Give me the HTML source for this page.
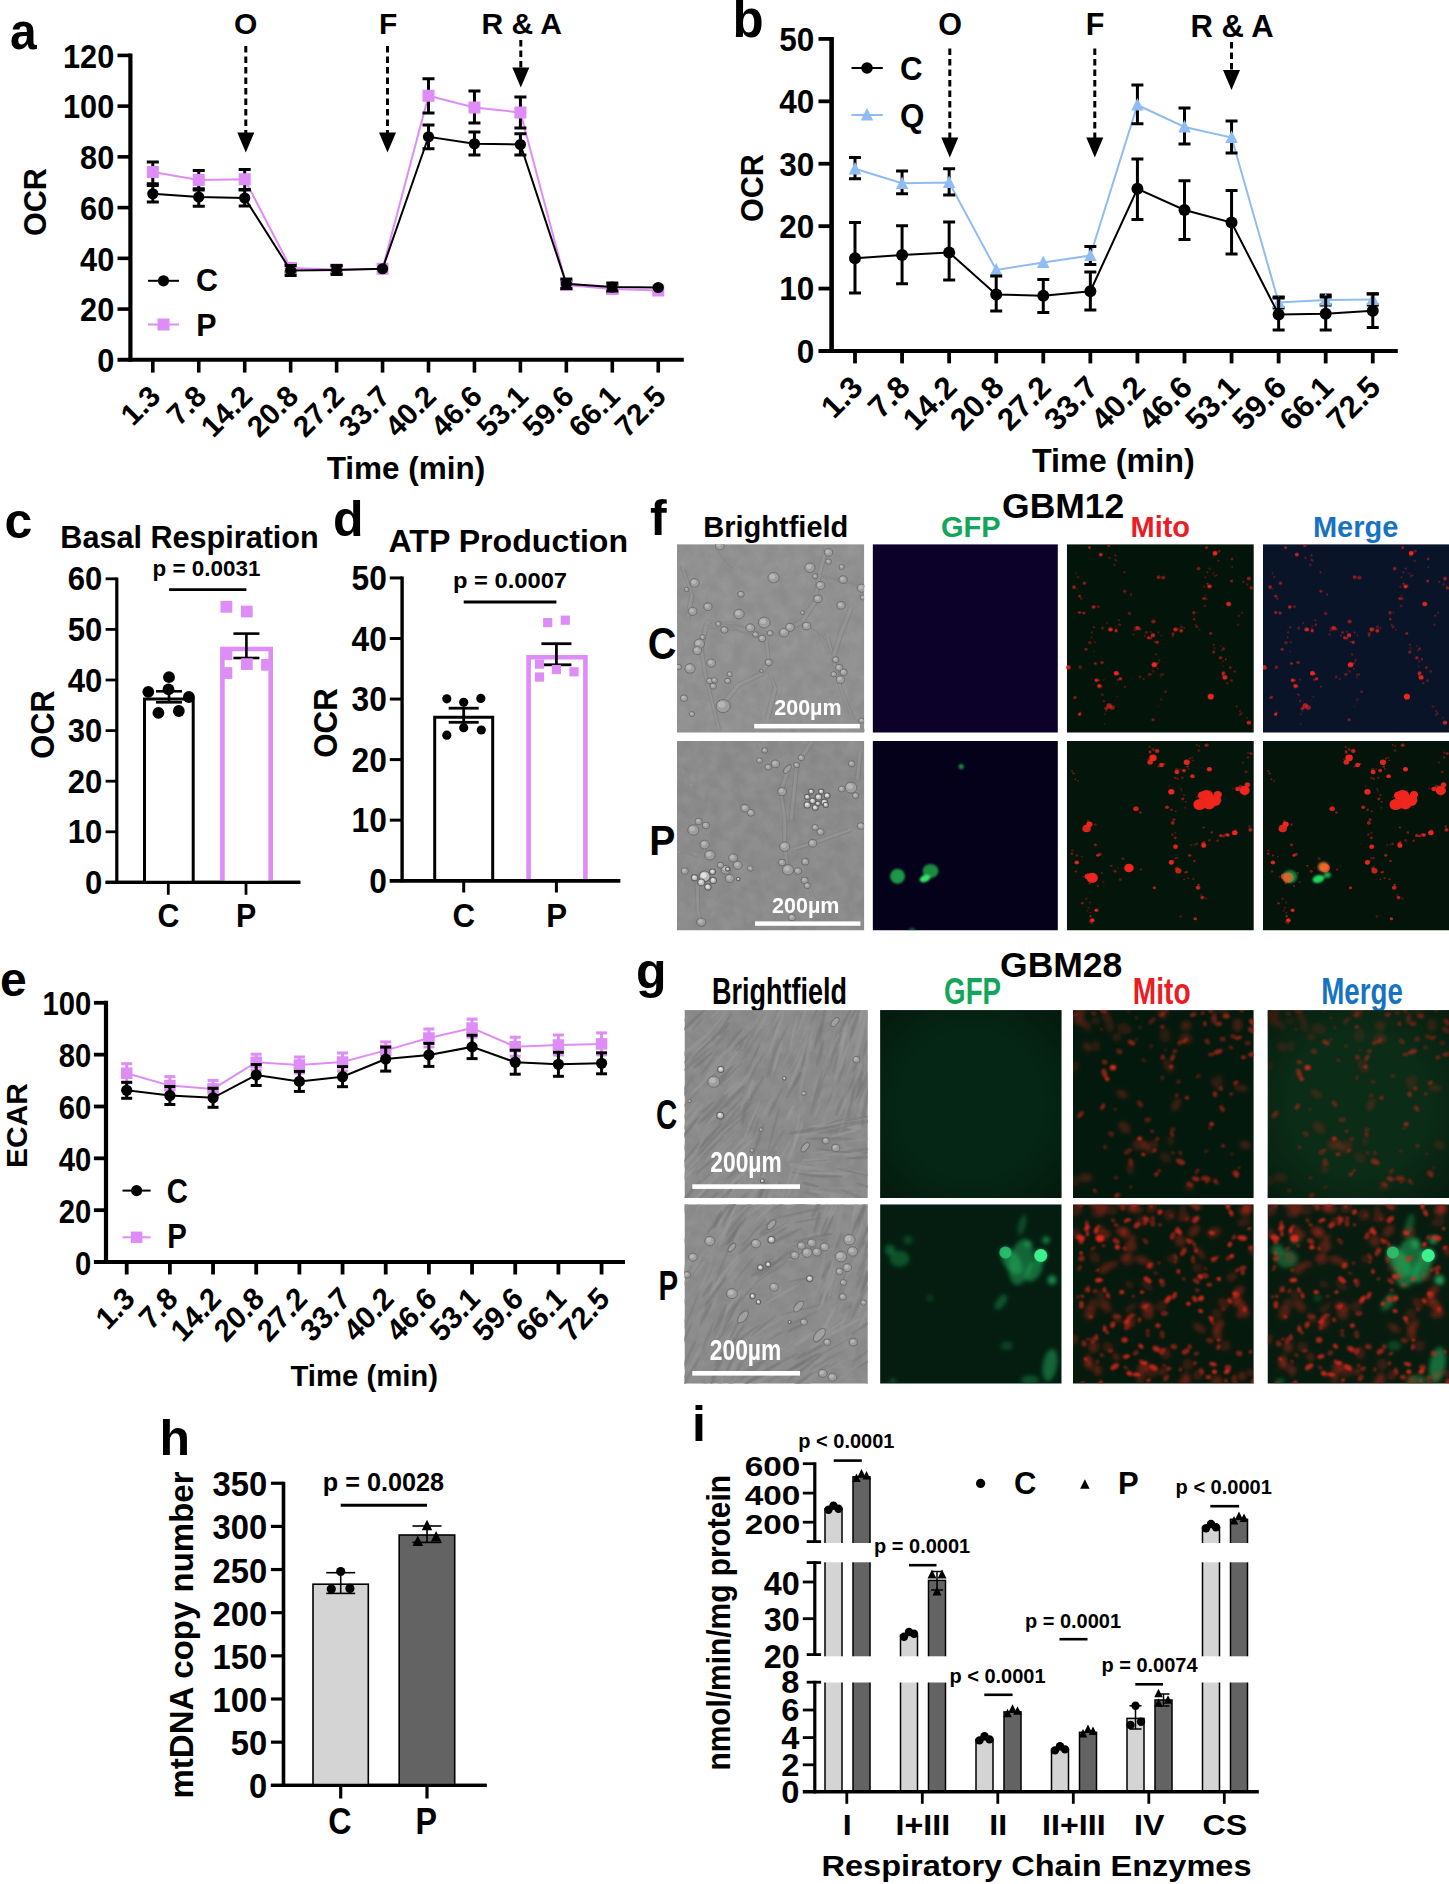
<!DOCTYPE html>
<html lang="en"><head><meta charset="utf-8"><title>Figure</title>
<style>html,body{margin:0;padding:0;background:#fff}svg{display:block}text{font-family:"Liberation Sans", sans-serif;font-weight:bold}</style></head>
<body>
<svg width="1449" height="1884" viewBox="0 0 1449 1884" font-family='"Liberation Sans", sans-serif' font-weight="bold" stroke="#000" fill="#000">
<rect width="1449" height="1884" fill="#fff" stroke="none"/>
<text stroke="none" transform="translate(10,49) scale(0.94,1)" font-size="51">a</text>
<line x1="130.4" y1="53.5" x2="130.4" y2="361.8" stroke-width="4.2"/>
<line x1="117.5" y1="359.8" x2="683.8" y2="359.8" stroke-width="4"/>
<text stroke="none" transform="translate(114.2,372.1) scale(0.93,1)" font-size="33" text-anchor="end">0</text>
<line x1="117.5" y1="309.07" x2="130.4" y2="309.07" stroke-width="3.6"/>
<text stroke="none" transform="translate(114.2,321.37) scale(0.93,1)" font-size="33" text-anchor="end">20</text>
<line x1="117.5" y1="258.33" x2="130.4" y2="258.33" stroke-width="3.6"/>
<text stroke="none" transform="translate(114.2,270.63) scale(0.93,1)" font-size="33" text-anchor="end">40</text>
<line x1="117.5" y1="207.6" x2="130.4" y2="207.6" stroke-width="3.6"/>
<text stroke="none" transform="translate(114.2,219.9) scale(0.93,1)" font-size="33" text-anchor="end">60</text>
<line x1="117.5" y1="156.87" x2="130.4" y2="156.87" stroke-width="3.6"/>
<text stroke="none" transform="translate(114.2,169.17) scale(0.93,1)" font-size="33" text-anchor="end">80</text>
<line x1="117.5" y1="106.13" x2="130.4" y2="106.13" stroke-width="3.6"/>
<text stroke="none" transform="translate(114.2,118.43) scale(0.93,1)" font-size="33" text-anchor="end">100</text>
<line x1="117.5" y1="55.4" x2="130.4" y2="55.4" stroke-width="3.6"/>
<text stroke="none" transform="translate(114.2,67.7) scale(0.93,1)" font-size="33" text-anchor="end">120</text>
<line x1="152.8" y1="359.8" x2="152.8" y2="372.6" stroke-width="3.6"/>
<text stroke="none" transform="translate(162.2,398) rotate(-45)" font-size="29.6" text-anchor="end">1.3</text>
<line x1="198.75" y1="359.8" x2="198.75" y2="372.6" stroke-width="3.6"/>
<text stroke="none" transform="translate(208.15,398) rotate(-45)" font-size="29.6" text-anchor="end">7.8</text>
<line x1="244.7" y1="359.8" x2="244.7" y2="372.6" stroke-width="3.6"/>
<text stroke="none" transform="translate(254.1,398) rotate(-45)" font-size="29.6" text-anchor="end">14.2</text>
<line x1="290.65" y1="359.8" x2="290.65" y2="372.6" stroke-width="3.6"/>
<text stroke="none" transform="translate(300.05,398) rotate(-45)" font-size="29.6" text-anchor="end">20.8</text>
<line x1="336.6" y1="359.8" x2="336.6" y2="372.6" stroke-width="3.6"/>
<text stroke="none" transform="translate(346,398) rotate(-45)" font-size="29.6" text-anchor="end">27.2</text>
<line x1="382.55" y1="359.8" x2="382.55" y2="372.6" stroke-width="3.6"/>
<text stroke="none" transform="translate(391.95,398) rotate(-45)" font-size="29.6" text-anchor="end">33.7</text>
<line x1="428.5" y1="359.8" x2="428.5" y2="372.6" stroke-width="3.6"/>
<text stroke="none" transform="translate(437.9,398) rotate(-45)" font-size="29.6" text-anchor="end">40.2</text>
<line x1="474.45" y1="359.8" x2="474.45" y2="372.6" stroke-width="3.6"/>
<text stroke="none" transform="translate(483.85,398) rotate(-45)" font-size="29.6" text-anchor="end">46.6</text>
<line x1="520.4" y1="359.8" x2="520.4" y2="372.6" stroke-width="3.6"/>
<text stroke="none" transform="translate(529.8,398) rotate(-45)" font-size="29.6" text-anchor="end">53.1</text>
<line x1="566.35" y1="359.8" x2="566.35" y2="372.6" stroke-width="3.6"/>
<text stroke="none" transform="translate(575.75,398) rotate(-45)" font-size="29.6" text-anchor="end">59.6</text>
<line x1="612.3" y1="359.8" x2="612.3" y2="372.6" stroke-width="3.6"/>
<text stroke="none" transform="translate(621.7,398) rotate(-45)" font-size="29.6" text-anchor="end">66.1</text>
<line x1="658.25" y1="359.8" x2="658.25" y2="372.6" stroke-width="3.6"/>
<text stroke="none" transform="translate(667.65,398) rotate(-45)" font-size="29.6" text-anchor="end">72.5</text>
<text stroke="none" transform="translate(46.3,202) rotate(-90)" font-size="30.5" text-anchor="middle">OCR</text>
<text stroke="none" transform="translate(406,478.5)" font-size="31.5" text-anchor="middle">Time (min)</text>
<text stroke="none" transform="translate(245.6,34)" font-size="30" text-anchor="middle">O</text>
<line x1="245.8" y1="46" x2="245.8" y2="134.5" stroke-width="3" stroke-dasharray="6.5 4"/>
<polygon points="237.3,132.5 254.3,132.5 245.8,152.5" fill="#000" stroke="none"/>
<text stroke="none" transform="translate(388.2,34)" font-size="30" text-anchor="middle">F</text>
<line x1="387.5" y1="46" x2="387.5" y2="134.5" stroke-width="3" stroke-dasharray="6.5 4"/>
<polygon points="379,132.5 396,132.5 387.5,152.5" fill="#000" stroke="none"/>
<text stroke="none" transform="translate(521.7,34)" font-size="30" text-anchor="middle">R &amp; A</text>
<line x1="520.8" y1="40" x2="520.8" y2="69.5" stroke-width="3" stroke-dasharray="6.5 4"/>
<polygon points="512.3,67.5 529.3,67.5 520.8,87.5" fill="#000" stroke="none"/>
<polyline points="152.8,172 198.75,180 244.7,179.25 290.65,268 336.6,269.5 382.55,268.75 428.5,95.75 474.45,107.5 520.4,112.5 566.35,285 612.3,289 658.25,290.5" fill="none" stroke="#de8cf6" stroke-width="2"/>
<line x1="152.8" y1="162" x2="152.8" y2="185.5" stroke-width="3"/>
<line x1="146.8" y1="162" x2="158.8" y2="162" stroke-width="3"/>
<line x1="146.8" y1="185.5" x2="158.8" y2="185.5" stroke-width="3"/>
<rect x="146.8" y="166" width="12" height="12" fill="#de8cf6" stroke="none"/>
<line x1="198.75" y1="170.5" x2="198.75" y2="190" stroke-width="3"/>
<line x1="192.75" y1="170.5" x2="204.75" y2="170.5" stroke-width="3"/>
<line x1="192.75" y1="190" x2="204.75" y2="190" stroke-width="3"/>
<rect x="192.75" y="174" width="12" height="12" fill="#de8cf6" stroke="none"/>
<line x1="244.7" y1="169.5" x2="244.7" y2="189.5" stroke-width="3"/>
<line x1="238.7" y1="169.5" x2="250.7" y2="169.5" stroke-width="3"/>
<line x1="238.7" y1="189.5" x2="250.7" y2="189.5" stroke-width="3"/>
<rect x="238.7" y="173.25" width="12" height="12" fill="#de8cf6" stroke="none"/>
<line x1="290.65" y1="264" x2="290.65" y2="272" stroke-width="3"/>
<line x1="284.65" y1="264" x2="296.65" y2="264" stroke-width="3"/>
<line x1="284.65" y1="272" x2="296.65" y2="272" stroke-width="3"/>
<rect x="284.65" y="262" width="12" height="12" fill="#de8cf6" stroke="none"/>
<line x1="336.6" y1="266" x2="336.6" y2="273" stroke-width="3"/>
<line x1="330.6" y1="266" x2="342.6" y2="266" stroke-width="3"/>
<line x1="330.6" y1="273" x2="342.6" y2="273" stroke-width="3"/>
<rect x="330.6" y="263.5" width="12" height="12" fill="#de8cf6" stroke="none"/>
<rect x="376.55" y="262.75" width="12" height="12" fill="#de8cf6" stroke="none"/>
<line x1="428.5" y1="78.75" x2="428.5" y2="113" stroke-width="3"/>
<line x1="422.5" y1="78.75" x2="434.5" y2="78.75" stroke-width="3"/>
<line x1="422.5" y1="113" x2="434.5" y2="113" stroke-width="3"/>
<rect x="422.5" y="89.75" width="12" height="12" fill="#de8cf6" stroke="none"/>
<line x1="474.45" y1="91" x2="474.45" y2="123" stroke-width="3"/>
<line x1="468.45" y1="91" x2="480.45" y2="91" stroke-width="3"/>
<line x1="468.45" y1="123" x2="480.45" y2="123" stroke-width="3"/>
<rect x="468.45" y="101.5" width="12" height="12" fill="#de8cf6" stroke="none"/>
<line x1="520.4" y1="97" x2="520.4" y2="128" stroke-width="3"/>
<line x1="514.4" y1="97" x2="526.4" y2="97" stroke-width="3"/>
<line x1="514.4" y1="128" x2="526.4" y2="128" stroke-width="3"/>
<rect x="514.4" y="106.5" width="12" height="12" fill="#de8cf6" stroke="none"/>
<line x1="566.35" y1="281" x2="566.35" y2="289" stroke-width="3"/>
<line x1="560.35" y1="281" x2="572.35" y2="281" stroke-width="3"/>
<line x1="560.35" y1="289" x2="572.35" y2="289" stroke-width="3"/>
<rect x="560.35" y="279" width="12" height="12" fill="#de8cf6" stroke="none"/>
<line x1="612.3" y1="285.5" x2="612.3" y2="292.5" stroke-width="3"/>
<line x1="606.3" y1="285.5" x2="618.3" y2="285.5" stroke-width="3"/>
<line x1="606.3" y1="292.5" x2="618.3" y2="292.5" stroke-width="3"/>
<rect x="606.3" y="283" width="12" height="12" fill="#de8cf6" stroke="none"/>
<rect x="652.25" y="284.5" width="12" height="12" fill="#de8cf6" stroke="none"/>
<polyline points="152.8,193.75 198.75,197 244.7,198 290.65,270.5 336.6,270 382.55,268.75 428.5,136.75 474.45,143.75 520.4,144.5 566.35,283.75 612.3,287 658.25,287.5" fill="none" stroke="#000" stroke-width="2"/>
<line x1="152.8" y1="183.75" x2="152.8" y2="202" stroke-width="3"/>
<line x1="146.8" y1="183.75" x2="158.8" y2="183.75" stroke-width="3"/>
<line x1="146.8" y1="202" x2="158.8" y2="202" stroke-width="3"/>
<circle cx="152.8" cy="193.75" r="5.6" fill="#000" stroke="none"/>
<line x1="198.75" y1="188.75" x2="198.75" y2="206.25" stroke-width="3"/>
<line x1="192.75" y1="188.75" x2="204.75" y2="188.75" stroke-width="3"/>
<line x1="192.75" y1="206.25" x2="204.75" y2="206.25" stroke-width="3"/>
<circle cx="198.75" cy="197" r="5.6" fill="#000" stroke="none"/>
<line x1="244.7" y1="190" x2="244.7" y2="206" stroke-width="3"/>
<line x1="238.7" y1="190" x2="250.7" y2="190" stroke-width="3"/>
<line x1="238.7" y1="206" x2="250.7" y2="206" stroke-width="3"/>
<circle cx="244.7" cy="198" r="5.6" fill="#000" stroke="none"/>
<line x1="290.65" y1="265.5" x2="290.65" y2="275.5" stroke-width="3"/>
<line x1="284.65" y1="265.5" x2="296.65" y2="265.5" stroke-width="3"/>
<line x1="284.65" y1="275.5" x2="296.65" y2="275.5" stroke-width="3"/>
<circle cx="290.65" cy="270.5" r="5.6" fill="#000" stroke="none"/>
<line x1="336.6" y1="265.5" x2="336.6" y2="274.5" stroke-width="3"/>
<line x1="330.6" y1="265.5" x2="342.6" y2="265.5" stroke-width="3"/>
<line x1="330.6" y1="274.5" x2="342.6" y2="274.5" stroke-width="3"/>
<circle cx="336.6" cy="270" r="5.6" fill="#000" stroke="none"/>
<circle cx="382.55" cy="268.75" r="5.6" fill="#000" stroke="none"/>
<line x1="428.5" y1="125" x2="428.5" y2="148.75" stroke-width="3"/>
<line x1="422.5" y1="125" x2="434.5" y2="125" stroke-width="3"/>
<line x1="422.5" y1="148.75" x2="434.5" y2="148.75" stroke-width="3"/>
<circle cx="428.5" cy="136.75" r="5.6" fill="#000" stroke="none"/>
<line x1="474.45" y1="132" x2="474.45" y2="155" stroke-width="3"/>
<line x1="468.45" y1="132" x2="480.45" y2="132" stroke-width="3"/>
<line x1="468.45" y1="155" x2="480.45" y2="155" stroke-width="3"/>
<circle cx="474.45" cy="143.75" r="5.6" fill="#000" stroke="none"/>
<line x1="520.4" y1="133.75" x2="520.4" y2="155" stroke-width="3"/>
<line x1="514.4" y1="133.75" x2="526.4" y2="133.75" stroke-width="3"/>
<line x1="514.4" y1="155" x2="526.4" y2="155" stroke-width="3"/>
<circle cx="520.4" cy="144.5" r="5.6" fill="#000" stroke="none"/>
<line x1="566.35" y1="279" x2="566.35" y2="288.5" stroke-width="3"/>
<line x1="560.35" y1="279" x2="572.35" y2="279" stroke-width="3"/>
<line x1="560.35" y1="288.5" x2="572.35" y2="288.5" stroke-width="3"/>
<circle cx="566.35" cy="283.75" r="5.6" fill="#000" stroke="none"/>
<line x1="612.3" y1="283" x2="612.3" y2="291" stroke-width="3"/>
<line x1="606.3" y1="283" x2="618.3" y2="283" stroke-width="3"/>
<line x1="606.3" y1="291" x2="618.3" y2="291" stroke-width="3"/>
<circle cx="612.3" cy="287" r="5.6" fill="#000" stroke="none"/>
<circle cx="658.25" cy="287.5" r="5.6" fill="#000" stroke="none"/>
<line x1="148" y1="280.8" x2="179" y2="280.8" stroke-width="2"/>
<circle cx="163.5" cy="280.8" r="5.6" fill="#000" stroke="none"/>
<text stroke="none" transform="translate(196,291.4) scale(0.95,1)" font-size="32">C</text>
<line x1="148" y1="324.5" x2="179" y2="324.5" stroke-width="2" stroke="#de8cf6"/>
<rect x="157.5" y="318.5" width="12" height="12" fill="#de8cf6" stroke="none"/>
<text stroke="none" transform="translate(196.3,335.9) scale(0.95,1)" font-size="32">P</text>
<text stroke="none" transform="translate(732.5,36.5)" font-size="51">b</text>
<line x1="831.6" y1="36.9" x2="831.6" y2="353" stroke-width="4.6"/>
<line x1="818.5" y1="351" x2="1397.8" y2="351" stroke-width="4.2"/>
<text stroke="none" transform="translate(814.3,362.8) scale(0.94,1)" font-size="33.5" text-anchor="end">0</text>
<line x1="818.5" y1="288.58" x2="831.6" y2="288.58" stroke-width="3.8"/>
<text stroke="none" transform="translate(814.3,300.38) scale(0.94,1)" font-size="33.5" text-anchor="end">10</text>
<line x1="818.5" y1="226.16" x2="831.6" y2="226.16" stroke-width="3.8"/>
<text stroke="none" transform="translate(814.3,237.96) scale(0.94,1)" font-size="33.5" text-anchor="end">20</text>
<line x1="818.5" y1="163.74" x2="831.6" y2="163.74" stroke-width="3.8"/>
<text stroke="none" transform="translate(814.3,175.54) scale(0.94,1)" font-size="33.5" text-anchor="end">30</text>
<line x1="818.5" y1="101.32" x2="831.6" y2="101.32" stroke-width="3.8"/>
<text stroke="none" transform="translate(814.3,113.12) scale(0.94,1)" font-size="33.5" text-anchor="end">40</text>
<line x1="818.5" y1="38.9" x2="831.6" y2="38.9" stroke-width="3.8"/>
<text stroke="none" transform="translate(814.3,50.7) scale(0.94,1)" font-size="33.5" text-anchor="end">50</text>
<line x1="855" y1="351" x2="855" y2="363.4" stroke-width="3.8"/>
<text stroke="none" transform="translate(864.6,389.3) rotate(-45)" font-size="31.2" text-anchor="end">1.3</text>
<line x1="902.07" y1="351" x2="902.07" y2="363.4" stroke-width="3.8"/>
<text stroke="none" transform="translate(911.67,389.3) rotate(-45)" font-size="31.2" text-anchor="end">7.8</text>
<line x1="949.14" y1="351" x2="949.14" y2="363.4" stroke-width="3.8"/>
<text stroke="none" transform="translate(958.74,389.3) rotate(-45)" font-size="31.2" text-anchor="end">14.2</text>
<line x1="996.21" y1="351" x2="996.21" y2="363.4" stroke-width="3.8"/>
<text stroke="none" transform="translate(1005.81,389.3) rotate(-45)" font-size="31.2" text-anchor="end">20.8</text>
<line x1="1043.28" y1="351" x2="1043.28" y2="363.4" stroke-width="3.8"/>
<text stroke="none" transform="translate(1052.88,389.3) rotate(-45)" font-size="31.2" text-anchor="end">27.2</text>
<line x1="1090.35" y1="351" x2="1090.35" y2="363.4" stroke-width="3.8"/>
<text stroke="none" transform="translate(1099.95,389.3) rotate(-45)" font-size="31.2" text-anchor="end">33.7</text>
<line x1="1137.42" y1="351" x2="1137.42" y2="363.4" stroke-width="3.8"/>
<text stroke="none" transform="translate(1147.02,389.3) rotate(-45)" font-size="31.2" text-anchor="end">40.2</text>
<line x1="1184.49" y1="351" x2="1184.49" y2="363.4" stroke-width="3.8"/>
<text stroke="none" transform="translate(1194.09,389.3) rotate(-45)" font-size="31.2" text-anchor="end">46.6</text>
<line x1="1231.56" y1="351" x2="1231.56" y2="363.4" stroke-width="3.8"/>
<text stroke="none" transform="translate(1241.16,389.3) rotate(-45)" font-size="31.2" text-anchor="end">53.1</text>
<line x1="1278.63" y1="351" x2="1278.63" y2="363.4" stroke-width="3.8"/>
<text stroke="none" transform="translate(1288.23,389.3) rotate(-45)" font-size="31.2" text-anchor="end">59.6</text>
<line x1="1325.7" y1="351" x2="1325.7" y2="363.4" stroke-width="3.8"/>
<text stroke="none" transform="translate(1335.3,389.3) rotate(-45)" font-size="31.2" text-anchor="end">66.1</text>
<line x1="1372.77" y1="351" x2="1372.77" y2="363.4" stroke-width="3.8"/>
<text stroke="none" transform="translate(1382.37,389.3) rotate(-45)" font-size="31.2" text-anchor="end">72.5</text>
<text stroke="none" transform="translate(762.6,188) rotate(-90)" font-size="30.5" text-anchor="middle">OCR</text>
<text stroke="none" transform="translate(1113.3,472)" font-size="32.3" text-anchor="middle">Time (min)</text>
<text stroke="none" transform="translate(950,35)" font-size="30.5" text-anchor="middle">O</text>
<line x1="949.8" y1="48.5" x2="949.8" y2="139.5" stroke-width="3" stroke-dasharray="6.5 4"/>
<polygon points="941.3,137.5 958.3,137.5 949.8,157.5" fill="#000" stroke="none"/>
<text stroke="none" transform="translate(1095,35)" font-size="30.5" text-anchor="middle">F</text>
<line x1="1094.8" y1="48.5" x2="1094.8" y2="139.5" stroke-width="3" stroke-dasharray="6.5 4"/>
<polygon points="1086.3,137.5 1103.3,137.5 1094.8,157.5" fill="#000" stroke="none"/>
<text stroke="none" transform="translate(1232,36.5)" font-size="31" text-anchor="middle">R &amp; A</text>
<line x1="1231.5" y1="42" x2="1231.5" y2="72" stroke-width="3" stroke-dasharray="6.5 4"/>
<polygon points="1223,70 1240,70 1231.5,90" fill="#000" stroke="none"/>
<polyline points="855,168.75 902.07,183.25 949.14,182.5 996.21,270 1043.28,262.5 1090.35,255.5 1137.42,105 1184.49,127 1231.56,137.5 1278.63,302.5 1325.7,300 1372.77,299.5" fill="none" stroke="#8fbcf3" stroke-width="2"/>
<line x1="855" y1="157.5" x2="855" y2="178.75" stroke-width="3"/>
<line x1="849" y1="157.5" x2="861" y2="157.5" stroke-width="3"/>
<line x1="849" y1="178.75" x2="861" y2="178.75" stroke-width="3"/>
<polygon points="855,161.88 848.75,174.38 861.25,174.38" fill="#8fbcf3" stroke="none"/>
<line x1="902.07" y1="171" x2="902.07" y2="193.75" stroke-width="3"/>
<line x1="896.07" y1="171" x2="908.07" y2="171" stroke-width="3"/>
<line x1="896.07" y1="193.75" x2="908.07" y2="193.75" stroke-width="3"/>
<polygon points="902.07,176.38 895.82,188.88 908.32,188.88" fill="#8fbcf3" stroke="none"/>
<line x1="949.14" y1="168.75" x2="949.14" y2="195" stroke-width="3"/>
<line x1="943.14" y1="168.75" x2="955.14" y2="168.75" stroke-width="3"/>
<line x1="943.14" y1="195" x2="955.14" y2="195" stroke-width="3"/>
<polygon points="949.14,175.62 942.89,188.12 955.39,188.12" fill="#8fbcf3" stroke="none"/>
<polygon points="996.21,263.12 989.96,275.62 1002.46,275.62" fill="#8fbcf3" stroke="none"/>
<polygon points="1043.28,255.62 1037.03,268.12 1049.53,268.12" fill="#8fbcf3" stroke="none"/>
<line x1="1090.35" y1="246.5" x2="1090.35" y2="264.5" stroke-width="3"/>
<line x1="1084.35" y1="246.5" x2="1096.35" y2="246.5" stroke-width="3"/>
<line x1="1084.35" y1="264.5" x2="1096.35" y2="264.5" stroke-width="3"/>
<polygon points="1090.35,248.62 1084.1,261.12 1096.6,261.12" fill="#8fbcf3" stroke="none"/>
<line x1="1137.42" y1="85" x2="1137.42" y2="123.75" stroke-width="3"/>
<line x1="1131.42" y1="85" x2="1143.42" y2="85" stroke-width="3"/>
<line x1="1131.42" y1="123.75" x2="1143.42" y2="123.75" stroke-width="3"/>
<polygon points="1137.42,98.12 1131.17,110.62 1143.67,110.62" fill="#8fbcf3" stroke="none"/>
<line x1="1184.49" y1="108" x2="1184.49" y2="144" stroke-width="3"/>
<line x1="1178.49" y1="108" x2="1190.49" y2="108" stroke-width="3"/>
<line x1="1178.49" y1="144" x2="1190.49" y2="144" stroke-width="3"/>
<polygon points="1184.49,120.12 1178.24,132.62 1190.74,132.62" fill="#8fbcf3" stroke="none"/>
<line x1="1231.56" y1="121" x2="1231.56" y2="153" stroke-width="3"/>
<line x1="1225.56" y1="121" x2="1237.56" y2="121" stroke-width="3"/>
<line x1="1225.56" y1="153" x2="1237.56" y2="153" stroke-width="3"/>
<polygon points="1231.56,130.62 1225.31,143.12 1237.81,143.12" fill="#8fbcf3" stroke="none"/>
<line x1="1278.63" y1="297" x2="1278.63" y2="308" stroke-width="3"/>
<line x1="1272.63" y1="297" x2="1284.63" y2="297" stroke-width="3"/>
<line x1="1272.63" y1="308" x2="1284.63" y2="308" stroke-width="3"/>
<polygon points="1278.63,295.62 1272.38,308.12 1284.88,308.12" fill="#8fbcf3" stroke="none"/>
<line x1="1325.7" y1="295" x2="1325.7" y2="305" stroke-width="3"/>
<line x1="1319.7" y1="295" x2="1331.7" y2="295" stroke-width="3"/>
<line x1="1319.7" y1="305" x2="1331.7" y2="305" stroke-width="3"/>
<polygon points="1325.7,293.12 1319.45,305.62 1331.95,305.62" fill="#8fbcf3" stroke="none"/>
<line x1="1372.77" y1="294" x2="1372.77" y2="305" stroke-width="3"/>
<line x1="1366.77" y1="294" x2="1378.77" y2="294" stroke-width="3"/>
<line x1="1366.77" y1="305" x2="1378.77" y2="305" stroke-width="3"/>
<polygon points="1372.77,292.62 1366.52,305.12 1379.02,305.12" fill="#8fbcf3" stroke="none"/>
<polyline points="855,258.25 902.07,255 949.14,252.5 996.21,294.5 1043.28,295.75 1090.35,291.25 1137.42,188.75 1184.49,210 1231.56,222.5 1278.63,314.5 1325.7,313.75 1372.77,310.75" fill="none" stroke="#000" stroke-width="2"/>
<line x1="855" y1="222.5" x2="855" y2="293" stroke-width="3"/>
<line x1="849" y1="222.5" x2="861" y2="222.5" stroke-width="3"/>
<line x1="849" y1="293" x2="861" y2="293" stroke-width="3"/>
<circle cx="855" cy="258.25" r="6" fill="#000" stroke="none"/>
<line x1="902.07" y1="225.75" x2="902.07" y2="283.75" stroke-width="3"/>
<line x1="896.07" y1="225.75" x2="908.07" y2="225.75" stroke-width="3"/>
<line x1="896.07" y1="283.75" x2="908.07" y2="283.75" stroke-width="3"/>
<circle cx="902.07" cy="255" r="6" fill="#000" stroke="none"/>
<line x1="949.14" y1="222" x2="949.14" y2="280" stroke-width="3"/>
<line x1="943.14" y1="222" x2="955.14" y2="222" stroke-width="3"/>
<line x1="943.14" y1="280" x2="955.14" y2="280" stroke-width="3"/>
<circle cx="949.14" cy="252.5" r="6" fill="#000" stroke="none"/>
<line x1="996.21" y1="276" x2="996.21" y2="311" stroke-width="3"/>
<line x1="990.21" y1="276" x2="1002.21" y2="276" stroke-width="3"/>
<line x1="990.21" y1="311" x2="1002.21" y2="311" stroke-width="3"/>
<circle cx="996.21" cy="294.5" r="6" fill="#000" stroke="none"/>
<line x1="1043.28" y1="279.5" x2="1043.28" y2="312.5" stroke-width="3"/>
<line x1="1037.28" y1="279.5" x2="1049.28" y2="279.5" stroke-width="3"/>
<line x1="1037.28" y1="312.5" x2="1049.28" y2="312.5" stroke-width="3"/>
<circle cx="1043.28" cy="295.75" r="6" fill="#000" stroke="none"/>
<line x1="1090.35" y1="272" x2="1090.35" y2="310" stroke-width="3"/>
<line x1="1084.35" y1="272" x2="1096.35" y2="272" stroke-width="3"/>
<line x1="1084.35" y1="310" x2="1096.35" y2="310" stroke-width="3"/>
<circle cx="1090.35" cy="291.25" r="6" fill="#000" stroke="none"/>
<line x1="1137.42" y1="159" x2="1137.42" y2="219.5" stroke-width="3"/>
<line x1="1131.42" y1="159" x2="1143.42" y2="159" stroke-width="3"/>
<line x1="1131.42" y1="219.5" x2="1143.42" y2="219.5" stroke-width="3"/>
<circle cx="1137.42" cy="188.75" r="6" fill="#000" stroke="none"/>
<line x1="1184.49" y1="180.75" x2="1184.49" y2="239.5" stroke-width="3"/>
<line x1="1178.49" y1="180.75" x2="1190.49" y2="180.75" stroke-width="3"/>
<line x1="1178.49" y1="239.5" x2="1190.49" y2="239.5" stroke-width="3"/>
<circle cx="1184.49" cy="210" r="6" fill="#000" stroke="none"/>
<line x1="1231.56" y1="190.5" x2="1231.56" y2="254" stroke-width="3"/>
<line x1="1225.56" y1="190.5" x2="1237.56" y2="190.5" stroke-width="3"/>
<line x1="1225.56" y1="254" x2="1237.56" y2="254" stroke-width="3"/>
<circle cx="1231.56" cy="222.5" r="6" fill="#000" stroke="none"/>
<line x1="1278.63" y1="298" x2="1278.63" y2="330" stroke-width="3"/>
<line x1="1272.63" y1="298" x2="1284.63" y2="298" stroke-width="3"/>
<line x1="1272.63" y1="330" x2="1284.63" y2="330" stroke-width="3"/>
<circle cx="1278.63" cy="314.5" r="6" fill="#000" stroke="none"/>
<line x1="1325.7" y1="297" x2="1325.7" y2="330" stroke-width="3"/>
<line x1="1319.7" y1="297" x2="1331.7" y2="297" stroke-width="3"/>
<line x1="1319.7" y1="330" x2="1331.7" y2="330" stroke-width="3"/>
<circle cx="1325.7" cy="313.75" r="6" fill="#000" stroke="none"/>
<line x1="1372.77" y1="293.75" x2="1372.77" y2="327.5" stroke-width="3"/>
<line x1="1366.77" y1="293.75" x2="1378.77" y2="293.75" stroke-width="3"/>
<line x1="1366.77" y1="327.5" x2="1378.77" y2="327.5" stroke-width="3"/>
<circle cx="1372.77" cy="310.75" r="6" fill="#000" stroke="none"/>
<line x1="851.5" y1="68" x2="882.8" y2="68" stroke-width="2"/>
<circle cx="867" cy="68" r="5.8" fill="#000" stroke="none"/>
<text stroke="none" transform="translate(900,80) scale(0.95,1)" font-size="33">C</text>
<line x1="851.5" y1="115" x2="882.8" y2="115" stroke-width="2" stroke="#8fbcf3"/>
<polygon points="867,108.12 860.75,120.62 873.25,120.62" fill="#8fbcf3" stroke="none"/>
<text stroke="none" transform="translate(900,126.5) scale(0.95,1)" font-size="33">Q</text>
<text stroke="none" transform="translate(4.5,537.6)" font-size="50">c</text>
<text stroke="none" transform="translate(189.5,547.5)" font-size="30.6" text-anchor="middle">Basal Respiration</text>
<text stroke="none" transform="translate(206.5,575.8) scale(1.02,1)" font-size="22" text-anchor="middle">p = 0.0031</text>
<line x1="169" y1="589.7" x2="246.4" y2="589.7" stroke-width="2.8"/>
<line x1="116.8" y1="577.4" x2="116.8" y2="883.9" stroke-width="3.2"/>
<line x1="105.6" y1="882.4" x2="300.3" y2="882.4" stroke-width="3.2"/>
<text stroke="none" transform="translate(102.2,894) scale(0.94,1)" font-size="33" text-anchor="end">0</text>
<line x1="105.6" y1="831.8" x2="116.8" y2="831.8" stroke-width="2.8"/>
<text stroke="none" transform="translate(102.2,843.4) scale(0.94,1)" font-size="33" text-anchor="end">10</text>
<line x1="105.6" y1="781.2" x2="116.8" y2="781.2" stroke-width="2.8"/>
<text stroke="none" transform="translate(102.2,792.8) scale(0.94,1)" font-size="33" text-anchor="end">20</text>
<line x1="105.6" y1="730.6" x2="116.8" y2="730.6" stroke-width="2.8"/>
<text stroke="none" transform="translate(102.2,742.2) scale(0.94,1)" font-size="33" text-anchor="end">30</text>
<line x1="105.6" y1="680" x2="116.8" y2="680" stroke-width="2.8"/>
<text stroke="none" transform="translate(102.2,691.6) scale(0.94,1)" font-size="33" text-anchor="end">40</text>
<line x1="105.6" y1="629.4" x2="116.8" y2="629.4" stroke-width="2.8"/>
<text stroke="none" transform="translate(102.2,641) scale(0.94,1)" font-size="33" text-anchor="end">50</text>
<line x1="105.6" y1="578.8" x2="116.8" y2="578.8" stroke-width="2.8"/>
<text stroke="none" transform="translate(102.2,590.4) scale(0.94,1)" font-size="33" text-anchor="end">60</text>
<line x1="168.3" y1="882.4" x2="168.3" y2="894.8" stroke-width="2.8"/>
<text stroke="none" transform="translate(168.5,927.4) scale(0.92,1)" font-size="33" text-anchor="middle">C</text>
<line x1="246" y1="882.4" x2="246" y2="894.8" stroke-width="2.8"/>
<text stroke="none" transform="translate(246.2,927.4) scale(0.92,1)" font-size="33" text-anchor="middle">P</text>
<text stroke="none" transform="translate(54.1,724.6) rotate(-90) scale(0.92,1)" font-size="33.5" text-anchor="middle">OCR</text>
<path d="M144.5 882.4 V699.1 H193.2 V882.4" fill="#fff" stroke="#000" stroke-width="3"/>
<path d="M222.4 882.4 V649 H270.7 V882.4" fill="#fff" stroke="#de8cf6" stroke-width="4.6"/>
<line x1="105.6" y1="882.4" x2="300.3" y2="882.4" stroke-width="3.2"/>
<line x1="246.4" y1="633.6" x2="246.4" y2="658" stroke-width="2.6"/>
<line x1="233.4" y1="633.6" x2="259.4" y2="633.6" stroke-width="2.6"/>
<line x1="233.4" y1="658" x2="259.4" y2="658" stroke-width="2.6"/>
<line x1="169" y1="691.3" x2="169" y2="702.3" stroke-width="2.6"/>
<line x1="156" y1="691.3" x2="182" y2="691.3" stroke-width="2.6"/>
<line x1="156" y1="702.3" x2="182" y2="702.3" stroke-width="2.6"/>
<circle cx="169" cy="677.2" r="5.9" fill="#000" stroke="none"/>
<circle cx="148.3" cy="691.8" r="5.9" fill="#000" stroke="none"/>
<circle cx="168.5" cy="689.4" r="5.9" fill="#000" stroke="none"/>
<circle cx="188.9" cy="697" r="5.9" fill="#000" stroke="none"/>
<circle cx="158.4" cy="712.9" r="5.9" fill="#000" stroke="none"/>
<circle cx="178.8" cy="711" r="5.9" fill="#000" stroke="none"/>
<rect x="220.5" y="600.9" width="11.8" height="11.8" fill="#de8cf6" stroke="none"/>
<rect x="240.9" y="605.6" width="11.8" height="11.8" fill="#de8cf6" stroke="none"/>
<rect x="220.5" y="648.3" width="11.8" height="11.8" fill="#de8cf6" stroke="none"/>
<rect x="240.9" y="658.2" width="11.8" height="11.8" fill="#de8cf6" stroke="none"/>
<rect x="261.1" y="658.9" width="11.8" height="11.8" fill="#de8cf6" stroke="none"/>
<rect x="220.5" y="667.1" width="11.8" height="11.8" fill="#de8cf6" stroke="none"/>
<text stroke="none" transform="translate(333,535.8)" font-size="50">d</text>
<text stroke="none" transform="translate(508.3,552.2) scale(1.01,1)" font-size="31.8" text-anchor="middle">ATP Production</text>
<text stroke="none" transform="translate(510,587.6) scale(1.05,1)" font-size="22.6" text-anchor="middle">p = 0.0007</text>
<line x1="463.7" y1="601.9" x2="556.4" y2="601.9" stroke-width="3"/>
<line x1="402.1" y1="576.45" x2="402.1" y2="882.3" stroke-width="3.4"/>
<line x1="389.8" y1="880.7" x2="620.2" y2="880.7" stroke-width="3.4"/>
<text stroke="none" transform="translate(386.8,892.9) scale(0.92,1)" font-size="34.5" text-anchor="end">0</text>
<line x1="389.8" y1="820.15" x2="402.1" y2="820.15" stroke-width="3"/>
<text stroke="none" transform="translate(386.8,832.35) scale(0.92,1)" font-size="34.5" text-anchor="end">10</text>
<line x1="389.8" y1="759.6" x2="402.1" y2="759.6" stroke-width="3"/>
<text stroke="none" transform="translate(386.8,771.8) scale(0.92,1)" font-size="34.5" text-anchor="end">20</text>
<line x1="389.8" y1="699.05" x2="402.1" y2="699.05" stroke-width="3"/>
<text stroke="none" transform="translate(386.8,711.25) scale(0.92,1)" font-size="34.5" text-anchor="end">30</text>
<line x1="389.8" y1="638.5" x2="402.1" y2="638.5" stroke-width="3"/>
<text stroke="none" transform="translate(386.8,650.7) scale(0.92,1)" font-size="34.5" text-anchor="end">40</text>
<line x1="389.8" y1="577.95" x2="402.1" y2="577.95" stroke-width="3"/>
<text stroke="none" transform="translate(386.8,590.15) scale(0.92,1)" font-size="34.5" text-anchor="end">50</text>
<line x1="463.7" y1="880.7" x2="463.7" y2="892.5" stroke-width="3"/>
<text stroke="none" transform="translate(463.9,927) scale(0.92,1)" font-size="34" text-anchor="middle">C</text>
<line x1="556.4" y1="880.7" x2="556.4" y2="892.5" stroke-width="3"/>
<text stroke="none" transform="translate(556.6,927) scale(0.92,1)" font-size="34" text-anchor="middle">P</text>
<text stroke="none" transform="translate(337.2,723) rotate(-90) scale(0.92,1)" font-size="34" text-anchor="middle">OCR</text>
<path d="M434.7 880.7 V717.2 H492.7 V880.7" fill="#fff" stroke="#000" stroke-width="3"/>
<path d="M528.6 880.7 V657.2 H585.4 V880.7" fill="#fff" stroke="#de8cf6" stroke-width="4.6"/>
<line x1="389.8" y1="880.7" x2="620.2" y2="880.7" stroke-width="3.4"/>
<line x1="556.4" y1="643.7" x2="556.4" y2="664.8" stroke-width="2.8"/>
<line x1="541.4" y1="643.7" x2="571.4" y2="643.7" stroke-width="2.8"/>
<line x1="541.4" y1="664.8" x2="571.4" y2="664.8" stroke-width="2.8"/>
<line x1="463.7" y1="708.2" x2="463.7" y2="722.3" stroke-width="2.8"/>
<line x1="448.7" y1="708.2" x2="478.7" y2="708.2" stroke-width="2.8"/>
<line x1="448.7" y1="722.3" x2="478.7" y2="722.3" stroke-width="2.8"/>
<circle cx="446.8" cy="698.8" r="4.6" fill="#000" stroke="none"/>
<circle cx="463.7" cy="702.3" r="4.6" fill="#000" stroke="none"/>
<circle cx="480.8" cy="698.4" r="4.6" fill="#000" stroke="none"/>
<circle cx="463.7" cy="727.7" r="4.6" fill="#000" stroke="none"/>
<circle cx="481.3" cy="730" r="4.6" fill="#000" stroke="none"/>
<circle cx="446.8" cy="735.2" r="4.6" fill="#000" stroke="none"/>
<rect x="543.1" y="618" width="9.2" height="9.2" fill="#de8cf6" stroke="none"/>
<rect x="560.7" y="615.6" width="9.2" height="9.2" fill="#de8cf6" stroke="none"/>
<rect x="534.9" y="659.5" width="9.2" height="9.2" fill="#de8cf6" stroke="none"/>
<rect x="551.8" y="664.9" width="9.2" height="9.2" fill="#de8cf6" stroke="none"/>
<rect x="569.4" y="667.2" width="9.2" height="9.2" fill="#de8cf6" stroke="none"/>
<rect x="534.9" y="672.4" width="9.2" height="9.2" fill="#de8cf6" stroke="none"/>
<text stroke="none" transform="translate(0,996)" font-size="48">e</text>
<line x1="106" y1="1000.8" x2="106" y2="1264" stroke-width="4.2"/>
<line x1="93.9" y1="1262" x2="625" y2="1262" stroke-width="4"/>
<text stroke="none" transform="translate(91.2,1274.5) scale(0.86,1)" font-size="34" text-anchor="end">0</text>
<line x1="93.9" y1="1210.16" x2="106" y2="1210.16" stroke-width="3.8"/>
<text stroke="none" transform="translate(91.2,1222.66) scale(0.86,1)" font-size="34" text-anchor="end">20</text>
<line x1="93.9" y1="1158.32" x2="106" y2="1158.32" stroke-width="3.8"/>
<text stroke="none" transform="translate(91.2,1170.82) scale(0.86,1)" font-size="34" text-anchor="end">40</text>
<line x1="93.9" y1="1106.48" x2="106" y2="1106.48" stroke-width="3.8"/>
<text stroke="none" transform="translate(91.2,1118.98) scale(0.86,1)" font-size="34" text-anchor="end">60</text>
<line x1="93.9" y1="1054.64" x2="106" y2="1054.64" stroke-width="3.8"/>
<text stroke="none" transform="translate(91.2,1067.14) scale(0.86,1)" font-size="34" text-anchor="end">80</text>
<line x1="93.9" y1="1002.8" x2="106" y2="1002.8" stroke-width="3.8"/>
<text stroke="none" transform="translate(91.2,1015.3) scale(0.86,1)" font-size="34" text-anchor="end">100</text>
<line x1="126.7" y1="1262" x2="126.7" y2="1274.5" stroke-width="3.8"/>
<text stroke="none" transform="translate(136.3,1300.5) scale(1,1.08) rotate(-45)" font-size="29" text-anchor="end">1.3</text>
<line x1="169.87" y1="1262" x2="169.87" y2="1274.5" stroke-width="3.8"/>
<text stroke="none" transform="translate(179.47,1300.5) scale(1,1.08) rotate(-45)" font-size="29" text-anchor="end">7.8</text>
<line x1="213.04" y1="1262" x2="213.04" y2="1274.5" stroke-width="3.8"/>
<text stroke="none" transform="translate(222.64,1300.5) scale(1,1.08) rotate(-45)" font-size="29" text-anchor="end">14.2</text>
<line x1="256.21" y1="1262" x2="256.21" y2="1274.5" stroke-width="3.8"/>
<text stroke="none" transform="translate(265.81,1300.5) scale(1,1.08) rotate(-45)" font-size="29" text-anchor="end">20.8</text>
<line x1="299.38" y1="1262" x2="299.38" y2="1274.5" stroke-width="3.8"/>
<text stroke="none" transform="translate(308.98,1300.5) scale(1,1.08) rotate(-45)" font-size="29" text-anchor="end">27.2</text>
<line x1="342.55" y1="1262" x2="342.55" y2="1274.5" stroke-width="3.8"/>
<text stroke="none" transform="translate(352.15,1300.5) scale(1,1.08) rotate(-45)" font-size="29" text-anchor="end">33.7</text>
<line x1="385.72" y1="1262" x2="385.72" y2="1274.5" stroke-width="3.8"/>
<text stroke="none" transform="translate(395.32,1300.5) scale(1,1.08) rotate(-45)" font-size="29" text-anchor="end">40.2</text>
<line x1="428.89" y1="1262" x2="428.89" y2="1274.5" stroke-width="3.8"/>
<text stroke="none" transform="translate(438.49,1300.5) scale(1,1.08) rotate(-45)" font-size="29" text-anchor="end">46.6</text>
<line x1="472.06" y1="1262" x2="472.06" y2="1274.5" stroke-width="3.8"/>
<text stroke="none" transform="translate(481.66,1300.5) scale(1,1.08) rotate(-45)" font-size="29" text-anchor="end">53.1</text>
<line x1="515.23" y1="1262" x2="515.23" y2="1274.5" stroke-width="3.8"/>
<text stroke="none" transform="translate(524.83,1300.5) scale(1,1.08) rotate(-45)" font-size="29" text-anchor="end">59.6</text>
<line x1="558.4" y1="1262" x2="558.4" y2="1274.5" stroke-width="3.8"/>
<text stroke="none" transform="translate(568,1300.5) scale(1,1.08) rotate(-45)" font-size="29" text-anchor="end">66.1</text>
<line x1="601.57" y1="1262" x2="601.57" y2="1274.5" stroke-width="3.8"/>
<text stroke="none" transform="translate(611.17,1300.5) scale(1,1.08) rotate(-45)" font-size="29" text-anchor="end">72.5</text>
<text stroke="none" transform="translate(26.9,1125.5) rotate(-90)" font-size="30" text-anchor="middle">ECAR</text>
<text stroke="none" transform="translate(364.2,1386) scale(1,1.03)" font-size="29.3" text-anchor="middle">Time (min)</text>
<polyline points="126.7,1073.2 169.87,1085.6 213.04,1088.9 256.21,1062.2 299.38,1065 342.55,1062 385.72,1050.4 428.89,1038 472.06,1028.1 515.23,1046.7 558.4,1045 601.57,1043.9" fill="none" stroke="#de8cf6" stroke-width="2"/>
<line x1="126.7" y1="1063.7" x2="126.7" y2="1082.7" stroke-width="3" stroke="#de8cf6"/>
<line x1="121.2" y1="1063.7" x2="132.2" y2="1063.7" stroke-width="3" stroke="#de8cf6"/>
<line x1="121.2" y1="1082.7" x2="132.2" y2="1082.7" stroke-width="3" stroke="#de8cf6"/>
<rect x="120.95" y="1067.45" width="11.5" height="11.5" fill="#de8cf6" stroke="none"/>
<line x1="169.87" y1="1076.6" x2="169.87" y2="1094.6" stroke-width="3" stroke="#de8cf6"/>
<line x1="164.37" y1="1076.6" x2="175.37" y2="1076.6" stroke-width="3" stroke="#de8cf6"/>
<line x1="164.37" y1="1094.6" x2="175.37" y2="1094.6" stroke-width="3" stroke="#de8cf6"/>
<rect x="164.12" y="1079.85" width="11.5" height="11.5" fill="#de8cf6" stroke="none"/>
<line x1="213.04" y1="1080.4" x2="213.04" y2="1097.4" stroke-width="3" stroke="#de8cf6"/>
<line x1="207.54" y1="1080.4" x2="218.54" y2="1080.4" stroke-width="3" stroke="#de8cf6"/>
<line x1="207.54" y1="1097.4" x2="218.54" y2="1097.4" stroke-width="3" stroke="#de8cf6"/>
<rect x="207.29" y="1083.15" width="11.5" height="11.5" fill="#de8cf6" stroke="none"/>
<line x1="256.21" y1="1054.2" x2="256.21" y2="1070.2" stroke-width="3" stroke="#de8cf6"/>
<line x1="250.71" y1="1054.2" x2="261.71" y2="1054.2" stroke-width="3" stroke="#de8cf6"/>
<line x1="250.71" y1="1070.2" x2="261.71" y2="1070.2" stroke-width="3" stroke="#de8cf6"/>
<rect x="250.46" y="1056.45" width="11.5" height="11.5" fill="#de8cf6" stroke="none"/>
<line x1="299.38" y1="1057" x2="299.38" y2="1073" stroke-width="3" stroke="#de8cf6"/>
<line x1="293.88" y1="1057" x2="304.88" y2="1057" stroke-width="3" stroke="#de8cf6"/>
<line x1="293.88" y1="1073" x2="304.88" y2="1073" stroke-width="3" stroke="#de8cf6"/>
<rect x="293.63" y="1059.25" width="11.5" height="11.5" fill="#de8cf6" stroke="none"/>
<line x1="342.55" y1="1053" x2="342.55" y2="1071" stroke-width="3" stroke="#de8cf6"/>
<line x1="337.05" y1="1053" x2="348.05" y2="1053" stroke-width="3" stroke="#de8cf6"/>
<line x1="337.05" y1="1071" x2="348.05" y2="1071" stroke-width="3" stroke="#de8cf6"/>
<rect x="336.8" y="1056.25" width="11.5" height="11.5" fill="#de8cf6" stroke="none"/>
<line x1="385.72" y1="1041.9" x2="385.72" y2="1058.9" stroke-width="3" stroke="#de8cf6"/>
<line x1="380.22" y1="1041.9" x2="391.22" y2="1041.9" stroke-width="3" stroke="#de8cf6"/>
<line x1="380.22" y1="1058.9" x2="391.22" y2="1058.9" stroke-width="3" stroke="#de8cf6"/>
<rect x="379.97" y="1044.65" width="11.5" height="11.5" fill="#de8cf6" stroke="none"/>
<line x1="428.89" y1="1029" x2="428.89" y2="1047" stroke-width="3" stroke="#de8cf6"/>
<line x1="423.39" y1="1029" x2="434.39" y2="1029" stroke-width="3" stroke="#de8cf6"/>
<line x1="423.39" y1="1047" x2="434.39" y2="1047" stroke-width="3" stroke="#de8cf6"/>
<rect x="423.14" y="1032.25" width="11.5" height="11.5" fill="#de8cf6" stroke="none"/>
<line x1="472.06" y1="1019.1" x2="472.06" y2="1037.1" stroke-width="3" stroke="#de8cf6"/>
<line x1="466.56" y1="1019.1" x2="477.56" y2="1019.1" stroke-width="3" stroke="#de8cf6"/>
<line x1="466.56" y1="1037.1" x2="477.56" y2="1037.1" stroke-width="3" stroke="#de8cf6"/>
<rect x="466.31" y="1022.35" width="11.5" height="11.5" fill="#de8cf6" stroke="none"/>
<line x1="515.23" y1="1037.2" x2="515.23" y2="1056.2" stroke-width="3" stroke="#de8cf6"/>
<line x1="509.73" y1="1037.2" x2="520.73" y2="1037.2" stroke-width="3" stroke="#de8cf6"/>
<line x1="509.73" y1="1056.2" x2="520.73" y2="1056.2" stroke-width="3" stroke="#de8cf6"/>
<rect x="509.48" y="1040.95" width="11.5" height="11.5" fill="#de8cf6" stroke="none"/>
<line x1="558.4" y1="1035" x2="558.4" y2="1055" stroke-width="3" stroke="#de8cf6"/>
<line x1="552.9" y1="1035" x2="563.9" y2="1035" stroke-width="3" stroke="#de8cf6"/>
<line x1="552.9" y1="1055" x2="563.9" y2="1055" stroke-width="3" stroke="#de8cf6"/>
<rect x="552.65" y="1039.25" width="11.5" height="11.5" fill="#de8cf6" stroke="none"/>
<line x1="601.57" y1="1032.9" x2="601.57" y2="1054.9" stroke-width="3" stroke="#de8cf6"/>
<line x1="596.07" y1="1032.9" x2="607.07" y2="1032.9" stroke-width="3" stroke="#de8cf6"/>
<line x1="596.07" y1="1054.9" x2="607.07" y2="1054.9" stroke-width="3" stroke="#de8cf6"/>
<rect x="595.82" y="1038.15" width="11.5" height="11.5" fill="#de8cf6" stroke="none"/>
<polyline points="126.7,1090.3 169.87,1095.5 213.04,1097.8 256.21,1075 299.38,1081.4 342.55,1076.7 385.72,1059.1 428.89,1054.9 472.06,1046.9 515.23,1062.2 558.4,1064.3 601.57,1063.3" fill="none" stroke="#000" stroke-width="2"/>
<line x1="126.7" y1="1082.3" x2="126.7" y2="1098.3" stroke-width="3"/>
<line x1="121.2" y1="1082.3" x2="132.2" y2="1082.3" stroke-width="3"/>
<line x1="121.2" y1="1098.3" x2="132.2" y2="1098.3" stroke-width="3"/>
<circle cx="126.7" cy="1090.3" r="5.6" fill="#000" stroke="none"/>
<line x1="169.87" y1="1086.5" x2="169.87" y2="1104.5" stroke-width="3"/>
<line x1="164.37" y1="1086.5" x2="175.37" y2="1086.5" stroke-width="3"/>
<line x1="164.37" y1="1104.5" x2="175.37" y2="1104.5" stroke-width="3"/>
<circle cx="169.87" cy="1095.5" r="5.6" fill="#000" stroke="none"/>
<line x1="213.04" y1="1088.3" x2="213.04" y2="1107.3" stroke-width="3"/>
<line x1="207.54" y1="1088.3" x2="218.54" y2="1088.3" stroke-width="3"/>
<line x1="207.54" y1="1107.3" x2="218.54" y2="1107.3" stroke-width="3"/>
<circle cx="213.04" cy="1097.8" r="5.6" fill="#000" stroke="none"/>
<line x1="256.21" y1="1064.5" x2="256.21" y2="1085.5" stroke-width="3"/>
<line x1="250.71" y1="1064.5" x2="261.71" y2="1064.5" stroke-width="3"/>
<line x1="250.71" y1="1085.5" x2="261.71" y2="1085.5" stroke-width="3"/>
<circle cx="256.21" cy="1075" r="5.6" fill="#000" stroke="none"/>
<line x1="299.38" y1="1071.4" x2="299.38" y2="1091.4" stroke-width="3"/>
<line x1="293.88" y1="1071.4" x2="304.88" y2="1071.4" stroke-width="3"/>
<line x1="293.88" y1="1091.4" x2="304.88" y2="1091.4" stroke-width="3"/>
<circle cx="299.38" cy="1081.4" r="5.6" fill="#000" stroke="none"/>
<line x1="342.55" y1="1066.7" x2="342.55" y2="1086.7" stroke-width="3"/>
<line x1="337.05" y1="1066.7" x2="348.05" y2="1066.7" stroke-width="3"/>
<line x1="337.05" y1="1086.7" x2="348.05" y2="1086.7" stroke-width="3"/>
<circle cx="342.55" cy="1076.7" r="5.6" fill="#000" stroke="none"/>
<line x1="385.72" y1="1047.1" x2="385.72" y2="1071.1" stroke-width="3"/>
<line x1="380.22" y1="1047.1" x2="391.22" y2="1047.1" stroke-width="3"/>
<line x1="380.22" y1="1071.1" x2="391.22" y2="1071.1" stroke-width="3"/>
<circle cx="385.72" cy="1059.1" r="5.6" fill="#000" stroke="none"/>
<line x1="428.89" y1="1043.4" x2="428.89" y2="1066.4" stroke-width="3"/>
<line x1="423.39" y1="1043.4" x2="434.39" y2="1043.4" stroke-width="3"/>
<line x1="423.39" y1="1066.4" x2="434.39" y2="1066.4" stroke-width="3"/>
<circle cx="428.89" cy="1054.9" r="5.6" fill="#000" stroke="none"/>
<line x1="472.06" y1="1035.2" x2="472.06" y2="1058.6" stroke-width="3"/>
<line x1="466.56" y1="1035.2" x2="477.56" y2="1035.2" stroke-width="3"/>
<line x1="466.56" y1="1058.6" x2="477.56" y2="1058.6" stroke-width="3"/>
<circle cx="472.06" cy="1046.9" r="5.6" fill="#000" stroke="none"/>
<line x1="515.23" y1="1050.2" x2="515.23" y2="1074.2" stroke-width="3"/>
<line x1="509.73" y1="1050.2" x2="520.73" y2="1050.2" stroke-width="3"/>
<line x1="509.73" y1="1074.2" x2="520.73" y2="1074.2" stroke-width="3"/>
<circle cx="515.23" cy="1062.2" r="5.6" fill="#000" stroke="none"/>
<line x1="558.4" y1="1052.3" x2="558.4" y2="1076.3" stroke-width="3"/>
<line x1="552.9" y1="1052.3" x2="563.9" y2="1052.3" stroke-width="3"/>
<line x1="552.9" y1="1076.3" x2="563.9" y2="1076.3" stroke-width="3"/>
<circle cx="558.4" cy="1064.3" r="5.6" fill="#000" stroke="none"/>
<line x1="601.57" y1="1052.8" x2="601.57" y2="1073.8" stroke-width="3"/>
<line x1="596.07" y1="1052.8" x2="607.07" y2="1052.8" stroke-width="3"/>
<line x1="596.07" y1="1073.8" x2="607.07" y2="1073.8" stroke-width="3"/>
<circle cx="601.57" cy="1063.3" r="5.6" fill="#000" stroke="none"/>
<line x1="122.5" y1="1190.6" x2="150.6" y2="1190.6" stroke-width="2"/>
<circle cx="136.6" cy="1190.6" r="5.6" fill="#000" stroke="none"/>
<text stroke="none" transform="translate(166.8,1202.5) scale(0.85,1)" font-size="34.5">C</text>
<line x1="122.5" y1="1237.3" x2="150.6" y2="1237.3" stroke-width="2" stroke="#de8cf6"/>
<rect x="130.85" y="1231.55" width="11.5" height="11.5" fill="#de8cf6" stroke="none"/>
<text stroke="none" transform="translate(167.3,1247.7) scale(0.85,1)" font-size="34.5">P</text>
<text stroke="none" transform="translate(159.5,1455.3)" font-size="50">h</text>
<line x1="283.5" y1="1481.65" x2="283.5" y2="1786.9" stroke-width="3.6"/>
<line x1="270.9" y1="1785.3" x2="486.6" y2="1785.3" stroke-width="3.3"/>
<text stroke="none" transform="translate(267.2,1798.3) scale(0.91,1)" font-size="36" text-anchor="end">0</text>
<line x1="270.9" y1="1742.15" x2="283.5" y2="1742.15" stroke-width="3.2"/>
<text stroke="none" transform="translate(267.2,1755.15) scale(0.91,1)" font-size="36" text-anchor="end">50</text>
<line x1="270.9" y1="1699" x2="283.5" y2="1699" stroke-width="3.2"/>
<text stroke="none" transform="translate(267.2,1712) scale(0.91,1)" font-size="36" text-anchor="end">100</text>
<line x1="270.9" y1="1655.85" x2="283.5" y2="1655.85" stroke-width="3.2"/>
<text stroke="none" transform="translate(267.2,1668.85) scale(0.91,1)" font-size="36" text-anchor="end">150</text>
<line x1="270.9" y1="1612.7" x2="283.5" y2="1612.7" stroke-width="3.2"/>
<text stroke="none" transform="translate(267.2,1625.7) scale(0.91,1)" font-size="36" text-anchor="end">200</text>
<line x1="270.9" y1="1569.55" x2="283.5" y2="1569.55" stroke-width="3.2"/>
<text stroke="none" transform="translate(267.2,1582.55) scale(0.91,1)" font-size="36" text-anchor="end">250</text>
<line x1="270.9" y1="1526.4" x2="283.5" y2="1526.4" stroke-width="3.2"/>
<text stroke="none" transform="translate(267.2,1539.4) scale(0.91,1)" font-size="36" text-anchor="end">300</text>
<line x1="270.9" y1="1483.25" x2="283.5" y2="1483.25" stroke-width="3.2"/>
<text stroke="none" transform="translate(267.2,1496.25) scale(0.91,1)" font-size="36" text-anchor="end">350</text>
<line x1="340.7" y1="1785.3" x2="340.7" y2="1798.5" stroke-width="3.2"/>
<text stroke="none" transform="translate(339.9,1833.8) scale(0.87,1)" font-size="37" text-anchor="middle">C</text>
<line x1="427" y1="1785.3" x2="427" y2="1798.5" stroke-width="3.2"/>
<text stroke="none" transform="translate(426.2,1833.8) scale(0.87,1)" font-size="37" text-anchor="middle">P</text>
<text stroke="none" transform="translate(193.4,1635) rotate(-90)" font-size="33" text-anchor="middle">mtDNA copy number</text>
<text stroke="none" transform="translate(383.5,1490.8) scale(0.97,1)" font-size="26" text-anchor="middle">p = 0.0028</text>
<line x1="340.7" y1="1505.2" x2="427" y2="1505.2" stroke-width="3"/>
<rect x="313" y="1584.2" width="55.3" height="201.1" fill="#d4d4d4" stroke="#000" stroke-width="1.6"/>
<rect x="399.2" y="1535" width="55.5" height="250.3" fill="#636363" stroke="#000" stroke-width="1.6"/>
<line x1="270.9" y1="1785.3" x2="486.6" y2="1785.3" stroke-width="3.3"/>
<line x1="340.7" y1="1572.7" x2="340.7" y2="1593.4" stroke-width="1.6"/>
<line x1="326.2" y1="1572.7" x2="355.2" y2="1572.7" stroke-width="1.6"/>
<line x1="326.2" y1="1593.4" x2="355.2" y2="1593.4" stroke-width="1.6"/>
<line x1="427" y1="1526" x2="427" y2="1542.4" stroke-width="1.6"/>
<line x1="412.5" y1="1526" x2="441.5" y2="1526" stroke-width="1.6"/>
<line x1="412.5" y1="1542.4" x2="441.5" y2="1542.4" stroke-width="1.6"/>
<circle cx="340.7" cy="1571.5" r="4.6" fill="#000" stroke="none"/>
<circle cx="331.3" cy="1588.9" r="4.6" fill="#000" stroke="none"/>
<circle cx="349.9" cy="1588.4" r="4.6" fill="#000" stroke="none"/>
<polygon points="427,1519.72 421.75,1530.22 432.25,1530.22" fill="#000" stroke="none"/>
<polygon points="417.8,1535.42 412.55,1545.92 423.05,1545.92" fill="#000" stroke="none"/>
<polygon points="436.1,1530.92 430.85,1541.42 441.35,1541.42" fill="#000" stroke="none"/>
<text stroke="none" transform="translate(692,1440.8)" font-size="50">i</text>
<rect x="825" y="1508.8" width="17" height="283" fill="#d4d4d4" stroke="#000" stroke-width="1.5"/>
<rect x="853" y="1476.8" width="17" height="315" fill="#636363" stroke="#000" stroke-width="1.5"/>
<rect x="900.5" y="1635.2" width="17" height="156.6" fill="#d4d4d4" stroke="#000" stroke-width="1.5"/>
<rect x="928.5" y="1580.4" width="17" height="211.4" fill="#636363" stroke="#000" stroke-width="1.5"/>
<rect x="976" y="1739.4" width="17" height="52.4" fill="#d4d4d4" stroke="#000" stroke-width="1.5"/>
<rect x="1004" y="1711.9" width="17" height="79.9" fill="#636363" stroke="#000" stroke-width="1.5"/>
<rect x="1051.5" y="1749.4" width="17" height="42.4" fill="#d4d4d4" stroke="#000" stroke-width="1.5"/>
<rect x="1079.5" y="1732.3" width="17" height="59.5" fill="#636363" stroke="#000" stroke-width="1.5"/>
<rect x="1127" y="1718.4" width="17" height="73.4" fill="#d4d4d4" stroke="#000" stroke-width="1.5"/>
<rect x="1155" y="1700" width="17" height="91.8" fill="#636363" stroke="#000" stroke-width="1.5"/>
<rect x="1202.5" y="1527.2" width="17" height="264.6" fill="#d4d4d4" stroke="#000" stroke-width="1.5"/>
<rect x="1230.5" y="1519.3" width="17" height="272.5" fill="#636363" stroke="#000" stroke-width="1.5"/>
<rect x="818" y="1543" width="445" height="19.3" fill="#fff" stroke="none"/>
<rect x="818" y="1656.3" width="445" height="26.2" fill="#fff" stroke="none"/>
<line x1="814.8" y1="1462.3" x2="814.8" y2="1543" stroke-width="3.2"/>
<line x1="806.7" y1="1541.6" x2="821.1" y2="1541.6" stroke-width="2.8"/>
<line x1="802.8" y1="1463.7" x2="814.8" y2="1463.7" stroke-width="2.8"/>
<text stroke="none" transform="translate(800.3,1475.9) scale(1.17,1)" font-size="28.5" text-anchor="end">600</text>
<line x1="802.8" y1="1493.1" x2="814.8" y2="1493.1" stroke-width="2.8"/>
<text stroke="none" transform="translate(800.3,1505.3) scale(1.17,1)" font-size="28.5" text-anchor="end">400</text>
<line x1="802.8" y1="1522.2" x2="814.8" y2="1522.2" stroke-width="2.8"/>
<text stroke="none" transform="translate(800.3,1534.4) scale(1.17,1)" font-size="28.5" text-anchor="end">200</text>
<line x1="814.8" y1="1561.2" x2="814.8" y2="1656" stroke-width="3.2"/>
<line x1="806.7" y1="1562.6" x2="821.1" y2="1562.6" stroke-width="2.8"/>
<line x1="806.7" y1="1654.6" x2="821.1" y2="1654.6" stroke-width="2.8"/>
<line x1="802.8" y1="1582" x2="814.8" y2="1582" stroke-width="2.8"/>
<text stroke="none" transform="translate(799.8,1594.6) scale(0.98,1)" font-size="33" text-anchor="end">40</text>
<line x1="802.8" y1="1618.7" x2="814.8" y2="1618.7" stroke-width="2.8"/>
<text stroke="none" transform="translate(799.8,1631.3) scale(0.98,1)" font-size="33" text-anchor="end">30</text>
<text stroke="none" transform="translate(799.8,1667.5) scale(0.98,1)" font-size="33" text-anchor="end">20</text>
<line x1="814.8" y1="1680.8" x2="814.8" y2="1793.4" stroke-width="3.2"/>
<line x1="806.7" y1="1682.2" x2="821.1" y2="1682.2" stroke-width="2.8"/>
<text stroke="none" transform="translate(799.5,1693.2) scale(1.02,1)" font-size="32" text-anchor="end">8</text>
<line x1="802.8" y1="1710" x2="814.8" y2="1710" stroke-width="2.8"/>
<text stroke="none" transform="translate(799.5,1721) scale(1.02,1)" font-size="32" text-anchor="end">6</text>
<line x1="802.8" y1="1737.6" x2="814.8" y2="1737.6" stroke-width="2.8"/>
<text stroke="none" transform="translate(799.5,1748.6) scale(1.02,1)" font-size="32" text-anchor="end">4</text>
<line x1="802.8" y1="1764.8" x2="814.8" y2="1764.8" stroke-width="2.8"/>
<text stroke="none" transform="translate(799.5,1775.8) scale(1.02,1)" font-size="32" text-anchor="end">2</text>
<text stroke="none" transform="translate(799.5,1802.8) scale(1.02,1)" font-size="32" text-anchor="end">0</text>
<line x1="802.8" y1="1791.8" x2="1258.8" y2="1791.8" stroke-width="3.4"/>
<line x1="846.8" y1="1791.8" x2="846.8" y2="1803.8" stroke-width="2.8"/>
<text stroke="none" transform="translate(847.3,1835) scale(1.06,1)" font-size="30.4" text-anchor="middle">I</text>
<line x1="922.3" y1="1791.8" x2="922.3" y2="1803.8" stroke-width="2.8"/>
<text stroke="none" transform="translate(922.8,1835) scale(1.06,1)" font-size="30.4" text-anchor="middle">I+III</text>
<line x1="997.8" y1="1791.8" x2="997.8" y2="1803.8" stroke-width="2.8"/>
<text stroke="none" transform="translate(998.3,1835) scale(1.06,1)" font-size="30.4" text-anchor="middle">II</text>
<line x1="1073.3" y1="1791.8" x2="1073.3" y2="1803.8" stroke-width="2.8"/>
<text stroke="none" transform="translate(1073.8,1835) scale(1.06,1)" font-size="30.4" text-anchor="middle">II+III</text>
<line x1="1148.8" y1="1791.8" x2="1148.8" y2="1803.8" stroke-width="2.8"/>
<text stroke="none" transform="translate(1149.3,1835) scale(1.06,1)" font-size="30.4" text-anchor="middle">IV</text>
<line x1="1224.3" y1="1791.8" x2="1224.3" y2="1803.8" stroke-width="2.8"/>
<text stroke="none" transform="translate(1224.8,1835) scale(1.06,1)" font-size="30.4" text-anchor="middle">CS</text>
<text stroke="none" transform="translate(1036.5,1875.8) scale(1.11,1)" font-size="29.3" text-anchor="middle">Respiratory Chain Enzymes</text>
<text stroke="none" transform="translate(729.5,1622.8) rotate(-90) scale(0.92,1)" font-size="32.5" text-anchor="middle">nmol/min/mg protein</text>
<circle cx="980.6" cy="1483.4" r="4.6" fill="#000" stroke="none"/>
<text stroke="none" transform="translate(1014,1494)" font-size="31">C</text>
<polygon points="1084.9,1479.28 1080.15,1488.78 1089.65,1488.78" fill="#000" stroke="none"/>
<text stroke="none" transform="translate(1118,1494)" font-size="31">P</text>
<text stroke="none" transform="translate(846.4,1448.4)" font-size="20" text-anchor="middle">p &lt; 0.0001</text>
<line x1="833.7" y1="1460.6" x2="861.8" y2="1460.6" stroke-width="2.6"/>
<text stroke="none" transform="translate(922.1,1553.2)" font-size="20" text-anchor="middle">p = 0.0001</text>
<line x1="909" y1="1565.2" x2="936.5" y2="1565.2" stroke-width="2.6"/>
<text stroke="none" transform="translate(997.5,1683)" font-size="20" text-anchor="middle">p &lt; 0.0001</text>
<line x1="984.3" y1="1694.8" x2="1012.6" y2="1694.8" stroke-width="2.6"/>
<text stroke="none" transform="translate(1073,1628.2)" font-size="20" text-anchor="middle">p = 0.0001</text>
<line x1="1059.5" y1="1639.2" x2="1087.5" y2="1639.2" stroke-width="2.6"/>
<text stroke="none" transform="translate(1149.5,1672)" font-size="20" text-anchor="middle">p = 0.0074</text>
<line x1="1135.3" y1="1684.3" x2="1163" y2="1684.3" stroke-width="2.6"/>
<text stroke="none" transform="translate(1223.7,1494.4)" font-size="20" text-anchor="middle">p &lt; 0.0001</text>
<line x1="1210.3" y1="1506.2" x2="1239.1" y2="1506.2" stroke-width="2.6"/>
<circle cx="833.5" cy="1505.6" r="4.2" fill="#000" stroke="none"/>
<circle cx="828.5" cy="1509.8" r="4.2" fill="#000" stroke="none"/>
<circle cx="838.5" cy="1508.8" r="4.2" fill="#000" stroke="none"/>
<polygon points="861.5,1469.12 857.25,1477.62 865.75,1477.62" fill="#000" stroke="none"/>
<polygon points="856.5,1473.62 852.25,1482.12 860.75,1482.12" fill="#000" stroke="none"/>
<polygon points="866.5,1471.12 862.25,1479.62 870.75,1479.62" fill="#000" stroke="none"/>
<circle cx="909" cy="1632" r="4.2" fill="#000" stroke="none"/>
<circle cx="904" cy="1636.7" r="4.2" fill="#000" stroke="none"/>
<circle cx="914" cy="1633.7" r="4.2" fill="#000" stroke="none"/>
<line x1="937" y1="1571.5" x2="937" y2="1590" stroke-width="1.5"/>
<line x1="931" y1="1571.5" x2="943" y2="1571.5" stroke-width="1.5"/>
<line x1="931" y1="1590" x2="943" y2="1590" stroke-width="1.5"/>
<polygon points="932,1569.55 927.5,1578.55 936.5,1578.55" fill="#000" stroke="none"/>
<polygon points="942,1569.55 937.5,1578.55 946.5,1578.55" fill="#000" stroke="none"/>
<polygon points="937,1586.55 932.5,1595.55 941.5,1595.55" fill="#000" stroke="none"/>
<circle cx="984.5" cy="1736.2" r="4.2" fill="#000" stroke="none"/>
<circle cx="979.5" cy="1740.4" r="4.2" fill="#000" stroke="none"/>
<circle cx="989.5" cy="1739.4" r="4.2" fill="#000" stroke="none"/>
<polygon points="1012.5,1704.23 1008.25,1712.73 1016.75,1712.73" fill="#000" stroke="none"/>
<polygon points="1007.5,1708.73 1003.25,1717.23 1011.75,1717.23" fill="#000" stroke="none"/>
<polygon points="1017.5,1706.23 1013.25,1714.73 1021.75,1714.73" fill="#000" stroke="none"/>
<circle cx="1060" cy="1746.2" r="4.2" fill="#000" stroke="none"/>
<circle cx="1055" cy="1750.4" r="4.2" fill="#000" stroke="none"/>
<circle cx="1065" cy="1749.4" r="4.2" fill="#000" stroke="none"/>
<polygon points="1088,1724.62 1083.75,1733.12 1092.25,1733.12" fill="#000" stroke="none"/>
<polygon points="1083,1729.12 1078.75,1737.62 1087.25,1737.62" fill="#000" stroke="none"/>
<polygon points="1093,1726.62 1088.75,1735.12 1097.25,1735.12" fill="#000" stroke="none"/>
<line x1="1135.5" y1="1705.8" x2="1135.5" y2="1729" stroke-width="1.5"/>
<line x1="1129.5" y1="1705.8" x2="1141.5" y2="1705.8" stroke-width="1.5"/>
<line x1="1129.5" y1="1729" x2="1141.5" y2="1729" stroke-width="1.5"/>
<circle cx="1135.5" cy="1705.8" r="4.2" fill="#000" stroke="none"/>
<circle cx="1130.5" cy="1725" r="4.2" fill="#000" stroke="none"/>
<circle cx="1141" cy="1721.8" r="4.2" fill="#000" stroke="none"/>
<line x1="1163.5" y1="1694" x2="1163.5" y2="1706" stroke-width="1.5"/>
<line x1="1157.5" y1="1694" x2="1169.5" y2="1694" stroke-width="1.5"/>
<line x1="1157.5" y1="1706" x2="1169.5" y2="1706" stroke-width="1.5"/>
<polygon points="1158.5,1688.83 1154.25,1697.33 1162.75,1697.33" fill="#000" stroke="none"/>
<polygon points="1158.5,1698.33 1154.25,1706.83 1162.75,1706.83" fill="#000" stroke="none"/>
<polygon points="1168,1695.33 1163.75,1703.83 1172.25,1703.83" fill="#000" stroke="none"/>
<circle cx="1211" cy="1524" r="4.2" fill="#000" stroke="none"/>
<circle cx="1206" cy="1528.2" r="4.2" fill="#000" stroke="none"/>
<circle cx="1216" cy="1527.2" r="4.2" fill="#000" stroke="none"/>
<polygon points="1239,1511.62 1234.75,1520.12 1243.25,1520.12" fill="#000" stroke="none"/>
<polygon points="1234,1516.12 1229.75,1524.62 1238.25,1524.62" fill="#000" stroke="none"/>
<polygon points="1244,1513.62 1239.75,1522.12 1248.25,1522.12" fill="#000" stroke="none"/>
<defs><filter id="b0" x="-5%" y="-5%" width="110%" height="110%"><feGaussianBlur stdDeviation="0.55"/></filter><filter id="b1" x="-5%" y="-5%" width="110%" height="110%"><feGaussianBlur stdDeviation="0.7"/></filter><filter id="b09" x="-5%" y="-5%" width="110%" height="110%"><feGaussianBlur stdDeviation="0.95"/></filter><filter id="b15" x="-5%" y="-5%" width="110%" height="110%"><feGaussianBlur stdDeviation="1.3"/></filter><filter id="b2" x="-10%" y="-10%" width="120%" height="120%"><feGaussianBlur stdDeviation="2.2"/></filter><filter id="nz" x="0" y="0" width="100%" height="100%"><feTurbulence type="fractalNoise" baseFrequency="0.09" numOctaves="3" seed="4"/><feColorMatrix type="matrix" values="0 0 0 0 0.5  0 0 0 0 0.5  0 0 0 0 0.5  1.6 0 0 0 -0.35"/></filter><filter id="nz2" x="0" y="0" width="100%" height="100%"><feTurbulence type="fractalNoise" baseFrequency="0.07" numOctaves="3" seed="9"/><feColorMatrix type="matrix" values="0 0 0 0 1  0 0 0 0 1  0 0 0 0 1  1.6 0 0 0 -0.45"/></filter><radialGradient id="vg"><stop offset="0.55" stop-color="#000" stop-opacity="0"/><stop offset="1" stop-color="#000" stop-opacity="0.35"/></radialGradient></defs>
<text stroke="none" transform="translate(650,535.3)" font-size="50">f</text>
<text stroke="none" transform="translate(775.8,536.6)" font-size="29" text-anchor="middle">Brightfield</text>
<text stroke="none" transform="translate(970.8,536.6)" font-size="29" text-anchor="middle" fill="#12a65a">GFP</text>
<text stroke="none" transform="translate(1063.2,517.8)" font-size="35.5" text-anchor="middle">GBM12</text>
<text stroke="none" transform="translate(1160.3,536.5)" font-size="29" text-anchor="middle" fill="#ec1c24">Mito</text>
<text stroke="none" transform="translate(1355.6,536.5)" font-size="29" text-anchor="middle" fill="#1773c2">Merge</text>
<text stroke="none" transform="translate(647.8,659) scale(0.91,1)" font-size="43.5">C</text>
<text stroke="none" transform="translate(649.3,855) scale(0.91,1)" font-size="43">P</text>
<svg x="677" y="544.2" width="187.1" height="188.4" overflow="hidden" stroke="none">
<rect width="188.1" height="189.4" fill="#8c8c8c" stroke="none"/>
<rect width="188.1" height="189.4" filter="url(#nz)" opacity="0.13"/>
<rect width="188.1" height="189.4" filter="url(#nz2)" opacity="0.08"/>
<g filter="url(#b1)" fill="none" stroke-linecap="round" stroke-linejoin="round">
<path d="M30.87 77.12 L57.37 79.77 L82.55 87.72 L103.75 90.37 L124.95 77.12 L138.2 57.24 L142.18 30.74 L148.8 5.57" stroke="#989898" stroke-width="3.4" opacity="0.5"/>
<path d="M30.87 77.12 L57.37 79.77 L82.55 87.72 L103.75 90.37 L124.95 77.12 L138.2 57.24 L142.18 30.74 L148.8 5.57" stroke="#747474" stroke-width="0.9" opacity="0.55" transform="translate(2,1.33)"/>
<path d="M30.87 77.12 L57.37 79.77 L82.55 87.72 L103.75 90.37 L124.95 77.12 L138.2 57.24 L142.18 30.74 L148.8 5.57" stroke="#777777" stroke-width="0.8" opacity="0.5" transform="translate(-2,-1.33)"/>
<path d="M29.55 79.77 L24.25 103.62 L28.22 130.12 L34.85 156.62 L41.47 183.12" stroke="#989898" stroke-width="3.4" opacity="0.5"/>
<path d="M29.55 79.77 L24.25 103.62 L28.22 130.12 L34.85 156.62 L41.47 183.12" stroke="#747474" stroke-width="0.9" opacity="0.55" transform="translate(2,1.33)"/>
<path d="M29.55 79.77 L24.25 103.62 L28.22 130.12 L34.85 156.62 L41.47 183.12" stroke="#777777" stroke-width="0.8" opacity="0.5" transform="translate(-2,-1.33)"/>
<path d="M89.17 95.67 L91.82 116.87 L83.87 130.12 L61.35 140.72 L49.42 155.29" stroke="#989898" stroke-width="3.4" opacity="0.5"/>
<path d="M89.17 95.67 L91.82 116.87 L83.87 130.12 L61.35 140.72 L49.42 155.29" stroke="#747474" stroke-width="0.9" opacity="0.55" transform="translate(2,1.33)"/>
<path d="M89.17 95.67 L91.82 116.87 L83.87 130.12 L61.35 140.72 L49.42 155.29" stroke="#777777" stroke-width="0.8" opacity="0.5" transform="translate(-2,-1.33)"/>
<path d="M142.18 30.74 L170 37.37 L185.9 41.34" stroke="#989898" stroke-width="3.4" opacity="0.5"/>
<path d="M142.18 30.74 L170 37.37 L185.9 41.34" stroke="#747474" stroke-width="0.9" opacity="0.55" transform="translate(2,1.33)"/>
<path d="M142.18 30.74 L170 37.37 L185.9 41.34" stroke="#777777" stroke-width="0.8" opacity="0.5" transform="translate(-2,-1.33)"/>
<path d="M5.7 24.12 L14.97 50.62 L11 71.82" stroke="#989898" stroke-width="3.4" opacity="0.5"/>
<path d="M5.7 24.12 L14.97 50.62 L11 71.82" stroke="#747474" stroke-width="0.9" opacity="0.55" transform="translate(2,1.33)"/>
<path d="M5.7 24.12 L14.97 50.62 L11 71.82" stroke="#777777" stroke-width="0.8" opacity="0.5" transform="translate(-2,-1.33)"/>
<path d="M150.13 90.37 L156.75 116.87 L163.38 143.37 L173.98 169.87 L185.9 185.77" stroke="#989898" stroke-width="3.4" opacity="0.5"/>
<path d="M150.13 90.37 L156.75 116.87 L163.38 143.37 L173.98 169.87 L185.9 185.77" stroke="#747474" stroke-width="0.9" opacity="0.55" transform="translate(2,1.33)"/>
<path d="M150.13 90.37 L156.75 116.87 L163.38 143.37 L173.98 169.87 L185.9 185.77" stroke="#777777" stroke-width="0.8" opacity="0.5" transform="translate(-2,-1.33)"/>
<path d="M37.5 2.92 L48.1 17.49 L57.37 25.44" stroke="#989898" stroke-width="3.4" opacity="0.5"/>
<path d="M37.5 2.92 L48.1 17.49 L57.37 25.44" stroke="#747474" stroke-width="0.9" opacity="0.55" transform="translate(2,1.33)"/>
<path d="M37.5 2.92 L48.1 17.49 L57.37 25.44" stroke="#777777" stroke-width="0.8" opacity="0.5" transform="translate(-2,-1.33)"/>
<path d="M93.15 130.12 L98.45 143.37 L90.5 173.84" stroke="#989898" stroke-width="3.4" opacity="0.5"/>
<path d="M93.15 130.12 L98.45 143.37 L90.5 173.84" stroke="#747474" stroke-width="0.9" opacity="0.55" transform="translate(2,1.33)"/>
<path d="M93.15 130.12 L98.45 143.37 L90.5 173.84" stroke="#777777" stroke-width="0.8" opacity="0.5" transform="translate(-2,-1.33)"/>
<path d="M124.95 77.12 L143.5 90.37 L154.1 111.57" stroke="#989898" stroke-width="3.4" opacity="0.5"/>
<path d="M124.95 77.12 L143.5 90.37 L154.1 111.57" stroke="#747474" stroke-width="0.9" opacity="0.55" transform="translate(2,1.33)"/>
<path d="M124.95 77.12 L143.5 90.37 L154.1 111.57" stroke="#777777" stroke-width="0.8" opacity="0.5" transform="translate(-2,-1.33)"/>
<path d="M173.98 63.87 L163.38 90.37 L156.75 111.57" stroke="#989898" stroke-width="3.4" opacity="0.5"/>
<path d="M173.98 63.87 L163.38 90.37 L156.75 111.57" stroke="#747474" stroke-width="0.9" opacity="0.55" transform="translate(2,1.33)"/>
<path d="M173.98 63.87 L163.38 90.37 L156.75 111.57" stroke="#777777" stroke-width="0.8" opacity="0.5" transform="translate(-2,-1.33)"/>
<path d="M30.87 82.42 L57.37 85.07 L82.55 93.02" stroke="#989898" stroke-width="3.4" opacity="0.5"/>
<path d="M30.87 82.42 L57.37 85.07 L82.55 93.02" stroke="#747474" stroke-width="0.9" opacity="0.55" transform="translate(2,1.33)"/>
<path d="M30.87 82.42 L57.37 85.07 L82.55 93.02" stroke="#777777" stroke-width="0.8" opacity="0.5" transform="translate(-2,-1.33)"/>
</g>
<g filter="url(#b0)">
<ellipse cx="17.6" cy="38.7" rx="4.7" ry="4.4" fill="#a0a0a0" opacity="0.9" stroke="#6a6a6a" stroke-width="1"/>
<ellipse cx="16.7" cy="37.6" rx="2.4" ry="2.1" fill="#bdbdbd" opacity="0.8"/>
<ellipse cx="96.5" cy="33.4" rx="5.6" ry="5.2" fill="#a0a0a0" opacity="0.9" stroke="#6a6a6a" stroke-width="1"/>
<ellipse cx="95.3" cy="32.2" rx="2.8" ry="2.5" fill="#bdbdbd" opacity="0.8"/>
<ellipse cx="42.8" cy="1.6" rx="4.5" ry="4.1" fill="#a0a0a0" opacity="0.9" stroke="#6a6a6a" stroke-width="1"/>
<ellipse cx="41.9" cy="0.6" rx="2.2" ry="2" fill="#bdbdbd" opacity="0.8"/>
<ellipse cx="151.5" cy="8.2" rx="4.2" ry="3.8" fill="#a0a0a0" opacity="0.9" stroke="#6a6a6a" stroke-width="1"/>
<ellipse cx="150.6" cy="7.3" rx="2.1" ry="1.9" fill="#bdbdbd" opacity="0.8"/>
<ellipse cx="132.9" cy="23.5" rx="5.2" ry="4.8" fill="#a0a0a0" opacity="0.9" stroke="#6a6a6a" stroke-width="1"/>
<ellipse cx="131.9" cy="22.3" rx="2.6" ry="2.3" fill="#bdbdbd" opacity="0.8"/>
<ellipse cx="166" cy="35.4" rx="4.2" ry="3.8" fill="#a0a0a0" opacity="0.9" stroke="#6a6a6a" stroke-width="1"/>
<ellipse cx="165.2" cy="34.5" rx="2.1" ry="1.9" fill="#bdbdbd" opacity="0.8"/>
<ellipse cx="143.5" cy="41.3" rx="4.5" ry="4.1" fill="#a0a0a0" opacity="0.9" stroke="#6a6a6a" stroke-width="1"/>
<ellipse cx="142.6" cy="40.4" rx="2.2" ry="2" fill="#bdbdbd" opacity="0.8"/>
<ellipse cx="140.9" cy="54.6" rx="4.2" ry="3.8" fill="#a0a0a0" opacity="0.9" stroke="#6a6a6a" stroke-width="1"/>
<ellipse cx="140" cy="53.7" rx="2.1" ry="1.9" fill="#bdbdbd" opacity="0.8"/>
<ellipse cx="164" cy="61.2" rx="4.2" ry="3.8" fill="#a0a0a0" opacity="0.9" stroke="#6a6a6a" stroke-width="1"/>
<ellipse cx="163.2" cy="60.3" rx="2.1" ry="1.9" fill="#bdbdbd" opacity="0.8"/>
<ellipse cx="184.6" cy="44" rx="4.5" ry="4.1" fill="#a0a0a0" opacity="0.9" stroke="#6a6a6a" stroke-width="1"/>
<ellipse cx="183.7" cy="43" rx="2.2" ry="2" fill="#bdbdbd" opacity="0.8"/>
<ellipse cx="64" cy="50" rx="3.3" ry="3" fill="#a0a0a0" opacity="0.9" stroke="#6a6a6a" stroke-width="1"/>
<ellipse cx="63.3" cy="49.2" rx="1.6" ry="1.5" fill="#bdbdbd" opacity="0.8"/>
<ellipse cx="30.9" cy="62.5" rx="4.2" ry="3.8" fill="#a0a0a0" opacity="0.9" stroke="#6a6a6a" stroke-width="1"/>
<ellipse cx="30" cy="61.6" rx="2.1" ry="1.9" fill="#bdbdbd" opacity="0.8"/>
<ellipse cx="15.6" cy="67.2" rx="4.5" ry="4.1" fill="#a0a0a0" opacity="0.9" stroke="#6a6a6a" stroke-width="1"/>
<ellipse cx="14.7" cy="66.2" rx="2.2" ry="2" fill="#bdbdbd" opacity="0.8"/>
<ellipse cx="62" cy="69.8" rx="5.2" ry="4.8" fill="#a0a0a0" opacity="0.9" stroke="#6a6a6a" stroke-width="1"/>
<ellipse cx="61" cy="68.7" rx="2.6" ry="2.3" fill="#bdbdbd" opacity="0.8"/>
<ellipse cx="87.2" cy="78.4" rx="5.9" ry="5.5" fill="#a0a0a0" opacity="0.9" stroke="#6a6a6a" stroke-width="1"/>
<ellipse cx="86" cy="77.1" rx="3" ry="2.7" fill="#bdbdbd" opacity="0.8"/>
<ellipse cx="73.3" cy="83.7" rx="4.5" ry="4.1" fill="#a0a0a0" opacity="0.9" stroke="#6a6a6a" stroke-width="1"/>
<ellipse cx="72.4" cy="82.8" rx="2.2" ry="2" fill="#bdbdbd" opacity="0.8"/>
<ellipse cx="47.4" cy="85.7" rx="3.7" ry="3.4" fill="#a0a0a0" opacity="0.9" stroke="#6a6a6a" stroke-width="1"/>
<ellipse cx="46.7" cy="84.9" rx="1.9" ry="1.7" fill="#bdbdbd" opacity="0.8"/>
<ellipse cx="107.1" cy="88.4" rx="4.7" ry="4.4" fill="#a0a0a0" opacity="0.9" stroke="#6a6a6a" stroke-width="1"/>
<ellipse cx="106.1" cy="87.3" rx="2.4" ry="2.1" fill="#bdbdbd" opacity="0.8"/>
<ellipse cx="113" cy="83.1" rx="4.5" ry="4.1" fill="#a0a0a0" opacity="0.9" stroke="#6a6a6a" stroke-width="1"/>
<ellipse cx="112.1" cy="82.1" rx="2.2" ry="2" fill="#bdbdbd" opacity="0.8"/>
<ellipse cx="129.6" cy="81.8" rx="4.2" ry="3.8" fill="#a0a0a0" opacity="0.9" stroke="#6a6a6a" stroke-width="1"/>
<ellipse cx="128.8" cy="80.8" rx="2.1" ry="1.9" fill="#bdbdbd" opacity="0.8"/>
<ellipse cx="85.2" cy="94.3" rx="3.7" ry="3.4" fill="#a0a0a0" opacity="0.9" stroke="#6a6a6a" stroke-width="1"/>
<ellipse cx="84.5" cy="93.5" rx="1.9" ry="1.7" fill="#bdbdbd" opacity="0.8"/>
<ellipse cx="22.3" cy="99.6" rx="5.2" ry="4.8" fill="#a0a0a0" opacity="0.9" stroke="#6a6a6a" stroke-width="1"/>
<ellipse cx="21.2" cy="98.5" rx="2.6" ry="2.3" fill="#bdbdbd" opacity="0.8"/>
<ellipse cx="20.3" cy="106.3" rx="4.5" ry="4.1" fill="#a0a0a0" opacity="0.9" stroke="#6a6a6a" stroke-width="1"/>
<ellipse cx="19.4" cy="105.3" rx="2.2" ry="2" fill="#bdbdbd" opacity="0.8"/>
<ellipse cx="25.6" cy="93" rx="2.7" ry="2.5" fill="#a0a0a0" opacity="0.9" stroke="#6a6a6a" stroke-width="1"/>
<ellipse cx="25" cy="92.4" rx="1.3" ry="1.2" fill="#bdbdbd" opacity="0.8"/>
<ellipse cx="91.8" cy="118.2" rx="3.7" ry="3.4" fill="#a0a0a0" opacity="0.9" stroke="#6a6a6a" stroke-width="1"/>
<ellipse cx="91.1" cy="117.4" rx="1.9" ry="1.7" fill="#bdbdbd" opacity="0.8"/>
<ellipse cx="13" cy="124.2" rx="5.2" ry="4.8" fill="#a0a0a0" opacity="0.9" stroke="#6a6a6a" stroke-width="1"/>
<ellipse cx="11.9" cy="123" rx="2.6" ry="2.3" fill="#bdbdbd" opacity="0.8"/>
<ellipse cx="1.7" cy="122.8" rx="3" ry="2.7" fill="#a0a0a0" opacity="0.9" stroke="#6a6a6a" stroke-width="1"/>
<ellipse cx="1.1" cy="122.2" rx="1.5" ry="1.3" fill="#bdbdbd" opacity="0.8"/>
<ellipse cx="34.2" cy="118.9" rx="4.5" ry="4.1" fill="#a0a0a0" opacity="0.9" stroke="#6a6a6a" stroke-width="1"/>
<ellipse cx="33.3" cy="117.9" rx="2.2" ry="2" fill="#bdbdbd" opacity="0.8"/>
<ellipse cx="52.7" cy="130.1" rx="2.7" ry="2.5" fill="#a0a0a0" opacity="0.9" stroke="#6a6a6a" stroke-width="1"/>
<ellipse cx="52.2" cy="129.5" rx="1.3" ry="1.2" fill="#bdbdbd" opacity="0.8"/>
<ellipse cx="50.7" cy="136.7" rx="3" ry="2.7" fill="#a0a0a0" opacity="0.9" stroke="#6a6a6a" stroke-width="1"/>
<ellipse cx="50.2" cy="136.1" rx="1.5" ry="1.3" fill="#bdbdbd" opacity="0.8"/>
<ellipse cx="32.9" cy="136.7" rx="3.3" ry="3" fill="#a0a0a0" opacity="0.9" stroke="#6a6a6a" stroke-width="1"/>
<ellipse cx="32.2" cy="136" rx="1.6" ry="1.5" fill="#bdbdbd" opacity="0.8"/>
<ellipse cx="37.5" cy="136.1" rx="3" ry="2.7" fill="#a0a0a0" opacity="0.9" stroke="#6a6a6a" stroke-width="1"/>
<ellipse cx="36.9" cy="135.4" rx="1.5" ry="1.3" fill="#bdbdbd" opacity="0.8"/>
<ellipse cx="36.2" cy="142" rx="3.3" ry="3" fill="#a0a0a0" opacity="0.9" stroke="#6a6a6a" stroke-width="1"/>
<ellipse cx="35.5" cy="141.3" rx="1.6" ry="1.5" fill="#bdbdbd" opacity="0.8"/>
<ellipse cx="158.7" cy="115.5" rx="3.3" ry="3" fill="#a0a0a0" opacity="0.9" stroke="#6a6a6a" stroke-width="1"/>
<ellipse cx="158.1" cy="114.8" rx="1.6" ry="1.5" fill="#bdbdbd" opacity="0.8"/>
<ellipse cx="162.1" cy="123.5" rx="3.7" ry="3.4" fill="#a0a0a0" opacity="0.9" stroke="#6a6a6a" stroke-width="1"/>
<ellipse cx="161.3" cy="122.7" rx="1.9" ry="1.7" fill="#bdbdbd" opacity="0.8"/>
<ellipse cx="166.7" cy="128.1" rx="3.7" ry="3.4" fill="#a0a0a0" opacity="0.9" stroke="#6a6a6a" stroke-width="1"/>
<ellipse cx="165.9" cy="127.3" rx="1.9" ry="1.7" fill="#bdbdbd" opacity="0.8"/>
<ellipse cx="163.4" cy="135.4" rx="4.2" ry="3.8" fill="#a0a0a0" opacity="0.9" stroke="#6a6a6a" stroke-width="1"/>
<ellipse cx="162.5" cy="134.5" rx="2.1" ry="1.9" fill="#bdbdbd" opacity="0.8"/>
<ellipse cx="156.8" cy="130.1" rx="3" ry="2.7" fill="#a0a0a0" opacity="0.9" stroke="#6a6a6a" stroke-width="1"/>
<ellipse cx="156.2" cy="129.5" rx="1.5" ry="1.3" fill="#bdbdbd" opacity="0.8"/>
<ellipse cx="46.1" cy="161.9" rx="7.1" ry="6.6" fill="#a0a0a0" opacity="0.9" stroke="#6a6a6a" stroke-width="1"/>
<ellipse cx="44.7" cy="160.4" rx="3.6" ry="3.2" fill="#bdbdbd" opacity="0.8"/>
<ellipse cx="7" cy="154" rx="3.7" ry="3.4" fill="#a0a0a0" opacity="0.9" stroke="#6a6a6a" stroke-width="1"/>
<ellipse cx="6.3" cy="153.2" rx="1.9" ry="1.7" fill="#bdbdbd" opacity="0.8"/>
<ellipse cx="184.6" cy="176.5" rx="3" ry="2.7" fill="#a0a0a0" opacity="0.9" stroke="#6a6a6a" stroke-width="1"/>
<ellipse cx="184" cy="175.8" rx="1.5" ry="1.3" fill="#bdbdbd" opacity="0.8"/>
<ellipse cx="84.5" cy="126.8" rx="1.8" ry="1.6" fill="#a0a0a0" opacity="0.9" stroke="#6a6a6a" stroke-width="1"/>
<ellipse cx="84.2" cy="126.4" rx="0.9" ry="0.8" fill="#bdbdbd" opacity="0.8"/>
<ellipse cx="9.7" cy="45.3" rx="2.4" ry="2.2" fill="#a0a0a0" opacity="0.9" stroke="#6a6a6a" stroke-width="1"/>
<ellipse cx="9.2" cy="44.8" rx="1.2" ry="1.1" fill="#bdbdbd" opacity="0.8"/>
<ellipse cx="185.9" cy="53.3" rx="2.7" ry="2.5" fill="#a0a0a0" opacity="0.9" stroke="#6a6a6a" stroke-width="1"/>
<ellipse cx="185.4" cy="52.7" rx="1.3" ry="1.2" fill="#bdbdbd" opacity="0.8"/>
<ellipse cx="138.2" cy="32.1" rx="2.7" ry="2.5" fill="#a0a0a0" opacity="0.9" stroke="#6a6a6a" stroke-width="1"/>
<ellipse cx="137.7" cy="31.5" rx="1.3" ry="1.2" fill="#bdbdbd" opacity="0.8"/>
<ellipse cx="78.6" cy="90.4" rx="3" ry="2.7" fill="#a0a0a0" opacity="0.9" stroke="#6a6a6a" stroke-width="1"/>
<ellipse cx="78" cy="89.7" rx="1.5" ry="1.3" fill="#bdbdbd" opacity="0.8"/>
<ellipse cx="93.1" cy="89" rx="3" ry="2.7" fill="#a0a0a0" opacity="0.9" stroke="#6a6a6a" stroke-width="1"/>
<ellipse cx="92.6" cy="88.4" rx="1.5" ry="1.3" fill="#bdbdbd" opacity="0.8"/>
<ellipse cx="41.5" cy="79.8" rx="2.7" ry="2.5" fill="#a0a0a0" opacity="0.9" stroke="#6a6a6a" stroke-width="1"/>
<ellipse cx="40.9" cy="79.2" rx="1.3" ry="1.2" fill="#bdbdbd" opacity="0.8"/>
<ellipse cx="151.5" cy="17.5" rx="3" ry="2.7" fill="#a0a0a0" opacity="0.9" stroke="#6a6a6a" stroke-width="1"/>
<ellipse cx="150.9" cy="16.8" rx="1.5" ry="1.3" fill="#bdbdbd" opacity="0.8"/>
<ellipse cx="125.6" cy="68.5" rx="2.1" ry="1.9" fill="#a0a0a0" opacity="0.9" stroke="#6a6a6a" stroke-width="1"/>
<ellipse cx="125.2" cy="68" rx="1" ry="0.9" fill="#bdbdbd" opacity="0.8"/>
<ellipse cx="164.7" cy="22.8" rx="2.7" ry="2.5" fill="#a0a0a0" opacity="0.9" stroke="#6a6a6a" stroke-width="1"/>
<ellipse cx="164.2" cy="22.2" rx="1.3" ry="1.2" fill="#bdbdbd" opacity="0.8"/>
<ellipse cx="15" cy="169.9" rx="2.7" ry="2.5" fill="#a0a0a0" opacity="0.9" stroke="#6a6a6a" stroke-width="1"/>
<ellipse cx="14.4" cy="169.3" rx="1.3" ry="1.2" fill="#bdbdbd" opacity="0.8"/>
</g>
<rect x="77.2" y="179.7" width="105.6" height="4.5" fill="#fff" stroke="none"/>
<text stroke="none" transform="translate(130.9,171.2)" font-size="21.5" text-anchor="middle" fill="#fff">200µm</text>
</svg>
<svg x="872.6" y="544.2" width="185.2" height="188.4" overflow="hidden" stroke="none">
<rect width="186.2" height="189.4" fill="#0c0129" stroke="none"/>
</svg>
<svg x="1066.8" y="544.2" width="186.9" height="188.4" overflow="hidden" stroke="none">
<rect width="187.9" height="189.4" fill="#03140b" stroke="none"/>
<g filter="url(#b1)" id="rfc" fill="#f0281e">
<ellipse cx="148.2" cy="9" rx="2.5" ry="2.3"/>
<ellipse cx="142.5" cy="42.3" rx="2" ry="1.8"/>
<ellipse cx="161.7" cy="59.8" rx="2.5" ry="2.3" opacity="0.9"/>
<ellipse cx="87.5" cy="120.5" rx="2.8" ry="2.5"/>
<ellipse cx="49.4" cy="129" rx="2.5" ry="2.3"/>
<ellipse cx="32.5" cy="141.7" rx="2.3" ry="2" opacity="0.9"/>
<ellipse cx="143.9" cy="152.4" rx="3.1" ry="2.8"/>
<ellipse cx="42.3" cy="161.4" rx="2.8" ry="2.5" opacity="0.7"/>
<ellipse cx="158.1" cy="133.2" rx="2.5" ry="2.3" opacity="0.9"/>
<ellipse cx="86.1" cy="90.9" rx="2.3" ry="2" opacity="0.8"/>
<ellipse cx="43.7" cy="85.2" rx="2.3" ry="2" opacity="0.9"/>
<ellipse cx="70.6" cy="83.8" rx="2.3" ry="2" opacity="0.8"/>
<ellipse cx="108.7" cy="85.2" rx="2.3" ry="2" opacity="0.8"/>
<ellipse cx="12.7" cy="169.9" rx="1.7" ry="1.5" opacity="0.9"/>
<ellipse cx="26.8" cy="62.7" rx="2" ry="1.8" opacity="0.7"/>
<ellipse cx="91.7" cy="33" rx="2" ry="1.8" opacity="0.6"/>
<ellipse cx="7.1" cy="42.9" rx="2" ry="1.8" opacity="0.6"/>
<ellipse cx="182" cy="178.4" rx="2.3" ry="2" opacity="0.8"/>
<ellipse cx="1.4" cy="123.3" rx="2.5" ry="2.3" opacity="0.8"/>
<ellipse cx="33.9" cy="10.4" rx="2" ry="1.8" opacity="0.8"/>
<ellipse cx="114.3" cy="86.6" rx="2" ry="1.8" opacity="0.7"/>
<ellipse cx="29.6" cy="136" rx="2" ry="1.8" opacity="0.9"/>
<ellipse cx="53.6" cy="134.6" rx="1.7" ry="1.5" opacity="0.8"/>
<ellipse cx="156.6" cy="129" rx="2" ry="1.8" opacity="0.8"/>
<ellipse cx="153.8" cy="113.5" rx="1.7" ry="1.5" opacity="0.6"/>
<ellipse cx="146.8" cy="107.8" rx="1.7" ry="1.5" opacity="0.5"/>
<ellipse cx="22.6" cy="3.4" rx="1.4" ry="1.3" opacity="0.7"/>
<ellipse cx="57.9" cy="47.1" rx="1.7" ry="1.5" opacity="0.5"/>
<ellipse cx="12.7" cy="68.3" rx="1.7" ry="1.5" opacity="0.6"/>
<ellipse cx="136.9" cy="54.2" rx="1.7" ry="1.5" opacity="0.6"/>
<ellipse cx="127" cy="68.3" rx="1.7" ry="1.5" opacity="0.5"/>
<ellipse cx="182" cy="34.4" rx="2" ry="1.8" opacity="0.6"/>
<ellipse cx="165.1" cy="14.7" rx="1.4" ry="1.3" opacity="0.5"/>
<ellipse cx="86.1" cy="175.6" rx="1.7" ry="1.5" opacity="0.5"/>
<ellipse cx="8.5" cy="153" rx="1.7" ry="1.5" opacity="0.5"/>
<ellipse cx="139.7" cy="3.4" rx="1.4" ry="1.3" opacity="0.6"/>
<ellipse cx="90.3" cy="97.9" rx="1.7" ry="1.5" opacity="0.7"/>
<ellipse cx="81.9" cy="93.7" rx="1.7" ry="1.5" opacity="0.6"/>
<ellipse cx="49.4" cy="86.6" rx="1.7" ry="1.5" opacity="0.7"/>
<ellipse cx="39.5" cy="164.3" rx="2" ry="1.8" opacity="0.6"/>
<ellipse cx="17.5" cy="38.9" rx="1.8" ry="1.6" opacity="0.58"/>
<ellipse cx="96.4" cy="33.4" rx="2.1" ry="1.9" opacity="0.48"/>
<ellipse cx="41.9" cy="1.6" rx="1.7" ry="1.5" opacity="0.49"/>
<ellipse cx="152.3" cy="7" rx="1.6" ry="1.4" opacity="0.39"/>
<ellipse cx="131.7" cy="24.4" rx="1.9" ry="1.8" opacity="0.51"/>
<ellipse cx="164.7" cy="36.8" rx="1.6" ry="1.4" opacity="0.59"/>
<ellipse cx="144" cy="41.7" rx="1.7" ry="1.5" opacity="0.35"/>
<ellipse cx="139.4" cy="54.7" rx="1.6" ry="1.4" opacity="0.32"/>
<ellipse cx="163.1" cy="60.4" rx="1.6" ry="1.4" opacity="0.31"/>
<ellipse cx="184.5" cy="43.8" rx="1.7" ry="1.5" opacity="0.55"/>
<ellipse cx="64.1" cy="50.4" rx="1.2" ry="1.1" opacity="0.45"/>
<ellipse cx="31.4" cy="62.4" rx="1.6" ry="1.4" opacity="0.38"/>
<ellipse cx="17.1" cy="68.7" rx="1.7" ry="1.5" opacity="0.55"/>
<ellipse cx="62.6" cy="69.3" rx="1.9" ry="1.8" opacity="0.37"/>
<ellipse cx="86.6" cy="77.2" rx="2.2" ry="2" opacity="0.53"/>
<ellipse cx="73" cy="84.8" rx="1.7" ry="1.5" opacity="0.42"/>
<ellipse cx="48.8" cy="86.8" rx="1.4" ry="1.3" opacity="0.3"/>
<ellipse cx="106.2" cy="89.6" rx="1.8" ry="1.6" opacity="0.44"/>
<ellipse cx="114.5" cy="82.8" rx="1.7" ry="1.5" opacity="0.32"/>
<ellipse cx="130" cy="82.6" rx="1.6" ry="1.4" opacity="0.38"/>
<ellipse cx="84" cy="93.8" rx="1.4" ry="1.3" opacity="0.59"/>
<ellipse cx="23" cy="98.5" rx="1.9" ry="1.8" opacity="0.37"/>
<ellipse cx="19.1" cy="104.9" rx="1.7" ry="1.5" opacity="0.54"/>
<ellipse cx="24.6" cy="93.2" rx="1" ry="0.9" opacity="0.43"/>
<ellipse cx="90.9" cy="118.9" rx="1.4" ry="1.3" opacity="0.34"/>
<ellipse cx="13.4" cy="123" rx="1.9" ry="1.8" opacity="0.43"/>
<ellipse cx="0.9" cy="122.1" rx="1.1" ry="1" opacity="0.59"/>
<ellipse cx="35.1" cy="118.3" rx="1.7" ry="1.5" opacity="0.57"/>
<ellipse cx="51.9" cy="129.8" rx="1" ry="0.9" opacity="0.56"/>
<ellipse cx="51.2" cy="135.5" rx="1.1" ry="1" opacity="0.6"/>
<ellipse cx="32" cy="136" rx="1.2" ry="1.1" opacity="0.53"/>
<ellipse cx="37" cy="135.5" rx="1.1" ry="1" opacity="0.32"/>
<ellipse cx="34.9" cy="142.3" rx="1.2" ry="1.1" opacity="0.37"/>
<ellipse cx="159" cy="115.2" rx="1.2" ry="1.1" opacity="0.44"/>
<ellipse cx="163.4" cy="123.4" rx="1.4" ry="1.3" opacity="0.47"/>
<ellipse cx="167.8" cy="127.2" rx="1.4" ry="1.3" opacity="0.35"/>
<ellipse cx="164.6" cy="136.4" rx="1.6" ry="1.4" opacity="0.37"/>
<ellipse cx="155.8" cy="130.8" rx="1.1" ry="1" opacity="0.58"/>
<ellipse cx="45.2" cy="163.3" rx="2.7" ry="2.4" opacity="0.56"/>
<ellipse cx="7.3" cy="153.7" rx="1.4" ry="1.3" opacity="0.33"/>
<ellipse cx="183.2" cy="177.9" rx="1.1" ry="1" opacity="0.37"/>
<ellipse cx="85.2" cy="126.1" rx="0.7" ry="0.6" opacity="0.55"/>
<ellipse cx="10" cy="44.7" rx="0.9" ry="0.8" opacity="0.35"/>
<ellipse cx="186.6" cy="52" rx="1" ry="0.9" opacity="0.37"/>
<ellipse cx="138.4" cy="33.1" rx="1" ry="0.9" opacity="0.48"/>
<ellipse cx="77.9" cy="91.6" rx="1.1" ry="1" opacity="0.36"/>
<ellipse cx="91.7" cy="88.3" rx="1.1" ry="1" opacity="0.43"/>
<ellipse cx="40.2" cy="78.8" rx="1" ry="0.9" opacity="0.41"/>
<ellipse cx="151.7" cy="16.4" rx="1.1" ry="1" opacity="0.41"/>
<ellipse cx="126.8" cy="69.9" rx="0.8" ry="0.7" opacity="0.5"/>
<ellipse cx="165.3" cy="23" rx="1" ry="0.9" opacity="0.34"/>
<ellipse cx="13.6" cy="168.4" rx="1" ry="0.9" opacity="0.57"/>
<ellipse cx="52.2" cy="76.1" rx="1.2" ry="1.1" opacity="0.37"/>
<ellipse cx="49.1" cy="82" rx="0.9" ry="0.8" opacity="0.39"/>
<ellipse cx="52.8" cy="80.5" rx="1.3" ry="1.2" opacity="0.45"/>
<ellipse cx="79.5" cy="88.2" rx="1.4" ry="1.3" opacity="0.47"/>
<ellipse cx="69.6" cy="85.3" rx="1.2" ry="1.1" opacity="0.41"/>
<ellipse cx="67.5" cy="83.5" rx="0.9" ry="0.8" opacity="0.41"/>
<ellipse cx="105.9" cy="91.7" rx="1.1" ry="1" opacity="0.43"/>
<ellipse cx="94.5" cy="91.3" rx="0.9" ry="0.8" opacity="0.44"/>
<ellipse cx="83.8" cy="87.7" rx="1" ry="0.9" opacity="0.42"/>
<ellipse cx="115" cy="86.3" rx="1" ry="0.9" opacity="0.25"/>
<ellipse cx="111.2" cy="84.6" rx="0.9" ry="0.8" opacity="0.48"/>
<ellipse cx="117.4" cy="84" rx="1" ry="0.9" opacity="0.42"/>
<ellipse cx="127.2" cy="75" rx="1.4" ry="1.3" opacity="0.47"/>
<ellipse cx="130.5" cy="68.4" rx="0.9" ry="0.8" opacity="0.37"/>
<ellipse cx="138.1" cy="61.7" rx="1.5" ry="1.3" opacity="0.32"/>
<ellipse cx="138.6" cy="51.4" rx="0.9" ry="0.9" opacity="0.35"/>
<ellipse cx="140.7" cy="39.6" rx="1.4" ry="1.2" opacity="0.5"/>
<ellipse cx="137.4" cy="42.4" rx="1.4" ry="1.3" opacity="0.26"/>
<ellipse cx="147.3" cy="11.8" rx="1.4" ry="1.2" opacity="0.25"/>
<ellipse cx="142.8" cy="24.5" rx="1.4" ry="1.2" opacity="0.31"/>
<ellipse cx="140.4" cy="28" rx="1.1" ry="1" opacity="0.41"/>
<ellipse cx="27.9" cy="98.1" rx="1.3" ry="1.2" opacity="0.3"/>
<ellipse cx="25.1" cy="88.2" rx="1.1" ry="1" opacity="0.43"/>
<ellipse cx="27.2" cy="83.1" rx="1.3" ry="1.2" opacity="0.38"/>
<ellipse cx="28.2" cy="119.3" rx="1.4" ry="1.2" opacity="0.48"/>
<ellipse cx="27.2" cy="107.3" rx="0.9" ry="0.8" opacity="0.36"/>
<ellipse cx="29.2" cy="119.5" rx="1.2" ry="1.1" opacity="0.47"/>
<ellipse cx="36.2" cy="151" rx="1.3" ry="1.1" opacity="0.3"/>
<ellipse cx="34.9" cy="150.1" rx="1.3" ry="1.2" opacity="0.3"/>
<ellipse cx="37.1" cy="156.8" rx="1.2" ry="1.1" opacity="0.45"/>
<ellipse cx="39.4" cy="167.2" rx="1" ry="0.9" opacity="0.27"/>
<ellipse cx="38.1" cy="169.9" rx="1.1" ry="1" opacity="0.26"/>
<ellipse cx="37.6" cy="179.9" rx="0.9" ry="0.8" opacity="0.33"/>
<ellipse cx="89.1" cy="110.3" rx="1.2" ry="1" opacity="0.43"/>
<ellipse cx="92.5" cy="116.1" rx="1.1" ry="1" opacity="0.49"/>
<ellipse cx="87.7" cy="97.7" rx="1" ry="0.9" opacity="0.43"/>
<ellipse cx="86.9" cy="127.4" rx="1.2" ry="1.1" opacity="0.33"/>
<ellipse cx="90.9" cy="124.3" rx="0.9" ry="0.9" opacity="0.46"/>
<ellipse cx="84.3" cy="130.1" rx="0.9" ry="0.8" opacity="0.38"/>
<ellipse cx="73.2" cy="132.6" rx="1.5" ry="1.3" opacity="0.38"/>
<ellipse cx="76.7" cy="134.7" rx="1.1" ry="1" opacity="0.42"/>
<ellipse cx="82.6" cy="130.3" rx="1.5" ry="1.3" opacity="0.48"/>
<ellipse cx="58" cy="142.4" rx="1.1" ry="1" opacity="0.45"/>
<ellipse cx="50.5" cy="152.7" rx="0.9" ry="0.8" opacity="0.4"/>
<ellipse cx="48.1" cy="155.9" rx="0.8" ry="0.7" opacity="0.3"/>
<ellipse cx="149.6" cy="31.2" rx="1" ry="0.9" opacity="0.4"/>
<ellipse cx="146.5" cy="29.2" rx="1.2" ry="1" opacity="0.31"/>
<ellipse cx="147.9" cy="31.7" rx="1.1" ry="1" opacity="0.35"/>
<ellipse cx="176.4" cy="37.7" rx="1.2" ry="1.1" opacity="0.41"/>
<ellipse cx="180.5" cy="40.1" rx="1.4" ry="1.3" opacity="0.31"/>
<ellipse cx="183.6" cy="42.7" rx="1" ry="0.9" opacity="0.33"/>
<ellipse cx="12.6" cy="51.6" rx="1.4" ry="1.3" opacity="0.28"/>
<ellipse cx="9.3" cy="29" rx="0.9" ry="0.8" opacity="0.46"/>
<ellipse cx="11.3" cy="33" rx="1.1" ry="1" opacity="0.42"/>
<ellipse cx="13.1" cy="52.1" rx="1.4" ry="1.3" opacity="0.49"/>
<ellipse cx="14.5" cy="54.6" rx="1.2" ry="1" opacity="0.42"/>
<ellipse cx="11.6" cy="52.3" rx="0.8" ry="0.7" opacity="0.39"/>
<ellipse cx="153.9" cy="101.9" rx="0.9" ry="0.8" opacity="0.3"/>
<ellipse cx="158.6" cy="115.2" rx="0.9" ry="0.8" opacity="0.27"/>
<ellipse cx="156.2" cy="117.2" rx="1" ry="0.9" opacity="0.37"/>
<ellipse cx="159.7" cy="131.1" rx="0.8" ry="0.7" opacity="0.43"/>
<ellipse cx="160.4" cy="139" rx="1.3" ry="1.2" opacity="0.35"/>
<ellipse cx="156" cy="122.1" rx="0.8" ry="0.7" opacity="0.47"/>
<ellipse cx="173.1" cy="166.8" rx="1.2" ry="1.1" opacity="0.35"/>
<ellipse cx="169.8" cy="162.2" rx="1.4" ry="1.2" opacity="0.31"/>
<ellipse cx="174.5" cy="169.2" rx="1.4" ry="1.2" opacity="0.35"/>
<ellipse cx="186.9" cy="185.3" rx="1.3" ry="1.2" opacity="0.44"/>
<ellipse cx="180.2" cy="173.7" rx="1" ry="0.9" opacity="0.37"/>
<ellipse cx="173.2" cy="170.9" rx="1.2" ry="1.1" opacity="0.31"/>
<ellipse cx="48.5" cy="15.7" rx="1.3" ry="1.1" opacity="0.39"/>
<ellipse cx="42.5" cy="13.7" rx="1.2" ry="1.1" opacity="0.43"/>
<ellipse cx="48.5" cy="11.2" rx="1.2" ry="1.1" opacity="0.43"/>
<ellipse cx="49.9" cy="16.8" rx="0.9" ry="0.8" opacity="0.34"/>
<ellipse cx="47.5" cy="20.7" rx="1.2" ry="1.1" opacity="0.38"/>
<ellipse cx="57.5" cy="28.1" rx="1.2" ry="1.1" opacity="0.45"/>
<ellipse cx="94.1" cy="132.7" rx="0.8" ry="0.7" opacity="0.48"/>
<ellipse cx="93.8" cy="130.3" rx="1.1" ry="1" opacity="0.4"/>
<ellipse cx="96.1" cy="130.4" rx="1.2" ry="1.1" opacity="0.4"/>
<ellipse cx="94.3" cy="155.4" rx="1.2" ry="1.1" opacity="0.32"/>
<ellipse cx="91.5" cy="162.3" rx="1" ry="0.9" opacity="0.26"/>
<ellipse cx="98.7" cy="147.5" rx="1.4" ry="1.3" opacity="0.44"/>
<ellipse cx="128.8" cy="80.4" rx="0.9" ry="0.8" opacity="0.48"/>
<ellipse cx="132.8" cy="85.6" rx="1" ry="0.9" opacity="0.38"/>
<ellipse cx="143.7" cy="89.3" rx="1.5" ry="1.3" opacity="0.45"/>
<ellipse cx="147.6" cy="103.9" rx="1.1" ry="1" opacity="0.3"/>
<ellipse cx="144.2" cy="89.2" rx="1.1" ry="1" opacity="0.42"/>
<ellipse cx="146.9" cy="100.5" rx="1.1" ry="1" opacity="0.44"/>
<ellipse cx="171.3" cy="80.6" rx="1.3" ry="1.2" opacity="0.31"/>
<ellipse cx="175.1" cy="68.6" rx="1.2" ry="1.1" opacity="0.34"/>
<ellipse cx="172.2" cy="71.5" rx="1.2" ry="1.1" opacity="0.41"/>
<ellipse cx="156.5" cy="104.8" rx="1.5" ry="1.3" opacity="0.48"/>
<ellipse cx="154.8" cy="106.4" rx="1" ry="0.9" opacity="0.36"/>
<ellipse cx="156.9" cy="103.8" rx="0.9" ry="0.8" opacity="0.27"/>
<ellipse cx="49.1" cy="85" rx="1.1" ry="1" opacity="0.37"/>
<ellipse cx="35.5" cy="84.4" rx="1.4" ry="1.2" opacity="0.27"/>
<ellipse cx="35.9" cy="83.5" rx="1.3" ry="1.2" opacity="0.3"/>
<ellipse cx="66.6" cy="90.3" rx="1.1" ry="1" opacity="0.41"/>
<ellipse cx="81.2" cy="93.2" rx="1.3" ry="1.2" opacity="0.48"/>
<ellipse cx="67.4" cy="86" rx="1.4" ry="1.3" opacity="0.27"/>
</g>
</svg>
<svg x="1263" y="544.2" width="186.2" height="188.4" overflow="hidden" stroke="none">
<rect width="187.2" height="189.4" fill="#0a1429" stroke="none"/>
<use href="#rfc"/>
</svg>
<svg x="677" y="741" width="187.1" height="189.3" overflow="hidden" stroke="none">
<rect width="188.1" height="190.3" fill="#868686" stroke="none"/>
<rect width="188.1" height="190.3" filter="url(#nz)" opacity="0.13"/>
<rect width="188.1" height="190.3" filter="url(#nz2)" opacity="0.08"/>
<g filter="url(#b1)" fill="none" stroke-linecap="round" stroke-linejoin="round">
<path d="M134.23 1.59 L123.63 17.49 L110.37 30.74 L103.75 50.62 L107.72 77.12 L107.72 103.62 L110.37 128.79 L130.25 143.37 L136.88 156.62" stroke="#989898" stroke-width="3.4" opacity="0.5"/>
<path d="M134.23 1.59 L123.63 17.49 L110.37 30.74 L103.75 50.62 L107.72 77.12 L107.72 103.62 L110.37 128.79 L130.25 143.37 L136.88 156.62" stroke="#747474" stroke-width="0.9" opacity="0.55" transform="translate(2,1.33)"/>
<path d="M134.23 1.59 L123.63 17.49 L110.37 30.74 L103.75 50.62 L107.72 77.12 L107.72 103.62 L110.37 128.79 L130.25 143.37 L136.88 156.62" stroke="#777777" stroke-width="0.8" opacity="0.5" transform="translate(-2,-1.33)"/>
<path d="M172.65 89.04 L150.13 96.99 L135.55 102.29 L117 107.59" stroke="#989898" stroke-width="3.4" opacity="0.5"/>
<path d="M172.65 89.04 L150.13 96.99 L135.55 102.29 L117 107.59" stroke="#747474" stroke-width="0.9" opacity="0.55" transform="translate(2,1.33)"/>
<path d="M172.65 89.04 L150.13 96.99 L135.55 102.29 L117 107.59" stroke="#777777" stroke-width="0.8" opacity="0.5" transform="translate(-2,-1.33)"/>
<path d="M119.65 24.12 L117 50.62 L114.35 77.12" stroke="#989898" stroke-width="3.4" opacity="0.5"/>
<path d="M119.65 24.12 L117 50.62 L114.35 77.12" stroke="#747474" stroke-width="0.9" opacity="0.55" transform="translate(2,1.33)"/>
<path d="M119.65 24.12 L117 50.62 L114.35 77.12" stroke="#777777" stroke-width="0.8" opacity="0.5" transform="translate(-2,-1.33)"/>
<path d="M183.25 10.87 L180.6 37.37" stroke="#989898" stroke-width="3.4" opacity="0.5"/>
<path d="M183.25 10.87 L180.6 37.37" stroke="#747474" stroke-width="0.9" opacity="0.55" transform="translate(2,1.33)"/>
<path d="M183.25 10.87 L180.6 37.37" stroke="#777777" stroke-width="0.8" opacity="0.5" transform="translate(-2,-1.33)"/>
<path d="M20.27 143.37 L20.94 169.87 L24.25 181.13" stroke="#989898" stroke-width="3.4" opacity="0.5"/>
<path d="M20.27 143.37 L20.94 169.87 L24.25 181.13" stroke="#747474" stroke-width="0.9" opacity="0.55" transform="translate(2,1.33)"/>
<path d="M20.27 143.37 L20.94 169.87 L24.25 181.13" stroke="#777777" stroke-width="0.8" opacity="0.5" transform="translate(-2,-1.33)"/>
<path d="M1.72 110.24 L17.62 114.22" stroke="#989898" stroke-width="3.4" opacity="0.5"/>
<path d="M1.72 110.24 L17.62 114.22" stroke="#747474" stroke-width="0.9" opacity="0.55" transform="translate(2,1.33)"/>
<path d="M1.72 110.24 L17.62 114.22" stroke="#777777" stroke-width="0.8" opacity="0.5" transform="translate(-2,-1.33)"/>
<path d="M5.7 30.74 L14.97 43.99" stroke="#989898" stroke-width="3.4" opacity="0.5"/>
<path d="M5.7 30.74 L14.97 43.99" stroke="#747474" stroke-width="0.9" opacity="0.55" transform="translate(2,1.33)"/>
<path d="M5.7 30.74 L14.97 43.99" stroke="#777777" stroke-width="0.8" opacity="0.5" transform="translate(-2,-1.33)"/>
<path d="M82.55 5.57 L93.15 24.12" stroke="#989898" stroke-width="3.4" opacity="0.5"/>
<path d="M82.55 5.57 L93.15 24.12" stroke="#747474" stroke-width="0.9" opacity="0.55" transform="translate(2,1.33)"/>
<path d="M82.55 5.57 L93.15 24.12" stroke="#777777" stroke-width="0.8" opacity="0.5" transform="translate(-2,-1.33)"/>
</g>
<g filter="url(#b0)">
<ellipse cx="98.4" cy="22.8" rx="4.2" ry="3.8" fill="#a0a0a0" opacity="0.9" stroke="#6a6a6a" stroke-width="1"/>
<ellipse cx="97.6" cy="21.9" rx="2.1" ry="1.9" fill="#bdbdbd" opacity="0.8"/>
<ellipse cx="91.2" cy="26.1" rx="3.3" ry="3" fill="#a0a0a0" opacity="0.9" stroke="#6a6a6a" stroke-width="1"/>
<ellipse cx="90.5" cy="25.4" rx="1.6" ry="1.5" fill="#bdbdbd" opacity="0.8"/>
<ellipse cx="82.5" cy="19.5" rx="3" ry="2.7" fill="#a0a0a0" opacity="0.9" stroke="#6a6a6a" stroke-width="1"/>
<ellipse cx="82" cy="18.8" rx="1.5" ry="1.3" fill="#bdbdbd" opacity="0.8"/>
<ellipse cx="87.8" cy="9.5" rx="3" ry="2.7" fill="#a0a0a0" opacity="0.9" stroke="#6a6a6a" stroke-width="1"/>
<ellipse cx="87.3" cy="8.9" rx="1.5" ry="1.3" fill="#bdbdbd" opacity="0.8"/>
<ellipse cx="105.1" cy="50.6" rx="4.5" ry="4.1" fill="#a0a0a0" opacity="0.9" stroke="#6a6a6a" stroke-width="1"/>
<ellipse cx="104.2" cy="49.6" rx="2.2" ry="2" fill="#bdbdbd" opacity="0.8"/>
<ellipse cx="110.4" cy="28.1" rx="5.2" ry="2.6" fill="#a4a4a4" transform="rotate(-50 110.4 28.1)" opacity="0.9" stroke="#6b6b6b" stroke-width="1"/>
<ellipse cx="124.3" cy="16.8" rx="3.3" ry="3" fill="#a0a0a0" opacity="0.9" stroke="#6a6a6a" stroke-width="1"/>
<ellipse cx="123.6" cy="16.1" rx="1.6" ry="1.5" fill="#bdbdbd" opacity="0.8"/>
<ellipse cx="119.7" cy="24.1" rx="3" ry="2.7" fill="#a0a0a0" opacity="0.9" stroke="#6a6a6a" stroke-width="1"/>
<ellipse cx="119.1" cy="23.5" rx="1.5" ry="1.3" fill="#bdbdbd" opacity="0.8"/>
<ellipse cx="68" cy="67.2" rx="4.2" ry="3.8" fill="#a0a0a0" opacity="0.9" stroke="#6a6a6a" stroke-width="1"/>
<ellipse cx="67.1" cy="66.3" rx="2.1" ry="1.9" fill="#bdbdbd" opacity="0.8"/>
<ellipse cx="73.9" cy="71.8" rx="3.7" ry="3.4" fill="#a0a0a0" opacity="0.9" stroke="#6a6a6a" stroke-width="1"/>
<ellipse cx="73.2" cy="71" rx="1.9" ry="1.7" fill="#bdbdbd" opacity="0.8"/>
<ellipse cx="16.3" cy="89" rx="5.6" ry="5.2" fill="#a0a0a0" opacity="0.9" stroke="#6a6a6a" stroke-width="1"/>
<ellipse cx="15.2" cy="87.8" rx="2.8" ry="2.5" fill="#bdbdbd" opacity="0.8"/>
<ellipse cx="21.6" cy="80.4" rx="3.7" ry="3.4" fill="#a0a0a0" opacity="0.9" stroke="#6a6a6a" stroke-width="1"/>
<ellipse cx="20.9" cy="79.6" rx="1.9" ry="1.7" fill="#bdbdbd" opacity="0.8"/>
<ellipse cx="28.9" cy="84.4" rx="3.7" ry="3.4" fill="#a0a0a0" opacity="0.9" stroke="#6a6a6a" stroke-width="1"/>
<ellipse cx="28.1" cy="83.6" rx="1.9" ry="1.7" fill="#bdbdbd" opacity="0.8"/>
<ellipse cx="27.6" cy="103.6" rx="4.7" ry="4.4" fill="#a0a0a0" opacity="0.9" stroke="#6a6a6a" stroke-width="1"/>
<ellipse cx="26.6" cy="102.6" rx="2.4" ry="2.1" fill="#bdbdbd" opacity="0.8"/>
<ellipse cx="32.9" cy="114.2" rx="5.2" ry="4.8" fill="#a0a0a0" opacity="0.9" stroke="#6a6a6a" stroke-width="1"/>
<ellipse cx="31.8" cy="113.1" rx="2.6" ry="2.3" fill="#bdbdbd" opacity="0.8"/>
<ellipse cx="107.7" cy="105.6" rx="5.2" ry="4.8" fill="#a0a0a0" opacity="0.9" stroke="#6a6a6a" stroke-width="1"/>
<ellipse cx="106.7" cy="104.5" rx="2.6" ry="2.3" fill="#bdbdbd" opacity="0.8"/>
<ellipse cx="135.6" cy="102.3" rx="4.2" ry="3.8" fill="#a0a0a0" opacity="0.9" stroke="#6a6a6a" stroke-width="1"/>
<ellipse cx="134.7" cy="101.4" rx="2.1" ry="1.9" fill="#bdbdbd" opacity="0.8"/>
<ellipse cx="143.5" cy="91" rx="3.7" ry="3.4" fill="#a0a0a0" opacity="0.9" stroke="#6a6a6a" stroke-width="1"/>
<ellipse cx="142.8" cy="90.2" rx="1.9" ry="1.7" fill="#bdbdbd" opacity="0.8"/>
<ellipse cx="138.2" cy="86.4" rx="3.3" ry="3" fill="#a0a0a0" opacity="0.9" stroke="#6a6a6a" stroke-width="1"/>
<ellipse cx="137.5" cy="85.7" rx="1.6" ry="1.5" fill="#bdbdbd" opacity="0.8"/>
<ellipse cx="111" cy="128.8" rx="5.6" ry="5.2" fill="#a0a0a0" opacity="0.9" stroke="#6a6a6a" stroke-width="1"/>
<ellipse cx="109.9" cy="127.6" rx="2.8" ry="2.5" fill="#bdbdbd" opacity="0.8"/>
<ellipse cx="105.1" cy="121.5" rx="3.7" ry="3.4" fill="#a0a0a0" opacity="0.9" stroke="#6a6a6a" stroke-width="1"/>
<ellipse cx="104.3" cy="120.7" rx="1.9" ry="1.7" fill="#bdbdbd" opacity="0.8"/>
<ellipse cx="121" cy="130.1" rx="3.7" ry="3.4" fill="#a0a0a0" opacity="0.9" stroke="#6a6a6a" stroke-width="1"/>
<ellipse cx="120.2" cy="129.3" rx="1.9" ry="1.7" fill="#bdbdbd" opacity="0.8"/>
<ellipse cx="128.3" cy="120.8" rx="3.7" ry="3.4" fill="#a0a0a0" opacity="0.9" stroke="#6a6a6a" stroke-width="1"/>
<ellipse cx="127.5" cy="120" rx="1.9" ry="1.7" fill="#bdbdbd" opacity="0.8"/>
<ellipse cx="56" cy="116.9" rx="4.5" ry="4.1" fill="#a0a0a0" opacity="0.9" stroke="#6a6a6a" stroke-width="1"/>
<ellipse cx="55.2" cy="115.9" rx="2.2" ry="2" fill="#bdbdbd" opacity="0.8"/>
<ellipse cx="48.8" cy="128.8" rx="4.7" ry="4.4" fill="#a0a0a0" opacity="0.9" stroke="#6a6a6a" stroke-width="1"/>
<ellipse cx="47.8" cy="127.7" rx="2.4" ry="2.1" fill="#bdbdbd" opacity="0.8"/>
<ellipse cx="60.7" cy="124.2" rx="4.5" ry="4.1" fill="#a0a0a0" opacity="0.9" stroke="#6a6a6a" stroke-width="1"/>
<ellipse cx="59.8" cy="123.2" rx="2.2" ry="2" fill="#bdbdbd" opacity="0.8"/>
<ellipse cx="52.7" cy="137.4" rx="4.5" ry="4.1" fill="#a0a0a0" opacity="0.9" stroke="#6a6a6a" stroke-width="1"/>
<ellipse cx="51.8" cy="136.4" rx="2.2" ry="2" fill="#bdbdbd" opacity="0.8"/>
<ellipse cx="43.5" cy="124.2" rx="3.3" ry="3" fill="#a0a0a0" opacity="0.9" stroke="#6a6a6a" stroke-width="1"/>
<ellipse cx="42.8" cy="123.4" rx="1.6" ry="1.5" fill="#bdbdbd" opacity="0.8"/>
<ellipse cx="73.3" cy="127.5" rx="3" ry="2.7" fill="#a0a0a0" opacity="0.9" stroke="#6a6a6a" stroke-width="1"/>
<ellipse cx="72.7" cy="126.8" rx="1.5" ry="1.3" fill="#bdbdbd" opacity="0.8"/>
<ellipse cx="7.7" cy="130.1" rx="3.7" ry="3.4" fill="#a0a0a0" opacity="0.9" stroke="#6a6a6a" stroke-width="1"/>
<ellipse cx="6.9" cy="129.3" rx="1.9" ry="1.7" fill="#bdbdbd" opacity="0.8"/>
<ellipse cx="24.2" cy="181.1" rx="4.5" ry="4.1" fill="#a0a0a0" opacity="0.9" stroke="#6a6a6a" stroke-width="1"/>
<ellipse cx="23.4" cy="180.2" rx="2.2" ry="2" fill="#bdbdbd" opacity="0.8"/>
<ellipse cx="174" cy="46.6" rx="5.9" ry="5.5" fill="#a0a0a0" opacity="0.9" stroke="#6a6a6a" stroke-width="1"/>
<ellipse cx="172.8" cy="45.3" rx="3" ry="2.7" fill="#bdbdbd" opacity="0.8"/>
<ellipse cx="164.7" cy="48" rx="3.3" ry="3" fill="#a0a0a0" opacity="0.9" stroke="#6a6a6a" stroke-width="1"/>
<ellipse cx="164" cy="47.2" rx="1.6" ry="1.5" fill="#bdbdbd" opacity="0.8"/>
<ellipse cx="178.6" cy="54.6" rx="3.3" ry="3" fill="#a0a0a0" opacity="0.9" stroke="#6a6a6a" stroke-width="1"/>
<ellipse cx="178" cy="53.9" rx="1.6" ry="1.5" fill="#bdbdbd" opacity="0.8"/>
<ellipse cx="174.6" cy="22.8" rx="3.3" ry="3" fill="#a0a0a0" opacity="0.9" stroke="#6a6a6a" stroke-width="1"/>
<ellipse cx="174" cy="22.1" rx="1.6" ry="1.5" fill="#bdbdbd" opacity="0.8"/>
<ellipse cx="183.9" cy="85.1" rx="3.7" ry="3.4" fill="#a0a0a0" opacity="0.9" stroke="#6a6a6a" stroke-width="1"/>
<ellipse cx="183.2" cy="84.3" rx="1.9" ry="1.7" fill="#bdbdbd" opacity="0.8"/>
<ellipse cx="127.6" cy="139.4" rx="3.7" ry="3.4" fill="#a0a0a0" opacity="0.9" stroke="#6a6a6a" stroke-width="1"/>
<ellipse cx="126.9" cy="138.6" rx="1.9" ry="1.7" fill="#bdbdbd" opacity="0.8"/>
<ellipse cx="130.3" cy="144.7" rx="3.3" ry="3" fill="#a0a0a0" opacity="0.9" stroke="#6a6a6a" stroke-width="1"/>
<ellipse cx="129.6" cy="144" rx="1.6" ry="1.5" fill="#bdbdbd" opacity="0.8"/>
<ellipse cx="115" cy="176.5" rx="3.7" ry="3.4" fill="#a0a0a0" opacity="0.9" stroke="#6a6a6a" stroke-width="1"/>
<ellipse cx="114.3" cy="175.7" rx="1.9" ry="1.7" fill="#bdbdbd" opacity="0.8"/>
<ellipse cx="130.3" cy="63.9" rx="3.3" ry="3.1" fill="#b9b9b9" stroke="#636363" stroke-width="1.2"/>
<ellipse cx="129.8" cy="63.2" rx="1.6" ry="1.6" fill="#e6e6e6" opacity="0.9"/>
<ellipse cx="135.6" cy="59.9" rx="3" ry="2.8" fill="#b9b9b9" stroke="#636363" stroke-width="1.2"/>
<ellipse cx="135.1" cy="59.3" rx="1.5" ry="1.5" fill="#e6e6e6" opacity="0.9"/>
<ellipse cx="141.5" cy="55.9" rx="3.3" ry="3.1" fill="#b9b9b9" stroke="#636363" stroke-width="1.2"/>
<ellipse cx="141" cy="55.3" rx="1.6" ry="1.6" fill="#e6e6e6" opacity="0.9"/>
<ellipse cx="147.5" cy="61.2" rx="3.3" ry="3.1" fill="#b9b9b9" stroke="#636363" stroke-width="1.2"/>
<ellipse cx="147" cy="60.6" rx="1.6" ry="1.6" fill="#e6e6e6" opacity="0.9"/>
<ellipse cx="150.1" cy="54.6" rx="3" ry="2.8" fill="#b9b9b9" stroke="#636363" stroke-width="1.2"/>
<ellipse cx="149.7" cy="54" rx="1.5" ry="1.5" fill="#e6e6e6" opacity="0.9"/>
<ellipse cx="138.2" cy="66.5" rx="3" ry="2.8" fill="#b9b9b9" stroke="#636363" stroke-width="1.2"/>
<ellipse cx="137.8" cy="65.9" rx="1.5" ry="1.5" fill="#e6e6e6" opacity="0.9"/>
<ellipse cx="144.2" cy="50.6" rx="2.7" ry="2.5" fill="#b9b9b9" stroke="#636363" stroke-width="1.2"/>
<ellipse cx="143.8" cy="50.1" rx="1.3" ry="1.3" fill="#e6e6e6" opacity="0.9"/>
<ellipse cx="134.2" cy="50.6" rx="2.7" ry="2.5" fill="#b9b9b9" stroke="#636363" stroke-width="1.2"/>
<ellipse cx="133.8" cy="50.1" rx="1.3" ry="1.3" fill="#e6e6e6" opacity="0.9"/>
<ellipse cx="130.3" cy="55.9" rx="2.7" ry="2.5" fill="#b9b9b9" stroke="#636363" stroke-width="1.2"/>
<ellipse cx="129.8" cy="55.4" rx="1.3" ry="1.3" fill="#e6e6e6" opacity="0.9"/>
<ellipse cx="148.8" cy="63.9" rx="2.7" ry="2.5" fill="#b9b9b9" stroke="#636363" stroke-width="1.2"/>
<ellipse cx="148.4" cy="63.3" rx="1.3" ry="1.3" fill="#e6e6e6" opacity="0.9"/>
<ellipse cx="140.9" cy="62.5" rx="2.4" ry="2.3" fill="#b9b9b9" stroke="#636363" stroke-width="1.2"/>
<ellipse cx="140.5" cy="62.1" rx="1.2" ry="1.2" fill="#e6e6e6" opacity="0.9"/>
<ellipse cx="27.6" cy="135.4" rx="5.6" ry="5.4" fill="#b9b9b9" stroke="#636363" stroke-width="1.2"/>
<ellipse cx="26.7" cy="134.3" rx="2.8" ry="2.8" fill="#e6e6e6" opacity="0.9"/>
<ellipse cx="17.6" cy="136.7" rx="3.3" ry="3.1" fill="#b9b9b9" stroke="#636363" stroke-width="1.2"/>
<ellipse cx="17.1" cy="136.1" rx="1.6" ry="1.6" fill="#e6e6e6" opacity="0.9"/>
<ellipse cx="35.5" cy="130.8" rx="3" ry="2.8" fill="#b9b9b9" stroke="#636363" stroke-width="1.2"/>
<ellipse cx="35.1" cy="130.2" rx="1.5" ry="1.5" fill="#e6e6e6" opacity="0.9"/>
<ellipse cx="36.2" cy="139.4" rx="3.3" ry="3.1" fill="#b9b9b9" stroke="#636363" stroke-width="1.2"/>
<ellipse cx="35.7" cy="138.7" rx="1.6" ry="1.6" fill="#e6e6e6" opacity="0.9"/>
<ellipse cx="30.9" cy="146" rx="3.3" ry="3.1" fill="#b9b9b9" stroke="#636363" stroke-width="1.2"/>
<ellipse cx="30.4" cy="145.4" rx="1.6" ry="1.6" fill="#e6e6e6" opacity="0.9"/>
<ellipse cx="24.2" cy="141.4" rx="3.6" ry="3.4" fill="#b9b9b9" stroke="#636363" stroke-width="1.2"/>
<ellipse cx="23.7" cy="140.7" rx="1.8" ry="1.8" fill="#e6e6e6" opacity="0.9"/>
<ellipse cx="61.3" cy="138.1" rx="1.8" ry="1.7" fill="#b9b9b9" stroke="#636363" stroke-width="1.2"/>
<ellipse cx="61.1" cy="137.7" rx="0.9" ry="0.9" fill="#e6e6e6" opacity="0.9"/>
<ellipse cx="50.7" cy="128.1" rx="2.1" ry="2" fill="#b9b9b9" stroke="#636363" stroke-width="1.2"/>
<ellipse cx="50.4" cy="127.7" rx="1" ry="1" fill="#e6e6e6" opacity="0.9"/>
</g>
<rect x="78" y="180.4" width="105.4" height="4.4" fill="#fff" stroke="none"/>
<text stroke="none" transform="translate(128.8,172)" font-size="21.5" text-anchor="middle" fill="#fff">200µm</text>
</svg>
<svg x="872.6" y="741" width="185.2" height="189.3" overflow="hidden" stroke="none">
<rect width="186.2" height="190.3" fill="#05011b" stroke="none"/>
<g filter="url(#b15)">
<ellipse cx="24.9" cy="135.2" rx="7.5" ry="7.5" fill="#1ea04a" opacity="0.95"/>
<ellipse cx="57.9" cy="130" rx="8" ry="7" fill="#1c9a46" opacity="0.9"/>
<ellipse cx="52.4" cy="137.5" rx="5.5" ry="3.5" fill="#35e56a" transform="rotate(-20 52.4 137.5)"/>
<ellipse cx="88.6" cy="25.6" rx="2.6" ry="2.6" fill="#1d9a4c" opacity="0.9"/>
<ellipse cx="39.4" cy="189" rx="3" ry="2" fill="#168a40" opacity="0.7"/>
</g>
</svg>
<svg x="1066.8" y="741" width="186.9" height="189.3" overflow="hidden" stroke="none">
<rect width="187.9" height="190.3" fill="#04150b" stroke="none"/>
<g filter="url(#b1)" id="rfp" fill="#f0281e">
<ellipse cx="132.7" cy="63.5" rx="6.2" ry="5.6"/>
<ellipse cx="139.7" cy="55" rx="6.8" ry="6.1"/>
<ellipse cx="148.2" cy="59.3" rx="6.2" ry="5.6"/>
<ellipse cx="142.5" cy="63.5" rx="5.6" ry="5.1"/>
<ellipse cx="135.5" cy="54.5" rx="4.5" ry="4.1"/>
<ellipse cx="151" cy="53.6" rx="4" ry="3.6"/>
<ellipse cx="177.8" cy="49.4" rx="5.1" ry="4.6"/>
<ellipse cx="180.6" cy="43.7" rx="2.8" ry="2.5" opacity="0.9"/>
<ellipse cx="170.8" cy="48" rx="2.5" ry="2.3" opacity="0.9"/>
<ellipse cx="25.4" cy="136.9" rx="5.6" ry="5.1"/>
<ellipse cx="21.2" cy="135.5" rx="3.4" ry="3" opacity="0.9"/>
<ellipse cx="62.1" cy="127" rx="4.8" ry="4.3"/>
<ellipse cx="19.8" cy="87.5" rx="4.2" ry="3.8" opacity="0.9"/>
<ellipse cx="22.6" cy="83.3" rx="3.1" ry="2.8"/>
<ellipse cx="86.1" cy="16.9" rx="3.7" ry="3.3"/>
<ellipse cx="83.3" cy="21.2" rx="2.8" ry="2.5" opacity="0.9"/>
<ellipse cx="104.4" cy="50.8" rx="3.1" ry="2.8"/>
<ellipse cx="69.2" cy="67.7" rx="2.8" ry="2.5" opacity="0.8"/>
<ellipse cx="120" cy="21.2" rx="3.1" ry="2.8" opacity="0.9"/>
<ellipse cx="142.5" cy="28.2" rx="2.5" ry="2.3"/>
<ellipse cx="167.9" cy="91.7" rx="2.8" ry="2.5"/>
<ellipse cx="160.9" cy="94" rx="2" ry="1.8" opacity="0.9"/>
<ellipse cx="136.9" cy="104.4" rx="2.5" ry="2.3"/>
<ellipse cx="108.7" cy="105.8" rx="2.5" ry="2.3" opacity="0.9"/>
<ellipse cx="104.4" cy="121.4" rx="2.5" ry="2.3"/>
<ellipse cx="111.5" cy="129.8" rx="3.1" ry="2.8" opacity="0.8"/>
<ellipse cx="9.9" cy="121.4" rx="2.3" ry="2" opacity="0.9"/>
<ellipse cx="29.6" cy="169.3" rx="2" ry="1.8" opacity="0.9"/>
<ellipse cx="25.4" cy="179.2" rx="2.3" ry="2"/>
<ellipse cx="131.2" cy="146.8" rx="2.3" ry="2" opacity="0.8"/>
<ellipse cx="87.5" cy="146.8" rx="1.7" ry="1.5" opacity="0.7"/>
<ellipse cx="128.4" cy="177.8" rx="1.7" ry="1.5" opacity="0.8"/>
<ellipse cx="94.6" cy="24" rx="2.5" ry="2.3" opacity="0.9"/>
<ellipse cx="110.1" cy="31" rx="2.5" ry="2.3" opacity="0.9"/>
<ellipse cx="125.6" cy="35.3" rx="2.3" ry="2" opacity="0.9"/>
<ellipse cx="31" cy="114.3" rx="1.7" ry="1.5" opacity="0.8"/>
<ellipse cx="90.3" cy="9.9" rx="2.3" ry="2" opacity="0.8"/>
<ellipse cx="100.2" cy="66.3" rx="2" ry="1.8" opacity="0.7"/>
<ellipse cx="105.8" cy="81.9" rx="2" ry="1.8" opacity="0.6"/>
<ellipse cx="122.8" cy="114.3" rx="1.7" ry="1.5" opacity="0.6"/>
<ellipse cx="135.5" cy="156.6" rx="2" ry="1.8" opacity="0.7"/>
<ellipse cx="153.8" cy="94.6" rx="1.7" ry="1.5" opacity="0.7"/>
<ellipse cx="117.1" cy="29.6" rx="2" ry="1.8" opacity="0.8"/>
<ellipse cx="139.7" cy="4.2" rx="2" ry="1.8" opacity="0.6"/>
<ellipse cx="183.5" cy="88.9" rx="2" ry="1.8" opacity="0.7"/>
<ellipse cx="15.5" cy="162.3" rx="1.4" ry="1.3" opacity="0.5"/>
<ellipse cx="97.2" cy="23" rx="1.5" ry="1.3" opacity="0.4"/>
<ellipse cx="91.7" cy="25.5" rx="1.2" ry="1" opacity="0.48"/>
<ellipse cx="81.3" cy="18.6" rx="1.1" ry="1" opacity="0.45"/>
<ellipse cx="86.6" cy="9" rx="1.1" ry="1" opacity="0.47"/>
<ellipse cx="105.7" cy="50" rx="1.6" ry="1.4" opacity="0.29"/>
<ellipse cx="109.9" cy="28.8" rx="1.9" ry="1.7" opacity="0.36"/>
<ellipse cx="123.1" cy="17.5" rx="1.2" ry="1" opacity="0.42"/>
<ellipse cx="120.9" cy="25.4" rx="1.1" ry="1" opacity="0.52"/>
<ellipse cx="67.8" cy="68.1" rx="1.5" ry="1.3" opacity="0.34"/>
<ellipse cx="73.4" cy="71.5" rx="1.3" ry="1.2" opacity="0.53"/>
<ellipse cx="17.5" cy="88.3" rx="2" ry="1.8" opacity="0.36"/>
<ellipse cx="21.2" cy="80" rx="1.3" ry="1.2" opacity="0.37"/>
<ellipse cx="28.5" cy="83.5" rx="1.3" ry="1.2" opacity="0.42"/>
<ellipse cx="28.5" cy="103.7" rx="1.7" ry="1.5" opacity="0.5"/>
<ellipse cx="33" cy="113.2" rx="1.9" ry="1.7" opacity="0.48"/>
<ellipse cx="108.9" cy="104.9" rx="1.9" ry="1.7" opacity="0.26"/>
<ellipse cx="135.6" cy="102.4" rx="1.5" ry="1.3" opacity="0.42"/>
<ellipse cx="144.9" cy="91.5" rx="1.3" ry="1.2" opacity="0.49"/>
<ellipse cx="136.9" cy="86.5" rx="1.2" ry="1" opacity="0.49"/>
<ellipse cx="109.8" cy="127.5" rx="2" ry="1.8" opacity="0.47"/>
<ellipse cx="106.3" cy="120.3" rx="1.3" ry="1.2" opacity="0.44"/>
<ellipse cx="119.9" cy="130.9" rx="1.3" ry="1.2" opacity="0.44"/>
<ellipse cx="127.5" cy="120" rx="1.3" ry="1.2" opacity="0.48"/>
<ellipse cx="56.1" cy="117.7" rx="1.6" ry="1.4" opacity="0.37"/>
<ellipse cx="48.3" cy="130.2" rx="1.7" ry="1.5" opacity="0.45"/>
<ellipse cx="60.7" cy="124.3" rx="1.6" ry="1.4" opacity="0.47"/>
<ellipse cx="53.4" cy="138.7" rx="1.6" ry="1.4" opacity="0.37"/>
<ellipse cx="44.4" cy="124.7" rx="1.2" ry="1" opacity="0.51"/>
<ellipse cx="74.2" cy="128.5" rx="1.1" ry="1" opacity="0.52"/>
<ellipse cx="9.1" cy="130.5" rx="1.3" ry="1.2" opacity="0.41"/>
<ellipse cx="24.9" cy="182" rx="1.6" ry="1.4" opacity="0.38"/>
<ellipse cx="173.7" cy="45.6" rx="2.1" ry="1.9" opacity="0.47"/>
<ellipse cx="166.2" cy="47.6" rx="1.2" ry="1" opacity="0.3"/>
<ellipse cx="177.7" cy="54.4" rx="1.2" ry="1" opacity="0.34"/>
<ellipse cx="176" cy="21.5" rx="1.2" ry="1" opacity="0.34"/>
<ellipse cx="182.8" cy="85.5" rx="1.3" ry="1.2" opacity="0.48"/>
<ellipse cx="126.6" cy="138.1" rx="1.3" ry="1.2" opacity="0.39"/>
<ellipse cx="130.5" cy="145.9" rx="1.2" ry="1" opacity="0.26"/>
<ellipse cx="113.8" cy="175.5" rx="1.3" ry="1.2" opacity="0.32"/>
<ellipse cx="129.5" cy="64.5" rx="1.2" ry="1" opacity="0.43"/>
<ellipse cx="134.7" cy="58.9" rx="1.1" ry="1" opacity="0.33"/>
<ellipse cx="140.5" cy="56.7" rx="1.2" ry="1" opacity="0.34"/>
<ellipse cx="147.6" cy="62.2" rx="1.2" ry="1" opacity="0.39"/>
<ellipse cx="149.4" cy="55.8" rx="1.1" ry="1" opacity="0.52"/>
<ellipse cx="137.7" cy="66.7" rx="1.1" ry="1" opacity="0.54"/>
<ellipse cx="144.1" cy="49.8" rx="1" ry="0.9" opacity="0.26"/>
<ellipse cx="135.6" cy="51.5" rx="1" ry="0.9" opacity="0.37"/>
<ellipse cx="130.3" cy="56" rx="1" ry="0.9" opacity="0.33"/>
<ellipse cx="150.3" cy="64.3" rx="1" ry="0.9" opacity="0.32"/>
<ellipse cx="139.4" cy="62.5" rx="0.8" ry="0.8" opacity="0.36"/>
<ellipse cx="28.5" cy="136.1" rx="2" ry="1.8" opacity="0.43"/>
<ellipse cx="16.6" cy="135.7" rx="1.2" ry="1" opacity="0.35"/>
<ellipse cx="34.8" cy="131.9" rx="1.1" ry="1" opacity="0.4"/>
<ellipse cx="36.6" cy="140.9" rx="1.2" ry="1" opacity="0.33"/>
<ellipse cx="31" cy="145" rx="1.2" ry="1" opacity="0.48"/>
<ellipse cx="22.8" cy="142.3" rx="1.3" ry="1.1" opacity="0.5"/>
<ellipse cx="62.3" cy="136.8" rx="0.6" ry="0.6" opacity="0.33"/>
<ellipse cx="51.4" cy="126.9" rx="0.7" ry="0.7" opacity="0.39"/>
<ellipse cx="132" cy="9.6" rx="1.5" ry="1.3" opacity="0.34"/>
<ellipse cx="125.4" cy="16.6" rx="0.9" ry="0.8" opacity="0.5"/>
<ellipse cx="132.3" cy="5.1" rx="0.9" ry="0.8" opacity="0.5"/>
<ellipse cx="129.8" cy="4" rx="1" ry="0.9" opacity="0.39"/>
<ellipse cx="113.3" cy="28.1" rx="0.9" ry="0.8" opacity="0.37"/>
<ellipse cx="120.3" cy="25.6" rx="1.3" ry="1.2" opacity="0.25"/>
<ellipse cx="119.9" cy="20.9" rx="1.3" ry="1.1" opacity="0.39"/>
<ellipse cx="126.4" cy="19.4" rx="1" ry="0.9" opacity="0.43"/>
<ellipse cx="107.7" cy="36.8" rx="1" ry="0.9" opacity="0.35"/>
<ellipse cx="108.8" cy="37.1" rx="1" ry="0.9" opacity="0.47"/>
<ellipse cx="110.9" cy="37.7" rx="1.4" ry="1.2" opacity="0.35"/>
<ellipse cx="102.5" cy="45" rx="0.9" ry="0.8" opacity="0.45"/>
<ellipse cx="104.6" cy="68.8" rx="1.5" ry="1.3" opacity="0.43"/>
<ellipse cx="102.5" cy="50.9" rx="0.9" ry="0.8" opacity="0.37"/>
<ellipse cx="106.6" cy="52.1" rx="1.2" ry="1.1" opacity="0.44"/>
<ellipse cx="108.7" cy="70.3" rx="1.1" ry="1" opacity="0.37"/>
<ellipse cx="107.1" cy="78.7" rx="1.6" ry="1.4" opacity="0.49"/>
<ellipse cx="108.4" cy="91.7" rx="1.1" ry="1" opacity="0.35"/>
<ellipse cx="105.4" cy="93.6" rx="1.2" ry="1.1" opacity="0.49"/>
<ellipse cx="108.4" cy="96.9" rx="1.4" ry="1.3" opacity="0.52"/>
<ellipse cx="108.3" cy="117.4" rx="0.9" ry="0.8" opacity="0.46"/>
<ellipse cx="110.4" cy="129.8" rx="1.5" ry="1.3" opacity="0.31"/>
<ellipse cx="111" cy="125.6" rx="0.9" ry="0.8" opacity="0.32"/>
<ellipse cx="110.4" cy="117.1" rx="1.5" ry="1.4" opacity="0.36"/>
<ellipse cx="117.3" cy="138.4" rx="0.9" ry="0.8" opacity="0.52"/>
<ellipse cx="121.5" cy="137.1" rx="1" ry="0.9" opacity="0.52"/>
<ellipse cx="132" cy="143.9" rx="0.9" ry="0.8" opacity="0.5"/>
<ellipse cx="118.5" cy="131.4" rx="1.3" ry="1.1" opacity="0.5"/>
<ellipse cx="131.8" cy="143.3" rx="0.8" ry="0.7" opacity="0.3"/>
<ellipse cx="139.4" cy="157.4" rx="1" ry="0.9" opacity="0.45"/>
<ellipse cx="134.4" cy="153.7" rx="1.4" ry="1.3" opacity="0.25"/>
<ellipse cx="131.4" cy="143.9" rx="1.1" ry="1" opacity="0.42"/>
<ellipse cx="168.9" cy="89" rx="1.3" ry="1.1" opacity="0.35"/>
<ellipse cx="155.4" cy="95.2" rx="0.9" ry="0.8" opacity="0.54"/>
<ellipse cx="159" cy="93.3" rx="1.3" ry="1.2" opacity="0.46"/>
<ellipse cx="157.1" cy="95" rx="1.6" ry="1.4" opacity="0.5"/>
<ellipse cx="137.1" cy="101.1" rx="1.3" ry="1.1" opacity="0.52"/>
<ellipse cx="142.6" cy="99.4" rx="1.5" ry="1.4" opacity="0.35"/>
<ellipse cx="150.7" cy="99.7" rx="1.4" ry="1.2" opacity="0.43"/>
<ellipse cx="138" cy="101.5" rx="0.9" ry="0.8" opacity="0.29"/>
<ellipse cx="127.3" cy="104" rx="0.8" ry="0.8" opacity="0.46"/>
<ellipse cx="124.2" cy="103.9" rx="1.1" ry="1" opacity="0.32"/>
<ellipse cx="136.7" cy="105.5" rx="1.3" ry="1.2" opacity="0.51"/>
<ellipse cx="129.6" cy="102.9" rx="1.4" ry="1.3" opacity="0.42"/>
<ellipse cx="114.8" cy="49.8" rx="0.9" ry="0.8" opacity="0.41"/>
<ellipse cx="114.1" cy="47.8" rx="1" ry="0.9" opacity="0.35"/>
<ellipse cx="121.9" cy="27.7" rx="1.1" ry="1" opacity="0.36"/>
<ellipse cx="115.4" cy="36.8" rx="1.5" ry="1.4" opacity="0.34"/>
<ellipse cx="118.3" cy="66.7" rx="1.2" ry="1.1" opacity="0.31"/>
<ellipse cx="118.8" cy="60.8" rx="1" ry="0.9" opacity="0.5"/>
<ellipse cx="115.9" cy="58" rx="1.5" ry="1.4" opacity="0.55"/>
<ellipse cx="117.3" cy="54.1" rx="1.5" ry="1.4" opacity="0.27"/>
<ellipse cx="184.3" cy="12.6" rx="1.5" ry="1.4" opacity="0.51"/>
<ellipse cx="179.2" cy="30.9" rx="1.6" ry="1.4" opacity="0.38"/>
<ellipse cx="181.4" cy="11.8" rx="1.4" ry="1.2" opacity="0.31"/>
<ellipse cx="181.2" cy="16.6" rx="1.4" ry="1.3" opacity="0.36"/>
<ellipse cx="23" cy="161.5" rx="1" ry="0.9" opacity="0.34"/>
<ellipse cx="21.9" cy="166.6" rx="1.3" ry="1.2" opacity="0.28"/>
<ellipse cx="20.6" cy="169.6" rx="1.2" ry="1.1" opacity="0.26"/>
<ellipse cx="19.4" cy="157.8" rx="1.4" ry="1.3" opacity="0.28"/>
<ellipse cx="23.4" cy="171.6" rx="1" ry="0.9" opacity="0.41"/>
<ellipse cx="23.9" cy="174.9" rx="0.8" ry="0.7" opacity="0.39"/>
<ellipse cx="22.7" cy="180.9" rx="1.2" ry="1.1" opacity="0.3"/>
<ellipse cx="23.6" cy="175.3" rx="1.3" ry="1.2" opacity="0.48"/>
<ellipse cx="10" cy="114.4" rx="1.3" ry="1.2" opacity="0.41"/>
<ellipse cx="14.9" cy="115.7" rx="0.9" ry="0.8" opacity="0.43"/>
<ellipse cx="5.1" cy="112.8" rx="1.4" ry="1.3" opacity="0.49"/>
<ellipse cx="5.4" cy="109.5" rx="1.3" ry="1.1" opacity="0.4"/>
<ellipse cx="6.6" cy="32.5" rx="1.3" ry="1.1" opacity="0.51"/>
<ellipse cx="5.3" cy="30.2" rx="1.2" ry="1.1" opacity="0.38"/>
<ellipse cx="8.4" cy="38.4" rx="0.9" ry="0.8" opacity="0.52"/>
<ellipse cx="11.2" cy="40" rx="1" ry="0.9" opacity="0.29"/>
<ellipse cx="83.1" cy="10.2" rx="1.3" ry="1.2" opacity="0.41"/>
<ellipse cx="85.9" cy="8" rx="1.5" ry="1.3" opacity="0.3"/>
<ellipse cx="83.2" cy="11.4" rx="1.5" ry="1.3" opacity="0.49"/>
<ellipse cx="82.7" cy="5.9" rx="1" ry="0.9" opacity="0.54"/>
</g>
</svg>
<svg x="1263" y="741" width="186.2" height="189.3" overflow="hidden" stroke="none">
<rect width="187.2" height="190.3" fill="#04140b" stroke="none"/>
<use href="#rfp"/>
<g filter="url(#b15)">
<ellipse cx="26.9" cy="135.6" rx="7.5" ry="6.5" fill="#1ea04a" opacity="0.75"/>
<ellipse cx="24.4" cy="136.4" rx="4.5" ry="4" fill="#f0602a" opacity="0.85"/>
<ellipse cx="60.4" cy="126" rx="5.5" ry="5" fill="#e8742c" opacity="0.9"/>
<ellipse cx="55.4" cy="138" rx="6" ry="3.8" fill="#22d860" transform="rotate(-15 55.4 138)"/>
<ellipse cx="64.4" cy="134" rx="3.5" ry="3" fill="#1eb050" opacity="0.9"/>
</g>
</svg>
<text stroke="none" transform="translate(636,987.5)" font-size="50">g</text>
<text stroke="none" transform="translate(779.5,1004) scale(0.74,1)" font-size="36.5" text-anchor="middle">Brightfield</text>
<text stroke="none" transform="translate(972.6,1004) scale(0.76,1)" font-size="36.5" text-anchor="middle" fill="#12a65a">GFP</text>
<text stroke="none" transform="translate(1061.2,976.8)" font-size="35.5" text-anchor="middle">GBM28</text>
<text stroke="none" transform="translate(1161.7,1004) scale(0.77,1)" font-size="36.5" text-anchor="middle" fill="#ec1c24">Mito</text>
<text stroke="none" transform="translate(1362,1004) scale(0.76,1)" font-size="36.5" text-anchor="middle" fill="#1773c2">Merge</text>
<text stroke="none" transform="translate(656,1128.7) scale(0.68,1)" font-size="43.3">C</text>
<text stroke="none" transform="translate(658.5,1299.8) scale(0.68,1)" font-size="43.3">P</text>
<svg x="684.5" y="1010.1" width="183.2" height="187.9" overflow="hidden" stroke="none">
<rect width="184.2" height="188.9" fill="#868686" stroke="none"/>
<rect width="184.2" height="188.9" filter="url(#nz)" opacity="0.12"/>
<rect width="184.2" height="188.9" filter="url(#nz2)" opacity="0.07"/>
<g filter="url(#b1)">
<ellipse cx="26.9" cy="131.5" rx="18.2" ry="2" fill="#787878" transform="rotate(-48.4 26.9 131.5)" opacity="0.6"/>
<ellipse cx="86.7" cy="185.6" rx="10.9" ry="0.7" fill="#979797" transform="rotate(-67.5 86.7 185.6)" opacity="0.6"/>
<ellipse cx="175.2" cy="79.7" rx="10.3" ry="1.6" fill="#787878" transform="rotate(-67.5 175.2 79.7)" opacity="0.6"/>
<ellipse cx="79.4" cy="192" rx="20.3" ry="0.7" fill="#757575" transform="rotate(-69.7 79.4 192)" opacity="0.6"/>
<ellipse cx="58.5" cy="93.5" rx="9.9" ry="0.7" fill="#9b9b9b" transform="rotate(-39.9 58.5 93.5)" opacity="0.6"/>
<ellipse cx="138.2" cy="12.5" rx="20.9" ry="1.4" fill="#787878" transform="rotate(-80.6 138.2 12.5)" opacity="0.6"/>
<ellipse cx="61.3" cy="90.9" rx="11" ry="0.8" fill="#787878" transform="rotate(-76.3 61.3 90.9)" opacity="0.6"/>
<ellipse cx="33.1" cy="128.3" rx="20.8" ry="2" fill="#939393" transform="rotate(-45.2 33.1 128.3)" opacity="0.6"/>
<ellipse cx="8.7" cy="105.8" rx="16.9" ry="1.9" fill="#9b9b9b" transform="rotate(-50 8.7 105.8)" opacity="0.6"/>
<ellipse cx="166.5" cy="76.1" rx="13.8" ry="1.1" fill="#757575" transform="rotate(-72.9 166.5 76.1)" opacity="0.6"/>
<ellipse cx="88.6" cy="47.6" rx="21.3" ry="2" fill="#7c7c7c" transform="rotate(-74.1 88.6 47.6)" opacity="0.6"/>
<ellipse cx="90.8" cy="92.3" rx="16.8" ry="1.4" fill="#787878" transform="rotate(-63.5 90.8 92.3)" opacity="0.6"/>
<ellipse cx="56.6" cy="188.9" rx="9.8" ry="1.2" fill="#7c7c7c" transform="rotate(-44.9 56.6 188.9)" opacity="0.6"/>
<ellipse cx="174.1" cy="63.6" rx="17.6" ry="0.9" fill="#979797" transform="rotate(-75.5 174.1 63.6)" opacity="0.6"/>
<ellipse cx="173.3" cy="29.4" rx="14.9" ry="1.6" fill="#979797" transform="rotate(-78.1 173.3 29.4)" opacity="0.6"/>
<ellipse cx="168.6" cy="184.6" rx="14.5" ry="1.5" fill="#7c7c7c" transform="rotate(21.7 168.6 184.6)" opacity="0.6"/>
<ellipse cx="165.6" cy="92.2" rx="14" ry="0.9" fill="#787878" transform="rotate(-76.6 165.6 92.2)" opacity="0.6"/>
<ellipse cx="8.4" cy="154.4" rx="20.4" ry="0.8" fill="#9b9b9b" transform="rotate(-48.3 8.4 154.4)" opacity="0.6"/>
<ellipse cx="44.8" cy="52.4" rx="14.7" ry="1.8" fill="#979797" transform="rotate(-53.9 44.8 52.4)" opacity="0.6"/>
<ellipse cx="119.7" cy="23.9" rx="10.4" ry="1" fill="#979797" transform="rotate(-67.9 119.7 23.9)" opacity="0.6"/>
<ellipse cx="180.3" cy="99" rx="19.7" ry="1.9" fill="#787878" transform="rotate(-80.5 180.3 99)" opacity="0.6"/>
<ellipse cx="65.7" cy="25.4" rx="13.9" ry="1.5" fill="#757575" transform="rotate(-63.1 65.7 25.4)" opacity="0.6"/>
<ellipse cx="159.1" cy="55.9" rx="16.5" ry="0.7" fill="#7c7c7c" transform="rotate(-76 159.1 55.9)" opacity="0.6"/>
<ellipse cx="127.4" cy="183.8" rx="8.4" ry="1" fill="#7c7c7c" transform="rotate(14.3 127.4 183.8)" opacity="0.6"/>
<ellipse cx="179.6" cy="78.3" rx="18.9" ry="0.9" fill="#787878" transform="rotate(-67.5 179.6 78.3)" opacity="0.6"/>
<ellipse cx="13.3" cy="13.6" rx="8.4" ry="0.8" fill="#787878" transform="rotate(-49 13.3 13.6)" opacity="0.6"/>
<ellipse cx="18" cy="50.7" rx="12.9" ry="1.3" fill="#757575" transform="rotate(-40 18 50.7)" opacity="0.6"/>
<ellipse cx="37.4" cy="27.9" rx="10.9" ry="1.7" fill="#7c7c7c" transform="rotate(-50.2 37.4 27.9)" opacity="0.6"/>
<ellipse cx="141.3" cy="114.5" rx="16.1" ry="1.7" fill="#979797" transform="rotate(-7.3 141.3 114.5)" opacity="0.6"/>
<ellipse cx="-3.5" cy="86.8" rx="9" ry="1.8" fill="#787878" transform="rotate(-43.2 -3.5 86.8)" opacity="0.6"/>
<ellipse cx="40.1" cy="185.8" rx="17.7" ry="1.2" fill="#787878" transform="rotate(-43.6 40.1 185.8)" opacity="0.6"/>
<ellipse cx="54.8" cy="173.3" rx="12.7" ry="1.3" fill="#939393" transform="rotate(-47.9 54.8 173.3)" opacity="0.6"/>
<ellipse cx="105.7" cy="102.9" rx="9" ry="2" fill="#9b9b9b" transform="rotate(-66.3 105.7 102.9)" opacity="0.6"/>
<ellipse cx="54.9" cy="133.4" rx="16.4" ry="1.5" fill="#979797" transform="rotate(-46.9 54.9 133.4)" opacity="0.6"/>
<ellipse cx="57.9" cy="34.8" rx="9" ry="0.8" fill="#757575" transform="rotate(-45.2 57.9 34.8)" opacity="0.6"/>
<ellipse cx="9.7" cy="9.5" rx="21" ry="1.4" fill="#757575" transform="rotate(-43.3 9.7 9.5)" opacity="0.6"/>
<ellipse cx="178" cy="129.6" rx="19.3" ry="1.2" fill="#939393" transform="rotate(-6.9 178 129.6)" opacity="0.6"/>
<ellipse cx="72.6" cy="39.6" rx="8.8" ry="1.1" fill="#787878" transform="rotate(-69.2 72.6 39.6)" opacity="0.6"/>
<ellipse cx="108.9" cy="75.1" rx="14.8" ry="1.2" fill="#757575" transform="rotate(-62.6 108.9 75.1)" opacity="0.6"/>
<ellipse cx="89" cy="120" rx="23.4" ry="0.9" fill="#757575" transform="rotate(-75.5 89 120)" opacity="0.6"/>
<ellipse cx="67.1" cy="114.6" rx="11.5" ry="1.7" fill="#7c7c7c" transform="rotate(-68.9 67.1 114.6)" opacity="0.6"/>
<ellipse cx="124.1" cy="165" rx="19.2" ry="1.3" fill="#787878" transform="rotate(9.3 124.1 165)" opacity="0.6"/>
<ellipse cx="91.3" cy="55.5" rx="14.1" ry="2" fill="#7c7c7c" transform="rotate(-67.6 91.3 55.5)" opacity="0.6"/>
<ellipse cx="-3.8" cy="56.9" rx="13" ry="0.8" fill="#787878" transform="rotate(-50 -3.8 56.9)" opacity="0.6"/>
<ellipse cx="28.9" cy="98.4" rx="17.9" ry="1.3" fill="#7c7c7c" transform="rotate(-50.2 28.9 98.4)" opacity="0.6"/>
<ellipse cx="15.9" cy="184.2" rx="19.3" ry="1.2" fill="#9b9b9b" transform="rotate(-53.3 15.9 184.2)" opacity="0.6"/>
<ellipse cx="107.4" cy="32.4" rx="9.3" ry="1" fill="#939393" transform="rotate(-76.5 107.4 32.4)" opacity="0.6"/>
<ellipse cx="158.3" cy="25.4" rx="18.9" ry="1.6" fill="#939393" transform="rotate(-77.4 158.3 25.4)" opacity="0.6"/>
<ellipse cx="133.4" cy="26.1" rx="14.3" ry="1.5" fill="#757575" transform="rotate(-73.8 133.4 26.1)" opacity="0.6"/>
<ellipse cx="49.2" cy="29.5" rx="14.2" ry="2" fill="#787878" transform="rotate(-52.1 49.2 29.5)" opacity="0.6"/>
<ellipse cx="36.6" cy="64.4" rx="18.1" ry="0.7" fill="#9b9b9b" transform="rotate(-41.3 36.6 64.4)" opacity="0.6"/>
<ellipse cx="91.8" cy="2.8" rx="17.7" ry="2" fill="#787878" transform="rotate(-64.4 91.8 2.8)" opacity="0.6"/>
<ellipse cx="176.9" cy="24.3" rx="23.6" ry="1.9" fill="#9b9b9b" transform="rotate(-77.6 176.9 24.3)" opacity="0.6"/>
<ellipse cx="66.5" cy="21.7" rx="20.7" ry="1.8" fill="#939393" transform="rotate(-62.2 66.5 21.7)" opacity="0.6"/>
<ellipse cx="54.6" cy="77.6" rx="22.1" ry="1.7" fill="#939393" transform="rotate(-52.6 54.6 77.6)" opacity="0.6"/>
<ellipse cx="158" cy="178.1" rx="22.1" ry="0.8" fill="#939393" transform="rotate(1.9 158 178.1)" opacity="0.6"/>
<ellipse cx="79.2" cy="159.8" rx="23.8" ry="0.8" fill="#787878" transform="rotate(-65.2 79.2 159.8)" opacity="0.6"/>
<ellipse cx="152.5" cy="115" rx="17.9" ry="1.1" fill="#7c7c7c" transform="rotate(-12 152.5 115)" opacity="0.6"/>
<ellipse cx="47.1" cy="64.9" rx="12.8" ry="1.6" fill="#979797" transform="rotate(-45.7 47.1 64.9)" opacity="0.6"/>
<ellipse cx="31" cy="14.4" rx="21.3" ry="0.8" fill="#9b9b9b" transform="rotate(-50.5 31 14.4)" opacity="0.6"/>
<ellipse cx="2.2" cy="93" rx="18.9" ry="0.7" fill="#787878" transform="rotate(-45.2 2.2 93)" opacity="0.6"/>
<ellipse cx="40" cy="66" rx="12" ry="1.6" fill="#787878" transform="rotate(-53.4 40 66)" opacity="0.6"/>
<ellipse cx="96.3" cy="10.5" rx="21.2" ry="1.6" fill="#979797" transform="rotate(-73.2 96.3 10.5)" opacity="0.6"/>
<ellipse cx="112.2" cy="120.3" rx="18.3" ry="1.3" fill="#9b9b9b" transform="rotate(-80.6 112.2 120.3)" opacity="0.6"/>
<ellipse cx="26.3" cy="163.4" rx="20.9" ry="0.8" fill="#7c7c7c" transform="rotate(-40.7 26.3 163.4)" opacity="0.6"/>
<ellipse cx="126.6" cy="123.2" rx="17.9" ry="2" fill="#979797" transform="rotate(-6.8 126.6 123.2)" opacity="0.6"/>
<ellipse cx="70.4" cy="181.4" rx="23" ry="1.9" fill="#979797" transform="rotate(-62.7 70.4 181.4)" opacity="0.6"/>
<ellipse cx="28.5" cy="47.5" rx="8.4" ry="0.9" fill="#7c7c7c" transform="rotate(-50.2 28.5 47.5)" opacity="0.6"/>
<ellipse cx="174.8" cy="101.1" rx="22.1" ry="1.4" fill="#939393" transform="rotate(-77.3 174.8 101.1)" opacity="0.6"/>
<ellipse cx="144.8" cy="141.4" rx="22.1" ry="1" fill="#979797" transform="rotate(-4.7 144.8 141.4)" opacity="0.6"/>
<ellipse cx="110.8" cy="64.6" rx="18.7" ry="0.9" fill="#939393" transform="rotate(-65.4 110.8 64.6)" opacity="0.6"/>
<ellipse cx="0.2" cy="78.7" rx="17.3" ry="1.7" fill="#7c7c7c" transform="rotate(-56.5 0.2 78.7)" opacity="0.6"/>
<ellipse cx="138.3" cy="37.1" rx="16.5" ry="1.1" fill="#939393" transform="rotate(-74.3 138.3 37.1)" opacity="0.6"/>
<ellipse cx="26.1" cy="126" rx="17.8" ry="1.7" fill="#757575" transform="rotate(-48.6 26.1 126)" opacity="0.6"/>
<ellipse cx="120.7" cy="45.1" rx="14.9" ry="1.3" fill="#757575" transform="rotate(-74.2 120.7 45.1)" opacity="0.6"/>
<ellipse cx="2.8" cy="164.9" rx="11.3" ry="1.5" fill="#9b9b9b" transform="rotate(-42.8 2.8 164.9)" opacity="0.6"/>
<ellipse cx="150.1" cy="140.8" rx="19.7" ry="0.9" fill="#757575" transform="rotate(6.4 150.1 140.8)" opacity="0.6"/>
<ellipse cx="1.3" cy="148.9" rx="21.9" ry="1" fill="#757575" transform="rotate(-51.7 1.3 148.9)" opacity="0.6"/>
<ellipse cx="38.9" cy="140.3" rx="21" ry="0.7" fill="#979797" transform="rotate(-48.3 38.9 140.3)" opacity="0.6"/>
<ellipse cx="172" cy="21.2" rx="13.3" ry="1.5" fill="#939393" transform="rotate(-74.6 172 21.2)" opacity="0.6"/>
<ellipse cx="110.6" cy="132.2" rx="21.8" ry="1.6" fill="#9b9b9b" transform="rotate(-67.5 110.6 132.2)" opacity="0.6"/>
<ellipse cx="136.9" cy="85.8" rx="10" ry="1.8" fill="#939393" transform="rotate(-64.9 136.9 85.8)" opacity="0.6"/>
<ellipse cx="167.1" cy="10.3" rx="12.9" ry="1.7" fill="#787878" transform="rotate(-69.6 167.1 10.3)" opacity="0.6"/>
<ellipse cx="175.7" cy="15.6" rx="17.9" ry="1" fill="#939393" transform="rotate(-69.4 175.7 15.6)" opacity="0.6"/>
<ellipse cx="91.1" cy="136.1" rx="11.5" ry="1.9" fill="#9b9b9b" transform="rotate(-64.6 91.1 136.1)" opacity="0.6"/>
<ellipse cx="96" cy="-3.2" rx="21.5" ry="1.6" fill="#9b9b9b" transform="rotate(-71.9 96 -3.2)" opacity="0.6"/>
<ellipse cx="74.9" cy="19.4" rx="22.1" ry="2" fill="#979797" transform="rotate(-65.2 74.9 19.4)" opacity="0.6"/>
<ellipse cx="39.9" cy="134.4" rx="15.8" ry="1.2" fill="#939393" transform="rotate(-47.3 39.9 134.4)" opacity="0.6"/>
<ellipse cx="117.9" cy="120.8" rx="13.9" ry="1.5" fill="#757575" transform="rotate(-12.2 117.9 120.8)" opacity="0.6"/>
<ellipse cx="83.3" cy="96.7" rx="11.6" ry="1.8" fill="#979797" transform="rotate(-62.8 83.3 96.7)" opacity="0.6"/>
<ellipse cx="168.4" cy="161.9" rx="20.4" ry="0.8" fill="#7c7c7c" transform="rotate(12.2 168.4 161.9)" opacity="0.6"/>
<ellipse cx="89.7" cy="27.7" rx="20.8" ry="1.1" fill="#9b9b9b" transform="rotate(-71.1 89.7 27.7)" opacity="0.6"/>
<ellipse cx="181.4" cy="85.4" rx="11.2" ry="1.8" fill="#787878" transform="rotate(-80.8 181.4 85.4)" opacity="0.6"/>
<ellipse cx="37.7" cy="17.1" rx="16.6" ry="0.9" fill="#757575" transform="rotate(-54.9 37.7 17.1)" opacity="0.6"/>
<ellipse cx="18.9" cy="133.6" rx="11.3" ry="1" fill="#787878" transform="rotate(-56.7 18.9 133.6)" opacity="0.6"/>
<ellipse cx="104.7" cy="43.4" rx="14.9" ry="1.6" fill="#939393" transform="rotate(-62.8 104.7 43.4)" opacity="0.6"/>
<ellipse cx="152" cy="74.1" rx="23.4" ry="1.2" fill="#7c7c7c" transform="rotate(-66.5 152 74.1)" opacity="0.6"/>
<ellipse cx="146.6" cy="1.8" rx="16" ry="1.3" fill="#939393" transform="rotate(-65 146.6 1.8)" opacity="0.6"/>
<ellipse cx="2.3" cy="121.8" rx="20.5" ry="1.6" fill="#757575" transform="rotate(-52.4 2.3 121.8)" opacity="0.6"/>
<ellipse cx="97.5" cy="27.5" rx="13.5" ry="1" fill="#7c7c7c" transform="rotate(-65 97.5 27.5)" opacity="0.6"/>
<ellipse cx="172.1" cy="53" rx="9.8" ry="1.1" fill="#757575" transform="rotate(-70.5 172.1 53)" opacity="0.6"/>
<ellipse cx="148.2" cy="144.1" rx="10.4" ry="1.1" fill="#979797" transform="rotate(-4.8 148.2 144.1)" opacity="0.6"/>
<ellipse cx="125.8" cy="174.4" rx="8.8" ry="1.4" fill="#757575" transform="rotate(13.7 125.8 174.4)" opacity="0.6"/>
<ellipse cx="15.5" cy="187.4" rx="11.5" ry="1" fill="#7c7c7c" transform="rotate(-41.1 15.5 187.4)" opacity="0.6"/>
<ellipse cx="90.5" cy="55.3" rx="13.3" ry="1.3" fill="#979797" transform="rotate(-73.6 90.5 55.3)" opacity="0.6"/>
<ellipse cx="33.7" cy="1.3" rx="11.4" ry="0.7" fill="#9b9b9b" transform="rotate(-41.4 33.7 1.3)" opacity="0.6"/>
<ellipse cx="144.4" cy="163.3" rx="23.4" ry="1.4" fill="#9b9b9b" transform="rotate(0.9 144.4 163.3)" opacity="0.6"/>
<ellipse cx="67.5" cy="50.4" rx="17.5" ry="1.2" fill="#7c7c7c" transform="rotate(-62 67.5 50.4)" opacity="0.6"/>
<ellipse cx="22.7" cy="67.8" rx="22.4" ry="1.6" fill="#9b9b9b" transform="rotate(-45.3 22.7 67.8)" opacity="0.6"/>
<ellipse cx="144.2" cy="128.7" rx="23.4" ry="1.6" fill="#787878" transform="rotate(0.1 144.2 128.7)" opacity="0.6"/>
<ellipse cx="53.8" cy="105.8" rx="21.1" ry="1.2" fill="#7c7c7c" transform="rotate(-42.9 53.8 105.8)" opacity="0.6"/>
<ellipse cx="115.9" cy="49" rx="12.3" ry="1.7" fill="#939393" transform="rotate(-66.7 115.9 49)" opacity="0.6"/>
<ellipse cx="39.5" cy="19" rx="8.4" ry="2" fill="#757575" transform="rotate(-53.2 39.5 19)" opacity="0.6"/>
<ellipse cx="91.5" cy="133.8" rx="16.2" ry="1.9" fill="#7c7c7c" transform="rotate(-59.6 91.5 133.8)" opacity="0.6"/>
<ellipse cx="68.6" cy="178.8" rx="20.3" ry="0.9" fill="#979797" transform="rotate(-67.7 68.6 178.8)" opacity="0.6"/>
<ellipse cx="-4.2" cy="13.3" rx="15.3" ry="0.8" fill="#979797" transform="rotate(-43.3 -4.2 13.3)" opacity="0.6"/>
<ellipse cx="58.3" cy="30" rx="17.3" ry="1.1" fill="#7c7c7c" transform="rotate(-45.3 58.3 30)" opacity="0.6"/>
<ellipse cx="143.2" cy="183.2" rx="16.9" ry="1.6" fill="#979797" transform="rotate(8.4 143.2 183.2)" opacity="0.6"/>
<ellipse cx="156.3" cy="188.8" rx="12.1" ry="1.8" fill="#9b9b9b" transform="rotate(16.6 156.3 188.8)" opacity="0.6"/>
<ellipse cx="46.2" cy="64.1" rx="16.5" ry="1.2" fill="#7c7c7c" transform="rotate(-45.3 46.2 64.1)" opacity="0.6"/>
<ellipse cx="117.1" cy="157" rx="12.5" ry="2" fill="#979797" transform="rotate(8.3 117.1 157)" opacity="0.6"/>
<ellipse cx="3.3" cy="151.2" rx="19.1" ry="1.7" fill="#979797" transform="rotate(-47.9 3.3 151.2)" opacity="0.6"/>
<ellipse cx="28.5" cy="108.4" rx="16.9" ry="1.5" fill="#9b9b9b" transform="rotate(-41.7 28.5 108.4)" opacity="0.6"/>
<ellipse cx="27.6" cy="145.6" rx="9.6" ry="1.2" fill="#9b9b9b" transform="rotate(-40.3 27.6 145.6)" opacity="0.6"/>
<ellipse cx="58" cy="138.9" rx="14.1" ry="1.7" fill="#9b9b9b" transform="rotate(-42.7 58 138.9)" opacity="0.6"/>
<ellipse cx="135.9" cy="43.3" rx="13.1" ry="1.7" fill="#757575" transform="rotate(-75.5 135.9 43.3)" opacity="0.6"/>
<ellipse cx="31.6" cy="184.2" rx="17.9" ry="1.3" fill="#757575" transform="rotate(-40.8 31.6 184.2)" opacity="0.6"/>
<ellipse cx="128.8" cy="150.3" rx="11" ry="1.8" fill="#979797" transform="rotate(2.9 128.8 150.3)" opacity="0.6"/>
<ellipse cx="171.1" cy="11.8" rx="19.4" ry="1.8" fill="#787878" transform="rotate(-72.2 171.1 11.8)" opacity="0.6"/>
<ellipse cx="170.7" cy="117" rx="8.1" ry="1.4" fill="#9b9b9b" transform="rotate(-6 170.7 117)" opacity="0.6"/>
<ellipse cx="134.4" cy="-4.6" rx="22.2" ry="0.8" fill="#757575" transform="rotate(-65.3 134.4 -4.6)" opacity="0.6"/>
<ellipse cx="73.7" cy="189.7" rx="21.8" ry="1.7" fill="#757575" transform="rotate(-62.8 73.7 189.7)" opacity="0.6"/>
<ellipse cx="31" cy="54" rx="20.2" ry="1.9" fill="#979797" transform="rotate(-53 31 54)" opacity="0.6"/>
<ellipse cx="22.5" cy="176.8" rx="18.5" ry="1.2" fill="#9b9b9b" transform="rotate(-47 22.5 176.8)" opacity="0.6"/>
<ellipse cx="138.9" cy="67.9" rx="16.2" ry="1" fill="#7c7c7c" transform="rotate(-64.6 138.9 67.9)" opacity="0.6"/>
<ellipse cx="41.4" cy="62.6" rx="12.7" ry="1.4" fill="#7c7c7c" transform="rotate(-41.9 41.4 62.6)" opacity="0.6"/>
<ellipse cx="49" cy="33.6" rx="17.2" ry="1.7" fill="#939393" transform="rotate(-51.3 49 33.6)" opacity="0.6"/>
<ellipse cx="98.2" cy="143.9" rx="18.1" ry="1" fill="#9b9b9b" transform="rotate(-60.3 98.2 143.9)" opacity="0.6"/>
<ellipse cx="29.7" cy="102" rx="23.4" ry="0.9" fill="#7c7c7c" transform="rotate(-54 29.7 102)" opacity="0.6"/>
<ellipse cx="155.9" cy="90.2" rx="17.5" ry="1" fill="#939393" transform="rotate(-76.1 155.9 90.2)" opacity="0.6"/>
<ellipse cx="162.2" cy="122.3" rx="18.1" ry="1.4" fill="#9b9b9b" transform="rotate(-15.9 162.2 122.3)" opacity="0.6"/>
<ellipse cx="7.1" cy="191.6" rx="10.7" ry="1.4" fill="#939393" transform="rotate(-56.8 7.1 191.6)" opacity="0.6"/>
<ellipse cx="149.2" cy="121.1" rx="18.2" ry="1.8" fill="#7c7c7c" transform="rotate(-5.8 149.2 121.1)" opacity="0.6"/>
<ellipse cx="71.6" cy="117.2" rx="10.9" ry="1.1" fill="#7c7c7c" transform="rotate(-73.5 71.6 117.2)" opacity="0.6"/>
<ellipse cx="67.8" cy="34" rx="18.7" ry="1.5" fill="#7c7c7c" transform="rotate(-59.1 67.8 34)" opacity="0.6"/>
<ellipse cx="160.6" cy="92.3" rx="17.4" ry="1.6" fill="#979797" transform="rotate(-64.9 160.6 92.3)" opacity="0.6"/>
<ellipse cx="43.7" cy="185.1" rx="16.5" ry="1.6" fill="#9b9b9b" transform="rotate(-47.8 43.7 185.1)" opacity="0.6"/>
<ellipse cx="179.9" cy="41.3" rx="11" ry="0.9" fill="#787878" transform="rotate(-75 179.9 41.3)" opacity="0.6"/>
<ellipse cx="107.3" cy="57.4" rx="16.4" ry="0.8" fill="#939393" transform="rotate(-60.5 107.3 57.4)" opacity="0.6"/>
<ellipse cx="179.8" cy="162.8" rx="15.7" ry="0.9" fill="#939393" transform="rotate(11.7 179.8 162.8)" opacity="0.6"/>
<ellipse cx="180.5" cy="69.6" rx="12.8" ry="0.9" fill="#787878" transform="rotate(-66.9 180.5 69.6)" opacity="0.6"/>
<ellipse cx="175.9" cy="70.2" rx="18" ry="1.1" fill="#757575" transform="rotate(-78 175.9 70.2)" opacity="0.6"/>
<ellipse cx="124.8" cy="35.5" rx="16.2" ry="2" fill="#979797" transform="rotate(-77.8 124.8 35.5)" opacity="0.6"/>
<ellipse cx="2.6" cy="186.2" rx="20.8" ry="1.7" fill="#757575" transform="rotate(-50.9 2.6 186.2)" opacity="0.6"/>
<ellipse cx="87.2" cy="11.6" rx="19.6" ry="1.4" fill="#939393" transform="rotate(-69.8 87.2 11.6)" opacity="0.6"/>
<ellipse cx="23.4" cy="97.2" rx="9.4" ry="1.2" fill="#757575" transform="rotate(-41.8 23.4 97.2)" opacity="0.6"/>
<ellipse cx="121.8" cy="156.5" rx="20.2" ry="1.2" fill="#979797" transform="rotate(9.9 121.8 156.5)" opacity="0.6"/>
<ellipse cx="119.5" cy="5.7" rx="20.7" ry="1" fill="#9b9b9b" transform="rotate(-68.3 119.5 5.7)" opacity="0.6"/>
<ellipse cx="45.9" cy="108.6" rx="17" ry="1.7" fill="#7c7c7c" transform="rotate(-52.8 45.9 108.6)" opacity="0.6"/>
<ellipse cx="68.4" cy="62.8" rx="23.1" ry="1.1" fill="#787878" transform="rotate(-60.7 68.4 62.8)" opacity="0.6"/>
<ellipse cx="157.5" cy="51.2" rx="21.2" ry="2" fill="#979797" transform="rotate(-68.7 157.5 51.2)" opacity="0.6"/>
<ellipse cx="12.4" cy="49.2" rx="18.6" ry="1.3" fill="#7c7c7c" transform="rotate(-40.7 12.4 49.2)" opacity="0.6"/>
<ellipse cx="147.7" cy="187.4" rx="13.3" ry="0.8" fill="#9b9b9b" transform="rotate(8.9 147.7 187.4)" opacity="0.6"/>
<ellipse cx="159.1" cy="30" rx="20" ry="1.5" fill="#9b9b9b" transform="rotate(-79.6 159.1 30)" opacity="0.6"/>
<ellipse cx="97.4" cy="186.2" rx="16.2" ry="1.7" fill="#939393" transform="rotate(-68.2 97.4 186.2)" opacity="0.6"/>
<ellipse cx="23" cy="154.1" rx="14.4" ry="0.9" fill="#757575" transform="rotate(-39.6 23 154.1)" opacity="0.6"/>
<ellipse cx="148.9" cy="40.2" rx="21.1" ry="1.6" fill="#7c7c7c" transform="rotate(-80.7 148.9 40.2)" opacity="0.6"/>
<ellipse cx="4.9" cy="113.5" rx="17.6" ry="0.8" fill="#939393" transform="rotate(-43.8 4.9 113.5)" opacity="0.6"/>
<ellipse cx="72.6" cy="161.1" rx="21.2" ry="1.6" fill="#979797" transform="rotate(-60.5 72.6 161.1)" opacity="0.6"/>
<ellipse cx="156.1" cy="43.4" rx="15.8" ry="0.8" fill="#9b9b9b" transform="rotate(-74.1 156.1 43.4)" opacity="0.6"/>
<ellipse cx="184.8" cy="142" rx="12.4" ry="0.7" fill="#787878" transform="rotate(-10.7 184.8 142)" opacity="0.6"/>
<ellipse cx="88.6" cy="183.3" rx="14.2" ry="1.6" fill="#757575" transform="rotate(-60 88.6 183.3)" opacity="0.6"/>
<ellipse cx="170.8" cy="109.9" rx="12.3" ry="1" fill="#979797" transform="rotate(-11 170.8 109.9)" opacity="0.6"/>
<ellipse cx="56.3" cy="31.4" rx="8.7" ry="1.4" fill="#787878" transform="rotate(-39.7 56.3 31.4)" opacity="0.6"/>
<ellipse cx="155" cy="96.2" rx="10.6" ry="1.7" fill="#787878" transform="rotate(-69.9 155 96.2)" opacity="0.6"/>
<ellipse cx="184" cy="46.3" rx="19.1" ry="1.2" fill="#939393" transform="rotate(-66.9 184 46.3)" opacity="0.6"/>
<ellipse cx="86.6" cy="150.1" rx="12" ry="1.7" fill="#7c7c7c" transform="rotate(-68.3 86.6 150.1)" opacity="0.6"/>
<ellipse cx="60.7" cy="100.5" rx="13.4" ry="1.6" fill="#757575" transform="rotate(-77 60.7 100.5)" opacity="0.6"/>
<ellipse cx="117.6" cy="73.2" rx="17.3" ry="1.3" fill="#979797" transform="rotate(-81 117.6 73.2)" opacity="0.6"/>
<ellipse cx="45" cy="176.6" rx="10.3" ry="0.9" fill="#979797" transform="rotate(-52.3 45 176.6)" opacity="0.6"/>
<ellipse cx="171.2" cy="108.9" rx="15.6" ry="1" fill="#787878" transform="rotate(-11.1 171.2 108.9)" opacity="0.6"/>
<ellipse cx="65.7" cy="90.6" rx="8.8" ry="1.2" fill="#7c7c7c" transform="rotate(-74.4 65.7 90.6)" opacity="0.6"/>
<ellipse cx="75.9" cy="184" rx="12.8" ry="1.8" fill="#787878" transform="rotate(-70.1 75.9 184)" opacity="0.6"/>
<ellipse cx="110.9" cy="167.8" rx="21.9" ry="1.8" fill="#979797" transform="rotate(-65.3 110.9 167.8)" opacity="0.6"/>
<ellipse cx="46.5" cy="99.6" rx="18.2" ry="1" fill="#757575" transform="rotate(-46.6 46.5 99.6)" opacity="0.6"/>
<ellipse cx="110.6" cy="62.1" rx="16.8" ry="1.4" fill="#979797" transform="rotate(-67.6 110.6 62.1)" opacity="0.6"/>
<ellipse cx="149.5" cy="26" rx="18.8" ry="0.9" fill="#939393" transform="rotate(-72.8 149.5 26)" opacity="0.6"/>
<ellipse cx="181.4" cy="81.4" rx="19" ry="1.8" fill="#939393" transform="rotate(-76.9 181.4 81.4)" opacity="0.6"/>
<ellipse cx="95" cy="3.4" rx="15.7" ry="1.3" fill="#939393" transform="rotate(-60 95 3.4)" opacity="0.6"/>
<ellipse cx="46.3" cy="180.3" rx="12.6" ry="1.1" fill="#787878" transform="rotate(-56.7 46.3 180.3)" opacity="0.6"/>
<ellipse cx="153.9" cy="31.8" rx="13.3" ry="1.1" fill="#7c7c7c" transform="rotate(-72.7 153.9 31.8)" opacity="0.6"/>
<ellipse cx="28.9" cy="135.7" rx="15" ry="1" fill="#757575" transform="rotate(-44.5 28.9 135.7)" opacity="0.6"/>
<ellipse cx="120.9" cy="32.1" rx="17.7" ry="1.3" fill="#939393" transform="rotate(-76.6 120.9 32.1)" opacity="0.6"/>
<ellipse cx="112.8" cy="69.5" rx="9.2" ry="1.7" fill="#757575" transform="rotate(-65.1 112.8 69.5)" opacity="0.6"/>
<ellipse cx="161" cy="104" rx="23.9" ry="0.8" fill="#9b9b9b" transform="rotate(-72.5 161 104)" opacity="0.6"/>
<ellipse cx="68.1" cy="108" rx="21.1" ry="1.2" fill="#9b9b9b" transform="rotate(-67.6 68.1 108)" opacity="0.6"/>
<ellipse cx="125.8" cy="152.6" rx="17.6" ry="1.7" fill="#7c7c7c" transform="rotate(-6.9 125.8 152.6)" opacity="0.6"/>
<ellipse cx="70" cy="83.4" rx="20.7" ry="1.6" fill="#7c7c7c" transform="rotate(-62 70 83.4)" opacity="0.6"/>
<ellipse cx="9" cy="36" rx="19.1" ry="2" fill="#979797" transform="rotate(-40.4 9 36)" opacity="0.6"/>
<ellipse cx="126.6" cy="26.4" rx="11.3" ry="0.8" fill="#939393" transform="rotate(-73 126.6 26.4)" opacity="0.6"/>
<ellipse cx="167.2" cy="92.1" rx="17.8" ry="1.3" fill="#7c7c7c" transform="rotate(-78.6 167.2 92.1)" opacity="0.6"/>
<ellipse cx="109.1" cy="22.3" rx="18.4" ry="1.4" fill="#979797" transform="rotate(-77 109.1 22.3)" opacity="0.6"/>
<ellipse cx="119.6" cy="63.2" rx="20.5" ry="1.9" fill="#939393" transform="rotate(-75.4 119.6 63.2)" opacity="0.6"/>
<ellipse cx="141.8" cy="165.9" rx="16.2" ry="1.2" fill="#757575" transform="rotate(2.7 141.8 165.9)" opacity="0.6"/>
<ellipse cx="71.6" cy="136.9" rx="12.2" ry="1.2" fill="#757575" transform="rotate(-66.9 71.6 136.9)" opacity="0.6"/>
<ellipse cx="176.8" cy="3.1" rx="11.6" ry="1.9" fill="#9b9b9b" transform="rotate(-80.1 176.8 3.1)" opacity="0.6"/>
<ellipse cx="118.1" cy="85.8" rx="9.2" ry="1.2" fill="#939393" transform="rotate(-69.4 118.1 85.8)" opacity="0.6"/>
<ellipse cx="132.7" cy="100.2" rx="9.4" ry="1" fill="#9b9b9b" transform="rotate(-65.5 132.7 100.2)" opacity="0.6"/>
<ellipse cx="45.9" cy="79" rx="9.5" ry="1.8" fill="#979797" transform="rotate(-41 45.9 79)" opacity="0.6"/>
<ellipse cx="24.5" cy="104.2" rx="14.9" ry="1.6" fill="#7c7c7c" transform="rotate(-41.4 24.5 104.2)" opacity="0.6"/>
<ellipse cx="22.5" cy="56.8" rx="10" ry="1.2" fill="#787878" transform="rotate(-49.9 22.5 56.8)" opacity="0.6"/>
<ellipse cx="33.5" cy="139.7" rx="10.1" ry="1.7" fill="#939393" transform="rotate(-40.5 33.5 139.7)" opacity="0.6"/>
<ellipse cx="93.3" cy="46.3" rx="17" ry="2" fill="#979797" transform="rotate(-74.1 93.3 46.3)" opacity="0.6"/>
<ellipse cx="64.7" cy="81" rx="12.6" ry="1.9" fill="#9b9b9b" transform="rotate(-70.3 64.7 81)" opacity="0.6"/>
<ellipse cx="148.5" cy="37.5" rx="11.7" ry="0.9" fill="#9b9b9b" transform="rotate(-72 148.5 37.5)" opacity="0.6"/>
<ellipse cx="49.9" cy="162.2" rx="10.9" ry="1.3" fill="#787878" transform="rotate(-41.1 49.9 162.2)" opacity="0.6"/>
<ellipse cx="75.2" cy="124.4" rx="12.4" ry="1.2" fill="#787878" transform="rotate(-67.1 75.2 124.4)" opacity="0.6"/>
<ellipse cx="69.3" cy="81.7" rx="10.5" ry="0.8" fill="#787878" transform="rotate(-65.7 69.3 81.7)" opacity="0.6"/>
<ellipse cx="149.3" cy="84.2" rx="19.5" ry="1.9" fill="#939393" transform="rotate(-78.8 149.3 84.2)" opacity="0.6"/>
<ellipse cx="150.5" cy="54.6" rx="9.9" ry="1.5" fill="#7c7c7c" transform="rotate(-77.3 150.5 54.6)" opacity="0.6"/>
<ellipse cx="14.2" cy="40.9" rx="18.3" ry="1.9" fill="#979797" transform="rotate(-45.9 14.2 40.9)" opacity="0.6"/>
<ellipse cx="141.4" cy="104.1" rx="13.3" ry="1.9" fill="#939393" transform="rotate(-71.8 141.4 104.1)" opacity="0.6"/>
<ellipse cx="19.1" cy="37.6" rx="20.6" ry="0.7" fill="#757575" transform="rotate(-46.1 19.1 37.6)" opacity="0.6"/>
<ellipse cx="135" cy="119.2" rx="21.7" ry="1.3" fill="#787878" transform="rotate(-10.8 135 119.2)" opacity="0.6"/>
<ellipse cx="186.9" cy="177.8" rx="16.2" ry="1.3" fill="#787878" transform="rotate(17.2 186.9 177.8)" opacity="0.6"/>
<ellipse cx="21" cy="35.4" rx="22.5" ry="0.9" fill="#787878" transform="rotate(-42.3 21 35.4)" opacity="0.6"/>
<ellipse cx="52.7" cy="153.6" rx="10.9" ry="1.3" fill="#939393" transform="rotate(-50 52.7 153.6)" opacity="0.6"/>
<ellipse cx="0.7" cy="105.4" rx="21.6" ry="1.3" fill="#979797" transform="rotate(-49.6 0.7 105.4)" opacity="0.6"/>
<ellipse cx="64.4" cy="66.1" rx="11.7" ry="1.6" fill="#939393" transform="rotate(-68 64.4 66.1)" opacity="0.6"/>
<ellipse cx="89.9" cy="18.8" rx="8.6" ry="0.7" fill="#7c7c7c" transform="rotate(-76.2 89.9 18.8)" opacity="0.6"/>
<ellipse cx="162.7" cy="20.5" rx="18.5" ry="1.6" fill="#9b9b9b" transform="rotate(-63.3 162.7 20.5)" opacity="0.6"/>
<ellipse cx="50.9" cy="114" rx="19.8" ry="1" fill="#7c7c7c" transform="rotate(-40.3 50.9 114)" opacity="0.6"/>
<ellipse cx="168.2" cy="49.8" rx="18.7" ry="1.2" fill="#979797" transform="rotate(-68 168.2 49.8)" opacity="0.6"/>
<ellipse cx="111.4" cy="131.1" rx="22.1" ry="0.8" fill="#9b9b9b" transform="rotate(-73.5 111.4 131.1)" opacity="0.6"/>
<ellipse cx="96.8" cy="16.7" rx="13.2" ry="1.3" fill="#939393" transform="rotate(-76.4 96.8 16.7)" opacity="0.6"/>
<ellipse cx="131.1" cy="74.6" rx="9.3" ry="0.9" fill="#979797" transform="rotate(-76.7 131.1 74.6)" opacity="0.6"/>
<ellipse cx="184.8" cy="1.6" rx="19.5" ry="1.9" fill="#939393" transform="rotate(-72.8 184.8 1.6)" opacity="0.6"/>
<ellipse cx="172.1" cy="74" rx="14.7" ry="1.9" fill="#7c7c7c" transform="rotate(-66.1 172.1 74)" opacity="0.6"/>
<ellipse cx="25.2" cy="168" rx="17.9" ry="1.9" fill="#939393" transform="rotate(-46.8 25.2 168)" opacity="0.6"/>
<ellipse cx="157.8" cy="117.5" rx="16" ry="0.8" fill="#7c7c7c" transform="rotate(-15.2 157.8 117.5)" opacity="0.6"/>
<ellipse cx="132.7" cy="78.4" rx="19.9" ry="1.1" fill="#787878" transform="rotate(-73.9 132.7 78.4)" opacity="0.6"/>
<ellipse cx="126.4" cy="152.9" rx="20.7" ry="1.3" fill="#979797" transform="rotate(-4.4 126.4 152.9)" opacity="0.6"/>
<ellipse cx="115.6" cy="41.1" rx="16.7" ry="0.8" fill="#979797" transform="rotate(-63.3 115.6 41.1)" opacity="0.6"/>
<ellipse cx="90" cy="180" rx="9.4" ry="2" fill="#979797" transform="rotate(-66.2 90 180)" opacity="0.6"/>
<ellipse cx="-4.8" cy="144" rx="20.5" ry="1.7" fill="#939393" transform="rotate(-54.9 -4.8 144)" opacity="0.6"/>
<ellipse cx="171.7" cy="140.4" rx="21.6" ry="1.4" fill="#7c7c7c" transform="rotate(-6.1 171.7 140.4)" opacity="0.6"/>
<ellipse cx="39.3" cy="177.1" rx="8.1" ry="1.3" fill="#9b9b9b" transform="rotate(-42.6 39.3 177.1)" opacity="0.6"/>
<ellipse cx="131.9" cy="88.8" rx="17" ry="1.8" fill="#7c7c7c" transform="rotate(-68.8 131.9 88.8)" opacity="0.6"/>
<ellipse cx="180.6" cy="111.7" rx="22.8" ry="1.8" fill="#7c7c7c" transform="rotate(-5.6 180.6 111.7)" opacity="0.6"/>
<ellipse cx="47" cy="88.7" rx="18.1" ry="1.8" fill="#757575" transform="rotate(-46.8 47 88.7)" opacity="0.6"/>
<ellipse cx="167.3" cy="144.3" rx="11.2" ry="1.8" fill="#979797" transform="rotate(-4.2 167.3 144.3)" opacity="0.6"/>
<ellipse cx="54.3" cy="75.1" rx="16.3" ry="1.9" fill="#979797" transform="rotate(-47.2 54.3 75.1)" opacity="0.6"/>
<ellipse cx="173.1" cy="147.6" rx="11.8" ry="1.2" fill="#757575" transform="rotate(-3.8 173.1 147.6)" opacity="0.6"/>
<ellipse cx="151.1" cy="111.4" rx="10.9" ry="0.7" fill="#757575" transform="rotate(-18.4 151.1 111.4)" opacity="0.6"/>
<ellipse cx="167.7" cy="31.9" rx="23.6" ry="1.3" fill="#939393" transform="rotate(-72.5 167.7 31.9)" opacity="0.6"/>
<ellipse cx="105.8" cy="165.6" rx="10.8" ry="1" fill="#979797" transform="rotate(-75.9 105.8 165.6)" opacity="0.6"/>
<ellipse cx="53.9" cy="167.4" rx="22.1" ry="1.9" fill="#9b9b9b" transform="rotate(-42.1 53.9 167.4)" opacity="0.6"/>
<ellipse cx="145.2" cy="42.9" rx="20.9" ry="0.7" fill="#979797" transform="rotate(-66.1 145.2 42.9)" opacity="0.6"/>
<ellipse cx="83.4" cy="192" rx="9.1" ry="1.6" fill="#9b9b9b" transform="rotate(-72.5 83.4 192)" opacity="0.6"/>
<ellipse cx="160.9" cy="10" rx="15.5" ry="1.4" fill="#787878" transform="rotate(-63.4 160.9 10)" opacity="0.6"/>
</g>
<g filter="url(#b0)">
<ellipse cx="36.3" cy="59.3" rx="3.2" ry="3" fill="#b9b9b9" stroke="#636363" stroke-width="1.2"/>
<ellipse cx="35.9" cy="58.7" rx="1.6" ry="1.6" fill="#e6e6e6" opacity="0.9"/>
<ellipse cx="29.2" cy="71.6" rx="6.1" ry="5.6" fill="#a0a0a0" opacity="0.9" stroke="#6a6a6a" stroke-width="1"/>
<ellipse cx="28" cy="70.3" rx="3.1" ry="2.7" fill="#bdbdbd" opacity="0.8"/>
<ellipse cx="99.9" cy="68.4" rx="1.7" ry="1.7" fill="#b9b9b9" stroke="#636363" stroke-width="1.2"/>
<ellipse cx="99.6" cy="68" rx="0.9" ry="0.9" fill="#e6e6e6" opacity="0.9"/>
<ellipse cx="35.7" cy="105.4" rx="3.5" ry="3.3" fill="#b9b9b9" stroke="#636363" stroke-width="1.2"/>
<ellipse cx="35.2" cy="104.7" rx="1.7" ry="1.7" fill="#e6e6e6" opacity="0.9"/>
<ellipse cx="171.9" cy="49.6" rx="3.6" ry="3.3" fill="#a0a0a0" opacity="0.9" stroke="#6a6a6a" stroke-width="1"/>
<ellipse cx="171.2" cy="48.8" rx="1.8" ry="1.6" fill="#bdbdbd" opacity="0.8"/>
<ellipse cx="141.4" cy="130.7" rx="3.6" ry="3.3" fill="#a0a0a0" opacity="0.9" stroke="#6a6a6a" stroke-width="1"/>
<ellipse cx="140.7" cy="129.9" rx="1.8" ry="1.6" fill="#bdbdbd" opacity="0.8"/>
<ellipse cx="151.2" cy="137.8" rx="4.1" ry="3.7" fill="#a0a0a0" opacity="0.9" stroke="#6a6a6a" stroke-width="1"/>
<ellipse cx="150.3" cy="136.9" rx="2" ry="1.8" fill="#bdbdbd" opacity="0.8"/>
<ellipse cx="120.7" cy="137.1" rx="5.5" ry="2.8" fill="#a4a4a4" transform="rotate(-50 120.7 137.1)" opacity="0.9" stroke="#6b6b6b" stroke-width="1"/>
<ellipse cx="150.5" cy="11.9" rx="5.5" ry="2.8" fill="#a4a4a4" transform="rotate(-50 150.5 11.9)" opacity="0.9" stroke="#6b6b6b" stroke-width="1"/>
<ellipse cx="77.9" cy="170.9" rx="2" ry="1.9" fill="#b9b9b9" stroke="#636363" stroke-width="1.2"/>
<ellipse cx="77.5" cy="170.5" rx="1" ry="1" fill="#e6e6e6" opacity="0.9"/>
<ellipse cx="67.5" cy="140.4" rx="2" ry="1.9" fill="#a0a0a0" opacity="0.9" stroke="#6a6a6a" stroke-width="1"/>
<ellipse cx="67.1" cy="139.9" rx="1" ry="0.9" fill="#bdbdbd" opacity="0.8"/>
<ellipse cx="5.2" cy="91.1" rx="1.7" ry="1.6" fill="#a0a0a0" opacity="0.9" stroke="#6a6a6a" stroke-width="1"/>
<ellipse cx="4.8" cy="90.7" rx="0.9" ry="0.8" fill="#bdbdbd" opacity="0.8"/>
<ellipse cx="119.4" cy="83.3" rx="2.3" ry="2.1" fill="#a0a0a0" opacity="0.9" stroke="#6a6a6a" stroke-width="1"/>
<ellipse cx="118.9" cy="82.8" rx="1.2" ry="1" fill="#bdbdbd" opacity="0.8"/>
<ellipse cx="76.6" cy="119.6" rx="2" ry="1.9" fill="#a0a0a0" opacity="0.9" stroke="#6a6a6a" stroke-width="1"/>
<ellipse cx="76.1" cy="119.2" rx="1" ry="0.9" fill="#bdbdbd" opacity="0.8"/>
</g>
<rect x="7.8" y="174.2" width="107.7" height="4.6" fill="#fff" stroke="none"/>
<text stroke="none" transform="translate(61.5,161.8) scale(0.76,1)" font-size="30" text-anchor="middle" fill="#fff">200µm</text>
</svg>
<svg x="880.1" y="1010.1" width="181.4" height="187.9" overflow="hidden" stroke="none">
<rect width="182.4" height="188.9" fill="#052614" stroke="none"/>
<rect x="-40" y="-40" width="262" height="268" fill="url(#vg)" stroke="none"/>
</svg>
<svg x="1073" y="1010.1" width="180.6" height="187.9" overflow="hidden" stroke="none">
<rect width="181.6" height="188.9" fill="#04190d" stroke="none"/>
<g id="rgc" fill="#dc2a1e">
<g filter="url(#b2)">
<ellipse cx="103.2" cy="94.5" rx="7.3" ry="3.8" transform="rotate(117.3 103.2 94.5)" opacity="0.28"/>
<ellipse cx="164.5" cy="15.1" rx="6.6" ry="4.9" transform="rotate(90.6 164.5 15.1)" opacity="0.29"/>
<ellipse cx="95.6" cy="55.9" rx="7.8" ry="4.9" transform="rotate(54.2 95.6 55.9)" opacity="0.2"/>
<ellipse cx="89.8" cy="2.3" rx="6.4" ry="5.2" transform="rotate(76.7 89.8 2.3)" opacity="0.27"/>
<ellipse cx="168" cy="77.9" rx="6.7" ry="3.4" transform="rotate(10.1 168 77.9)" opacity="0.29"/>
<ellipse cx="51.5" cy="18.5" rx="7.6" ry="5.2" transform="rotate(22.2 51.5 18.5)" opacity="0.2"/>
<ellipse cx="43.9" cy="26.8" rx="4" ry="4.6" transform="rotate(54.8 43.9 26.8)" opacity="0.21"/>
<ellipse cx="33.6" cy="6.9" rx="4.1" ry="5.6" transform="rotate(134.5 33.6 6.9)" opacity="0.23"/>
<ellipse cx="22.4" cy="10.8" rx="4.5" ry="3.9" transform="rotate(10.4 22.4 10.8)" opacity="0.19"/>
<ellipse cx="36.7" cy="15.9" rx="6.6" ry="4.4" transform="rotate(85.2 36.7 15.9)" opacity="0.2"/>
<ellipse cx="97.6" cy="130.8" rx="5.2" ry="3.2" transform="rotate(86.6 97.6 130.8)" opacity="0.21"/>
<ellipse cx="141.3" cy="7" rx="7.5" ry="3" transform="rotate(97.6 141.3 7)" opacity="0.22"/>
<ellipse cx="57.1" cy="157.6" rx="6.8" ry="3.5" transform="rotate(89.1 57.1 157.6)" opacity="0.24"/>
<ellipse cx="6.1" cy="4.9" rx="6.4" ry="5.2" transform="rotate(83.3 6.1 4.9)" opacity="0.21"/>
<ellipse cx="91.8" cy="25" rx="7.5" ry="5.9" transform="rotate(86.7 91.8 25)" opacity="0.16"/>
<ellipse cx="71.9" cy="135.3" rx="5.3" ry="3.3" transform="rotate(33.3 71.9 135.3)" opacity="0.25"/>
<ellipse cx="112.6" cy="28.8" rx="6.5" ry="5.3" transform="rotate(173.9 112.6 28.8)" opacity="0.27"/>
<ellipse cx="78.5" cy="136.9" rx="7.7" ry="5.6" transform="rotate(135.1 78.5 136.9)" opacity="0.24"/>
<ellipse cx="92.6" cy="147.4" rx="6.5" ry="5.2" transform="rotate(41 92.6 147.4)" opacity="0.17"/>
<ellipse cx="48.9" cy="83.8" rx="6.3" ry="3.6" transform="rotate(33.9 48.9 83.8)" opacity="0.29"/>
<ellipse cx="12.9" cy="167.6" rx="7.1" ry="4.7" transform="rotate(179.2 12.9 167.6)" opacity="0.25"/>
<ellipse cx="1.2" cy="171.1" rx="5.7" ry="5.7" transform="rotate(146.5 1.2 171.1)" opacity="0.17"/>
<ellipse cx="7.2" cy="0.6" rx="7.1" ry="5.4" transform="rotate(41 7.2 0.6)" opacity="0.17"/>
<ellipse cx="66.3" cy="134.4" rx="7" ry="5.6" transform="rotate(174.2 66.3 134.4)" opacity="0.26"/>
<ellipse cx="151.2" cy="0.4" rx="4" ry="5.6" transform="rotate(111.4 151.2 0.4)" opacity="0.2"/>
<ellipse cx="23.2" cy="36" rx="5.4" ry="4.5" transform="rotate(81 23.2 36)" opacity="0.18"/>
<ellipse cx="14.9" cy="17.2" rx="4.5" ry="3.3" transform="rotate(74.6 14.9 17.2)" opacity="0.17"/>
<ellipse cx="144.8" cy="75.6" rx="5.8" ry="4.9" transform="rotate(42.3 144.8 75.6)" opacity="0.16"/>
<ellipse cx="14.2" cy="36.8" rx="5.4" ry="3.8" transform="rotate(55.2 14.2 36.8)" opacity="0.27"/>
<ellipse cx="1.6" cy="56.6" rx="5.5" ry="3.8" transform="rotate(130.5 1.6 56.6)" opacity="0.19"/>
<ellipse cx="7.7" cy="12" rx="7.9" ry="4" transform="rotate(21.1 7.7 12)" opacity="0.29"/>
<ellipse cx="116.7" cy="175.9" rx="5.3" ry="5.4" transform="rotate(7.4 116.7 175.9)" opacity="0.19"/>
<ellipse cx="143.8" cy="69.7" rx="7.2" ry="4.2" transform="rotate(157.7 143.8 69.7)" opacity="0.16"/>
<ellipse cx="112.9" cy="15.4" rx="4.8" ry="5.6" transform="rotate(77.4 112.9 15.4)" opacity="0.27"/>
<ellipse cx="51.4" cy="117.3" rx="7.6" ry="4.9" transform="rotate(42.2 51.4 117.3)" opacity="0.25"/>
<ellipse cx="172.1" cy="134.8" rx="5.8" ry="4.2" transform="rotate(17.7 172.1 134.8)" opacity="0.26"/>
</g>
<g filter="url(#b09)">
<ellipse cx="28.6" cy="19.2" rx="1.5" ry="1.2" transform="rotate(69.1 28.6 19.2)" opacity="0.48"/>
<ellipse cx="31.7" cy="52" rx="2.9" ry="2.3" transform="rotate(24.4 31.7 52)" opacity="0.5"/>
<ellipse cx="163.6" cy="165.3" rx="2.5" ry="2" transform="rotate(157.3 163.6 165.3)" opacity="0.7"/>
<ellipse cx="162.8" cy="72.7" rx="2.7" ry="1.7" transform="rotate(142.3 162.8 72.7)" opacity="0.7"/>
<ellipse cx="89.3" cy="67.8" rx="2.5" ry="1.6" transform="rotate(97.9 89.3 67.8)" opacity="0.4"/>
<ellipse cx="82.9" cy="164.7" rx="2" ry="1.5" transform="rotate(54.8 82.9 164.7)" opacity="0.64"/>
<ellipse cx="54.9" cy="141.4" rx="4.7" ry="2.6" transform="rotate(144.8 54.9 141.4)" opacity="0.36"/>
<ellipse cx="81.5" cy="140.4" rx="2.4" ry="1.5" transform="rotate(156.8 81.5 140.4)" opacity="0.67"/>
<ellipse cx="63.5" cy="7.7" rx="1.6" ry="1.2" transform="rotate(98.5 63.5 7.7)" opacity="0.4"/>
<ellipse cx="149.1" cy="98.5" rx="3.7" ry="2.1" transform="rotate(59.1 149.1 98.5)" opacity="0.55"/>
<ellipse cx="63.5" cy="29.2" rx="2.2" ry="1.3" transform="rotate(162.1 63.5 29.2)" opacity="0.29"/>
<ellipse cx="129.7" cy="2.9" rx="2.5" ry="1.8" transform="rotate(162.5 129.7 2.9)" opacity="0.46"/>
<ellipse cx="92.4" cy="39.9" rx="2" ry="1.5" transform="rotate(11.2 92.4 39.9)" opacity="0.29"/>
<ellipse cx="99.6" cy="119.3" rx="3" ry="2.2" transform="rotate(177.9 99.6 119.3)" opacity="0.31"/>
<ellipse cx="78.1" cy="36.2" rx="2.6" ry="1.4" transform="rotate(128.7 78.1 36.2)" opacity="0.34"/>
<ellipse cx="32" cy="137" rx="2.4" ry="1.7" transform="rotate(53.4 32 137)" opacity="0.42"/>
<ellipse cx="106.6" cy="32.7" rx="2.5" ry="2.1" transform="rotate(96.3 106.6 32.7)" opacity="0.53"/>
<ellipse cx="57.9" cy="151.9" rx="4.3" ry="2.6" transform="rotate(74.1 57.9 151.9)" opacity="0.35"/>
<ellipse cx="113.2" cy="29.2" rx="2.1" ry="1.4" transform="rotate(36 113.2 29.2)" opacity="0.55"/>
<ellipse cx="137.5" cy="0.2" rx="2.8" ry="2.1" transform="rotate(60.7 137.5 0.2)" opacity="0.58"/>
<ellipse cx="174.7" cy="33.1" rx="3.3" ry="2.3" transform="rotate(169.3 174.7 33.1)" opacity="0.35"/>
<ellipse cx="120.3" cy="4.5" rx="3.4" ry="2" transform="rotate(164.4 120.3 4.5)" opacity="0.6"/>
<ellipse cx="99.5" cy="47.6" rx="3.5" ry="2.1" transform="rotate(110 99.5 47.6)" opacity="0.58"/>
<ellipse cx="134.9" cy="170.5" rx="3.8" ry="2.1" transform="rotate(133.3 134.9 170.5)" opacity="0.44"/>
<ellipse cx="145.3" cy="41.5" rx="4.4" ry="2.4" transform="rotate(161.4 145.3 41.5)" opacity="0.66"/>
<ellipse cx="125.3" cy="66.1" rx="2.6" ry="1.6" transform="rotate(160.7 125.3 66.1)" opacity="0.43"/>
<ellipse cx="38.1" cy="123.8" rx="3.4" ry="2.6" transform="rotate(25 38.1 123.8)" opacity="0.33"/>
<ellipse cx="99.9" cy="142.7" rx="2.6" ry="1.5" transform="rotate(8.4 99.9 142.7)" opacity="0.37"/>
<ellipse cx="99" cy="124.1" rx="3.2" ry="1.9" transform="rotate(64.7 99 124.1)" opacity="0.44"/>
<ellipse cx="94.3" cy="0" rx="2" ry="1.4" transform="rotate(118.2 94.3 0)" opacity="0.36"/>
<ellipse cx="44.1" cy="185.3" rx="3.2" ry="2.2" transform="rotate(140.9 44.1 185.3)" opacity="0.58"/>
<ellipse cx="147.9" cy="78.5" rx="2.6" ry="2.1" transform="rotate(77.2 147.9 78.5)" opacity="0.44"/>
<ellipse cx="46.3" cy="41.4" rx="3.4" ry="2.5" transform="rotate(20.5 46.3 41.4)" opacity="0.42"/>
<ellipse cx="30.6" cy="0.7" rx="4" ry="2.6" transform="rotate(4.8 30.6 0.7)" opacity="0.5"/>
<ellipse cx="31.5" cy="63.2" rx="4.9" ry="2.6" transform="rotate(71.6 31.5 63.2)" opacity="0.61"/>
<ellipse cx="89.2" cy="4.3" rx="3.1" ry="1.8" transform="rotate(140 89.2 4.3)" opacity="0.58"/>
<ellipse cx="178.8" cy="44.1" rx="3.9" ry="2.2" transform="rotate(166.4 178.8 44.1)" opacity="0.65"/>
<ellipse cx="158" cy="37.3" rx="2.8" ry="1.7" transform="rotate(21.6 158 37.3)" opacity="0.41"/>
<ellipse cx="67.1" cy="17.5" rx="2.3" ry="1.4" transform="rotate(55.7 67.1 17.5)" opacity="0.3"/>
<ellipse cx="144.4" cy="173" rx="2.4" ry="1.5" transform="rotate(15 144.4 173)" opacity="0.37"/>
<ellipse cx="29.7" cy="96.6" rx="3.5" ry="2" transform="rotate(118.7 29.7 96.6)" opacity="0.6"/>
<ellipse cx="158.3" cy="83.8" rx="1.9" ry="1.5" transform="rotate(154.2 158.3 83.8)" opacity="0.62"/>
<ellipse cx="116.9" cy="174.6" rx="3.5" ry="2.4" transform="rotate(33.5 116.9 174.6)" opacity="0.46"/>
<ellipse cx="166" cy="157.6" rx="1.3" ry="1.1" transform="rotate(80.4 166 157.6)" opacity="0.66"/>
<ellipse cx="159" cy="143.8" rx="1.6" ry="1.2" transform="rotate(139.3 159 143.8)" opacity="0.46"/>
<ellipse cx="57.8" cy="177" rx="1.7" ry="1.1" transform="rotate(158.8 57.8 177)" opacity="0.57"/>
<ellipse cx="160.8" cy="26.7" rx="3.8" ry="2" transform="rotate(23.8 160.8 26.7)" opacity="0.46"/>
<ellipse cx="179.4" cy="12.1" rx="4" ry="2.4" transform="rotate(46.4 179.4 12.1)" opacity="0.7"/>
<ellipse cx="141.3" cy="9" rx="4.9" ry="2.7" transform="rotate(86.3 141.3 9)" opacity="0.29"/>
<ellipse cx="142" cy="84.1" rx="2.8" ry="2.3" transform="rotate(86.3 142 84.1)" opacity="0.62"/>
<ellipse cx="131.8" cy="13.6" rx="2.5" ry="1.6" transform="rotate(82.7 131.8 13.6)" opacity="0.7"/>
<ellipse cx="169" cy="0" rx="2.7" ry="2.1" transform="rotate(155.6 169 0)" opacity="0.5"/>
<ellipse cx="162.5" cy="162.9" rx="3.4" ry="2.6" transform="rotate(11.6 162.5 162.9)" opacity="0.6"/>
<ellipse cx="84.2" cy="128.9" rx="2.7" ry="1.8" transform="rotate(132.1 84.2 128.9)" opacity="0.43"/>
<ellipse cx="89.8" cy="47.2" rx="2.7" ry="2.2" transform="rotate(83.2 89.8 47.2)" opacity="0.52"/>
<ellipse cx="124" cy="161.1" rx="3.2" ry="1.7" transform="rotate(126.5 124 161.1)" opacity="0.44"/>
<ellipse cx="101.7" cy="41" rx="2.6" ry="2.2" transform="rotate(161.5 101.7 41)" opacity="0.43"/>
<ellipse cx="2.1" cy="4.7" rx="2.3" ry="1.7" transform="rotate(150.8 2.1 4.7)" opacity="0.44"/>
<ellipse cx="165.9" cy="27.6" rx="3.1" ry="1.7" transform="rotate(154.6 165.9 27.6)" opacity="0.67"/>
<ellipse cx="20.7" cy="3.4" rx="3.1" ry="2.2" transform="rotate(18.9 20.7 3.4)" opacity="0.32"/>
<ellipse cx="58.4" cy="32.5" rx="4.1" ry="2.2" transform="rotate(30.4 58.4 32.5)" opacity="0.61"/>
<ellipse cx="107.6" cy="151.7" rx="4.9" ry="2.7" transform="rotate(23.7 107.6 151.7)" opacity="0.59"/>
<ellipse cx="140.1" cy="44.1" rx="2" ry="1.2" transform="rotate(113 140.1 44.1)" opacity="0.6"/>
<ellipse cx="136.8" cy="118.5" rx="2.2" ry="1.2" transform="rotate(172 136.8 118.5)" opacity="0.43"/>
<ellipse cx="142.2" cy="170.8" rx="2.5" ry="1.8" transform="rotate(108.3 142.2 170.8)" opacity="0.61"/>
<ellipse cx="74.7" cy="109.8" rx="3.8" ry="2.6" transform="rotate(163.8 74.7 109.8)" opacity="0.34"/>
<ellipse cx="107.4" cy="143" rx="2.4" ry="1.8" transform="rotate(50 107.4 143)" opacity="0.43"/>
<ellipse cx="70.7" cy="50.1" rx="2.4" ry="1.5" transform="rotate(40 70.7 50.1)" opacity="0.39"/>
<ellipse cx="84.2" cy="163.3" rx="2" ry="1.5" transform="rotate(139.5 84.2 163.3)" opacity="0.53"/>
<ellipse cx="21.8" cy="180.4" rx="2.3" ry="1.4" transform="rotate(42.9 21.8 180.4)" opacity="0.63"/>
<ellipse cx="67" cy="93.8" rx="4" ry="2.4" transform="rotate(55.9 67 93.8)" opacity="0.41"/>
<ellipse cx="105.5" cy="71.6" rx="2.8" ry="2.3" transform="rotate(11.6 105.5 71.6)" opacity="0.28"/>
<ellipse cx="145.7" cy="13.7" rx="3.5" ry="2.3" transform="rotate(171.8 145.7 13.7)" opacity="0.55"/>
<ellipse cx="153.1" cy="6" rx="3.7" ry="2.5" transform="rotate(7.6 153.1 6)" opacity="0.64"/>
<ellipse cx="42.3" cy="99.2" rx="1.7" ry="1.1" transform="rotate(83.7 42.3 99.2)" opacity="0.47"/>
<ellipse cx="149.6" cy="29" rx="3.3" ry="2.6" transform="rotate(174.2 149.6 29)" opacity="0.4"/>
<ellipse cx="122.8" cy="168.8" rx="3.9" ry="2.2" transform="rotate(15.7 122.8 168.8)" opacity="0.69"/>
<ellipse cx="7.4" cy="104.5" rx="4.2" ry="2.4" transform="rotate(130.9 7.4 104.5)" opacity="0.53"/>
<ellipse cx="178.7" cy="20" rx="4.5" ry="2.6" transform="rotate(34.5 178.7 20)" opacity="0.47"/>
<ellipse cx="78.9" cy="10.8" rx="4.4" ry="2.5" transform="rotate(135.2 78.9 10.8)" opacity="0.29"/>
<ellipse cx="132.1" cy="168.1" rx="4.2" ry="2.3" transform="rotate(172.8 132.1 168.1)" opacity="0.58"/>
<ellipse cx="134.3" cy="31.3" rx="3.3" ry="2.4" transform="rotate(47.8 134.3 31.3)" opacity="0.42"/>
<ellipse cx="55.9" cy="1.4" rx="1.8" ry="1.3" transform="rotate(39 55.9 1.4)" opacity="0.29"/>
<ellipse cx="133.2" cy="141" rx="2.8" ry="1.6" transform="rotate(156.4 133.2 141)" opacity="0.29"/>
<ellipse cx="103.7" cy="85.1" rx="2.5" ry="1.4" transform="rotate(144.9 103.7 85.1)" opacity="0.51"/>
<ellipse cx="40" cy="57.4" rx="3.2" ry="2.7"/>
<ellipse cx="34.2" cy="69" rx="2.3" ry="2" opacity="0.9"/>
<ellipse cx="98" cy="56.8" rx="2" ry="1.7" opacity="0.9"/>
<ellipse cx="138.6" cy="113.9" rx="2.3" ry="2" opacity="0.9"/>
<ellipse cx="66.7" cy="128.4" rx="2.3" ry="2"/>
<ellipse cx="70.4" cy="144.3" rx="2" ry="1.7" opacity="0.9"/>
<ellipse cx="113.9" cy="87.8" rx="2" ry="1.7" opacity="0.8"/>
<ellipse cx="170.4" cy="47.2" rx="2.3" ry="2" opacity="0.7"/>
<ellipse cx="79.1" cy="121.2" rx="1.4" ry="1.2" opacity="0.8"/>
<ellipse cx="86.4" cy="160.3" rx="1.4" ry="1.2" opacity="0.7"/>
<ellipse cx="42.9" cy="167.5" rx="1.7" ry="1.5" opacity="0.6"/>
<ellipse cx="150.1" cy="135.7" rx="2" ry="1.7" opacity="0.6"/>
<ellipse cx="111" cy="31.3" rx="1.7" ry="1.5" opacity="0.8"/>
<ellipse cx="89.3" cy="16.8" rx="2" ry="1.7" opacity="0.7"/>
<ellipse cx="137.1" cy="44.3" rx="1.7" ry="1.5" opacity="0.7"/>
</g>
</g>
</svg>
<svg x="1267.5" y="1010.1" width="181.5" height="187.9" overflow="hidden" stroke="none">
<rect width="182.5" height="188.9" fill="#0b2c17" stroke="none"/>
<use href="#rgc" opacity="0.9"/>
<rect x="-40" y="-40" width="262" height="268" fill="url(#vg)" stroke="none"/>
</svg>
<svg x="684.5" y="1204.3" width="183.2" height="179.2" overflow="hidden" stroke="none">
<rect width="184.2" height="180.2" fill="#878787" stroke="none"/>
<rect width="184.2" height="180.2" filter="url(#nz)" opacity="0.12"/>
<rect width="184.2" height="180.2" filter="url(#nz2)" opacity="0.07"/>
<g filter="url(#b1)">
<ellipse cx="50.1" cy="29.1" rx="14" ry="1.5" fill="#757575" transform="rotate(-55.6 50.1 29.1)" opacity="0.6"/>
<ellipse cx="142.1" cy="80.5" rx="8.7" ry="1.1" fill="#979797" transform="rotate(-69.1 142.1 80.5)" opacity="0.6"/>
<ellipse cx="138.8" cy="89.2" rx="11.6" ry="1" fill="#787878" transform="rotate(-66.4 138.8 89.2)" opacity="0.6"/>
<ellipse cx="70.3" cy="145.2" rx="17" ry="1.7" fill="#939393" transform="rotate(-40.5 70.3 145.2)" opacity="0.6"/>
<ellipse cx="68.2" cy="162.7" rx="12.3" ry="1.4" fill="#979797" transform="rotate(-28.4 68.2 162.7)" opacity="0.6"/>
<ellipse cx="-2.6" cy="177.1" rx="12.7" ry="1.3" fill="#787878" transform="rotate(-59.1 -2.6 177.1)" opacity="0.6"/>
<ellipse cx="142.9" cy="24.2" rx="15.1" ry="1.7" fill="#757575" transform="rotate(-65.9 142.9 24.2)" opacity="0.6"/>
<ellipse cx="140.6" cy="166.2" rx="16.1" ry="0.9" fill="#7c7c7c" transform="rotate(-35.6 140.6 166.2)" opacity="0.6"/>
<ellipse cx="125.4" cy="175" rx="18" ry="2" fill="#979797" transform="rotate(-36.5 125.4 175)" opacity="0.6"/>
<ellipse cx="153.9" cy="37.1" rx="9.4" ry="1.7" fill="#787878" transform="rotate(-68 153.9 37.1)" opacity="0.6"/>
<ellipse cx="119" cy="157.9" rx="19.3" ry="1.9" fill="#757575" transform="rotate(-30.1 119 157.9)" opacity="0.6"/>
<ellipse cx="176.9" cy="10.4" rx="10.1" ry="2" fill="#787878" transform="rotate(-61.8 176.9 10.4)" opacity="0.6"/>
<ellipse cx="180.1" cy="55.9" rx="17.3" ry="1.5" fill="#7c7c7c" transform="rotate(-62.6 180.1 55.9)" opacity="0.6"/>
<ellipse cx="66.7" cy="154.4" rx="10.4" ry="1.2" fill="#979797" transform="rotate(-27.9 66.7 154.4)" opacity="0.6"/>
<ellipse cx="111.8" cy="123" rx="10" ry="1.8" fill="#757575" transform="rotate(-27.2 111.8 123)" opacity="0.6"/>
<ellipse cx="139" cy="42.7" rx="11.1" ry="1.7" fill="#7c7c7c" transform="rotate(-68.7 139 42.7)" opacity="0.6"/>
<ellipse cx="37.2" cy="130.8" rx="19.5" ry="1.1" fill="#787878" transform="rotate(-51.1 37.2 130.8)" opacity="0.6"/>
<ellipse cx="186.3" cy="30.8" rx="22.8" ry="1.7" fill="#787878" transform="rotate(-72.5 186.3 30.8)" opacity="0.6"/>
<ellipse cx="81.4" cy="67.2" rx="10.1" ry="1.2" fill="#787878" transform="rotate(-38.5 81.4 67.2)" opacity="0.6"/>
<ellipse cx="179.3" cy="62.7" rx="15.6" ry="1.2" fill="#939393" transform="rotate(-65 179.3 62.7)" opacity="0.6"/>
<ellipse cx="82.2" cy="19.5" rx="16.6" ry="0.8" fill="#787878" transform="rotate(-30.7 82.2 19.5)" opacity="0.6"/>
<ellipse cx="40.7" cy="143.9" rx="22.2" ry="1.6" fill="#787878" transform="rotate(-57.3 40.7 143.9)" opacity="0.6"/>
<ellipse cx="172.3" cy="32.9" rx="15" ry="1.5" fill="#979797" transform="rotate(-66.4 172.3 32.9)" opacity="0.6"/>
<ellipse cx="116.1" cy="8.3" rx="23.1" ry="0.9" fill="#757575" transform="rotate(-12.9 116.1 8.3)" opacity="0.6"/>
<ellipse cx="118.2" cy="74.7" rx="14.2" ry="0.7" fill="#757575" transform="rotate(-11.6 118.2 74.7)" opacity="0.6"/>
<ellipse cx="177.3" cy="37.9" rx="18" ry="1.9" fill="#7c7c7c" transform="rotate(-65.6 177.3 37.9)" opacity="0.6"/>
<ellipse cx="46" cy="106.7" rx="11.2" ry="1.7" fill="#7c7c7c" transform="rotate(-55.8 46 106.7)" opacity="0.6"/>
<ellipse cx="23.8" cy="79.2" rx="22.6" ry="1.9" fill="#939393" transform="rotate(-67 23.8 79.2)" opacity="0.6"/>
<ellipse cx="28.9" cy="139" rx="14.5" ry="1.4" fill="#979797" transform="rotate(-67.7 28.9 139)" opacity="0.6"/>
<ellipse cx="34.6" cy="157.5" rx="19.4" ry="2" fill="#757575" transform="rotate(-66.2 34.6 157.5)" opacity="0.6"/>
<ellipse cx="187.3" cy="45.8" rx="22.6" ry="1" fill="#9b9b9b" transform="rotate(-69.5 187.3 45.8)" opacity="0.6"/>
<ellipse cx="129.1" cy="158.4" rx="17.2" ry="1.6" fill="#939393" transform="rotate(-26.9 129.1 158.4)" opacity="0.6"/>
<ellipse cx="41.1" cy="138" rx="20" ry="1.9" fill="#9b9b9b" transform="rotate(-57.9 41.1 138)" opacity="0.6"/>
<ellipse cx="150.2" cy="84.6" rx="9" ry="0.8" fill="#979797" transform="rotate(-76 150.2 84.6)" opacity="0.6"/>
<ellipse cx="135.1" cy="126.6" rx="22" ry="1.4" fill="#939393" transform="rotate(-30.1 135.1 126.6)" opacity="0.6"/>
<ellipse cx="79" cy="59.9" rx="12.2" ry="1.4" fill="#7c7c7c" transform="rotate(-34.2 79 59.9)" opacity="0.6"/>
<ellipse cx="26.2" cy="28.6" rx="9.4" ry="1.3" fill="#939393" transform="rotate(-60.8 26.2 28.6)" opacity="0.6"/>
<ellipse cx="131.1" cy="130.5" rx="20.9" ry="1.1" fill="#939393" transform="rotate(-29.7 131.1 130.5)" opacity="0.6"/>
<ellipse cx="16.3" cy="-3" rx="11.9" ry="1.3" fill="#9b9b9b" transform="rotate(-65.5 16.3 -3)" opacity="0.6"/>
<ellipse cx="50.7" cy="26.7" rx="19.8" ry="1.5" fill="#7c7c7c" transform="rotate(-51.1 50.7 26.7)" opacity="0.6"/>
<ellipse cx="174.2" cy="54" rx="9.4" ry="1.8" fill="#939393" transform="rotate(-61.6 174.2 54)" opacity="0.6"/>
<ellipse cx="87.5" cy="128.7" rx="10.7" ry="1.8" fill="#939393" transform="rotate(-28.9 87.5 128.7)" opacity="0.6"/>
<ellipse cx="55.2" cy="13.5" rx="23.9" ry="1.6" fill="#7c7c7c" transform="rotate(-53.1 55.2 13.5)" opacity="0.6"/>
<ellipse cx="187.2" cy="176.8" rx="13" ry="1.1" fill="#757575" transform="rotate(-35.3 187.2 176.8)" opacity="0.6"/>
<ellipse cx="47.6" cy="130.6" rx="20.1" ry="1.4" fill="#787878" transform="rotate(-66.9 47.6 130.6)" opacity="0.6"/>
<ellipse cx="186.2" cy="33.4" rx="11" ry="1.7" fill="#7c7c7c" transform="rotate(-77.8 186.2 33.4)" opacity="0.6"/>
<ellipse cx="114.6" cy="160.7" rx="9.1" ry="1.9" fill="#757575" transform="rotate(-30.2 114.6 160.7)" opacity="0.6"/>
<ellipse cx="175.1" cy="94.7" rx="11.5" ry="0.8" fill="#787878" transform="rotate(-65.2 175.1 94.7)" opacity="0.6"/>
<ellipse cx="92.9" cy="29.1" rx="12.9" ry="1" fill="#787878" transform="rotate(-32.8 92.9 29.1)" opacity="0.6"/>
<ellipse cx="132.6" cy="17.6" rx="11.6" ry="1.4" fill="#757575" transform="rotate(-75.3 132.6 17.6)" opacity="0.6"/>
<ellipse cx="162.7" cy="169" rx="16.3" ry="1.5" fill="#939393" transform="rotate(-37.5 162.7 169)" opacity="0.6"/>
<ellipse cx="133.5" cy="139.1" rx="21.6" ry="1.2" fill="#9b9b9b" transform="rotate(-39.2 133.5 139.1)" opacity="0.6"/>
<ellipse cx="57.1" cy="6.5" rx="8.4" ry="1.5" fill="#757575" transform="rotate(-46.9 57.1 6.5)" opacity="0.6"/>
<ellipse cx="38.6" cy="115.7" rx="12.3" ry="0.9" fill="#9b9b9b" transform="rotate(-64.8 38.6 115.7)" opacity="0.6"/>
<ellipse cx="86.2" cy="68.8" rx="21.3" ry="1.6" fill="#7c7c7c" transform="rotate(-36.3 86.2 68.8)" opacity="0.6"/>
<ellipse cx="138.4" cy="16" rx="18.9" ry="1.8" fill="#939393" transform="rotate(-75.4 138.4 16)" opacity="0.6"/>
<ellipse cx="118" cy="184.1" rx="19.9" ry="1.4" fill="#939393" transform="rotate(-39 118 184.1)" opacity="0.6"/>
<ellipse cx="120.3" cy="11.3" rx="13.9" ry="1.1" fill="#939393" transform="rotate(-13.5 120.3 11.3)" opacity="0.6"/>
<ellipse cx="130.6" cy="163.1" rx="9.7" ry="0.8" fill="#979797" transform="rotate(-39.1 130.6 163.1)" opacity="0.6"/>
<ellipse cx="51.4" cy="34.9" rx="16.7" ry="2" fill="#939393" transform="rotate(-68.1 51.4 34.9)" opacity="0.6"/>
<ellipse cx="3.9" cy="151.7" rx="17.5" ry="1.7" fill="#7c7c7c" transform="rotate(-64.9 3.9 151.7)" opacity="0.6"/>
<ellipse cx="47.6" cy="2" rx="23.3" ry="1.6" fill="#787878" transform="rotate(-63.3 47.6 2)" opacity="0.6"/>
<ellipse cx="48.3" cy="64.2" rx="12.5" ry="1.2" fill="#9b9b9b" transform="rotate(-55.5 48.3 64.2)" opacity="0.6"/>
<ellipse cx="47.9" cy="136.1" rx="10.7" ry="1.9" fill="#7c7c7c" transform="rotate(-67.1 47.9 136.1)" opacity="0.6"/>
<ellipse cx="74.6" cy="177.2" rx="19.7" ry="1" fill="#9b9b9b" transform="rotate(-27.9 74.6 177.2)" opacity="0.6"/>
<ellipse cx="179.5" cy="121.6" rx="14.9" ry="1.2" fill="#757575" transform="rotate(-33.5 179.5 121.6)" opacity="0.6"/>
<ellipse cx="57.3" cy="128.9" rx="23.3" ry="1.3" fill="#939393" transform="rotate(-26.4 57.3 128.9)" opacity="0.6"/>
<ellipse cx="21.8" cy="177.9" rx="8.6" ry="1.9" fill="#939393" transform="rotate(-59.4 21.8 177.9)" opacity="0.6"/>
<ellipse cx="37.2" cy="16" rx="14.6" ry="1" fill="#979797" transform="rotate(-57.4 37.2 16)" opacity="0.6"/>
<ellipse cx="129.5" cy="161.9" rx="11.8" ry="1.1" fill="#979797" transform="rotate(-39.1 129.5 161.9)" opacity="0.6"/>
<ellipse cx="42.7" cy="65" rx="22.1" ry="1.6" fill="#9b9b9b" transform="rotate(-51.1 42.7 65)" opacity="0.6"/>
<ellipse cx="85" cy="25.1" rx="17.2" ry="0.8" fill="#939393" transform="rotate(-36.8 85 25.1)" opacity="0.6"/>
<ellipse cx="23.1" cy="85.1" rx="9.5" ry="2" fill="#787878" transform="rotate(-56.5 23.1 85.1)" opacity="0.6"/>
<ellipse cx="75.3" cy="-1" rx="17" ry="1.2" fill="#939393" transform="rotate(-37.5 75.3 -1)" opacity="0.6"/>
<ellipse cx="8.6" cy="156.5" rx="18.9" ry="1" fill="#979797" transform="rotate(-64.3 8.6 156.5)" opacity="0.6"/>
<ellipse cx="73.8" cy="15.2" rx="23.2" ry="0.9" fill="#939393" transform="rotate(-41.6 73.8 15.2)" opacity="0.6"/>
<ellipse cx="30.6" cy="83.2" rx="9.8" ry="1.9" fill="#9b9b9b" transform="rotate(-60.3 30.6 83.2)" opacity="0.6"/>
<ellipse cx="38.9" cy="1.9" rx="11.6" ry="1.3" fill="#979797" transform="rotate(-51.1 38.9 1.9)" opacity="0.6"/>
<ellipse cx="100.2" cy="-2" rx="17.9" ry="1.2" fill="#7c7c7c" transform="rotate(-31.3 100.2 -2)" opacity="0.6"/>
<ellipse cx="156.1" cy="137.3" rx="14" ry="1.4" fill="#939393" transform="rotate(-30 156.1 137.3)" opacity="0.6"/>
<ellipse cx="47.4" cy="109.6" rx="21.3" ry="1.3" fill="#757575" transform="rotate(-61.9 47.4 109.6)" opacity="0.6"/>
<ellipse cx="184.9" cy="27.4" rx="22.6" ry="1" fill="#979797" transform="rotate(-68.9 184.9 27.4)" opacity="0.6"/>
<ellipse cx="47.5" cy="177.8" rx="19.9" ry="1.9" fill="#939393" transform="rotate(-53.9 47.5 177.8)" opacity="0.6"/>
<ellipse cx="8.9" cy="160.9" rx="23" ry="1.4" fill="#979797" transform="rotate(-66.3 8.9 160.9)" opacity="0.6"/>
<ellipse cx="121.7" cy="37.3" rx="20.8" ry="1.5" fill="#9b9b9b" transform="rotate(-15.8 121.7 37.3)" opacity="0.6"/>
<ellipse cx="35.2" cy="121" rx="18" ry="1" fill="#7c7c7c" transform="rotate(-67.6 35.2 121)" opacity="0.6"/>
<ellipse cx="135.9" cy="159.1" rx="23" ry="1.2" fill="#7c7c7c" transform="rotate(-30.4 135.9 159.1)" opacity="0.6"/>
<ellipse cx="83.8" cy="4.2" rx="18.1" ry="0.8" fill="#9b9b9b" transform="rotate(-42.2 83.8 4.2)" opacity="0.6"/>
<ellipse cx="115.3" cy="99.7" rx="8.5" ry="1" fill="#757575" transform="rotate(-26.8 115.3 99.7)" opacity="0.6"/>
<ellipse cx="62.3" cy="42.1" rx="12.6" ry="0.9" fill="#757575" transform="rotate(-43.8 62.3 42.1)" opacity="0.6"/>
<ellipse cx="141.2" cy="16.6" rx="21.1" ry="1.2" fill="#9b9b9b" transform="rotate(-65.1 141.2 16.6)" opacity="0.6"/>
<ellipse cx="183.3" cy="73.4" rx="18.1" ry="1.8" fill="#787878" transform="rotate(-64.1 183.3 73.4)" opacity="0.6"/>
<ellipse cx="144.1" cy="88" rx="12.9" ry="0.9" fill="#787878" transform="rotate(-62.4 144.1 88)" opacity="0.6"/>
<ellipse cx="47.3" cy="33.3" rx="9.5" ry="1.7" fill="#757575" transform="rotate(-54.3 47.3 33.3)" opacity="0.6"/>
<ellipse cx="79.9" cy="169.5" rx="16.7" ry="1.6" fill="#979797" transform="rotate(-34 79.9 169.5)" opacity="0.6"/>
<ellipse cx="-2.8" cy="40" rx="23.5" ry="1.1" fill="#939393" transform="rotate(-52.6 -2.8 40)" opacity="0.6"/>
<ellipse cx="155.8" cy="10.1" rx="20.9" ry="2" fill="#939393" transform="rotate(-78.2 155.8 10.1)" opacity="0.6"/>
<ellipse cx="88.2" cy="119.4" rx="14.4" ry="1.8" fill="#939393" transform="rotate(-28.9 88.2 119.4)" opacity="0.6"/>
<ellipse cx="-2.3" cy="8.5" rx="15.4" ry="2" fill="#979797" transform="rotate(-62.1 -2.3 8.5)" opacity="0.6"/>
<ellipse cx="60.2" cy="64.6" rx="16.8" ry="0.7" fill="#757575" transform="rotate(-51.2 60.2 64.6)" opacity="0.6"/>
<ellipse cx="166.3" cy="62.7" rx="11.5" ry="1" fill="#979797" transform="rotate(-62.8 166.3 62.7)" opacity="0.6"/>
<ellipse cx="145.4" cy="126.1" rx="18" ry="1.4" fill="#9b9b9b" transform="rotate(-35.2 145.4 126.1)" opacity="0.6"/>
<ellipse cx="176.3" cy="15" rx="13.7" ry="1.7" fill="#7c7c7c" transform="rotate(-76.6 176.3 15)" opacity="0.6"/>
<ellipse cx="176.6" cy="95.4" rx="21.4" ry="0.9" fill="#757575" transform="rotate(-62.6 176.6 95.4)" opacity="0.6"/>
<ellipse cx="86.1" cy="26.2" rx="18.7" ry="1.5" fill="#7c7c7c" transform="rotate(-32.8 86.1 26.2)" opacity="0.6"/>
<ellipse cx="136.6" cy="77.1" rx="22.6" ry="1.3" fill="#939393" transform="rotate(-65.2 136.6 77.1)" opacity="0.6"/>
<ellipse cx="140.8" cy="90.2" rx="20.2" ry="1.4" fill="#979797" transform="rotate(-66.7 140.8 90.2)" opacity="0.6"/>
<ellipse cx="5" cy="90.2" rx="22.7" ry="0.8" fill="#939393" transform="rotate(-53.4 5 90.2)" opacity="0.6"/>
<ellipse cx="151.8" cy="35.4" rx="13.4" ry="1.4" fill="#939393" transform="rotate(-70.6 151.8 35.4)" opacity="0.6"/>
<ellipse cx="6.1" cy="168.4" rx="18.7" ry="1.6" fill="#787878" transform="rotate(-60.1 6.1 168.4)" opacity="0.6"/>
<ellipse cx="170.9" cy="2.8" rx="20.7" ry="1.4" fill="#9b9b9b" transform="rotate(-78.3 170.9 2.8)" opacity="0.6"/>
<ellipse cx="34.4" cy="14.1" rx="20.3" ry="1.6" fill="#787878" transform="rotate(-52.2 34.4 14.1)" opacity="0.6"/>
<ellipse cx="0.1" cy="65.3" rx="15.2" ry="1.6" fill="#9b9b9b" transform="rotate(-68.1 0.1 65.3)" opacity="0.6"/>
<ellipse cx="24.6" cy="129.5" rx="16.8" ry="1.1" fill="#7c7c7c" transform="rotate(-67 24.6 129.5)" opacity="0.6"/>
<ellipse cx="147" cy="129.8" rx="9.6" ry="0.9" fill="#979797" transform="rotate(-40.4 147 129.8)" opacity="0.6"/>
<ellipse cx="116.1" cy="105.5" rx="20.9" ry="0.9" fill="#787878" transform="rotate(-14.5 116.1 105.5)" opacity="0.6"/>
<ellipse cx="134.7" cy="164.6" rx="18.6" ry="0.9" fill="#979797" transform="rotate(-26.8 134.7 164.6)" opacity="0.6"/>
<ellipse cx="42.8" cy="21.9" rx="23.2" ry="1.8" fill="#9b9b9b" transform="rotate(-67.6 42.8 21.9)" opacity="0.6"/>
<ellipse cx="129.1" cy="47.7" rx="23.8" ry="1.2" fill="#979797" transform="rotate(-10.7 129.1 47.7)" opacity="0.6"/>
<ellipse cx="43.2" cy="168.5" rx="19.4" ry="2" fill="#979797" transform="rotate(-54.7 43.2 168.5)" opacity="0.6"/>
<ellipse cx="53.8" cy="-4.9" rx="19.8" ry="1" fill="#757575" transform="rotate(-57.1 53.8 -4.9)" opacity="0.6"/>
<ellipse cx="175.8" cy="152" rx="9.9" ry="0.9" fill="#757575" transform="rotate(-35.9 175.8 152)" opacity="0.6"/>
<ellipse cx="51.8" cy="132.7" rx="15.9" ry="1.8" fill="#7c7c7c" transform="rotate(-59.6 51.8 132.7)" opacity="0.6"/>
<ellipse cx="166.2" cy="65.6" rx="15" ry="1.7" fill="#939393" transform="rotate(-62.5 166.2 65.6)" opacity="0.6"/>
<ellipse cx="133.9" cy="0.4" rx="14.8" ry="1.9" fill="#787878" transform="rotate(-62.3 133.9 0.4)" opacity="0.6"/>
<ellipse cx="157.3" cy="81.3" rx="19.7" ry="0.7" fill="#757575" transform="rotate(-73.8 157.3 81.3)" opacity="0.6"/>
<ellipse cx="104.6" cy="140" rx="22.6" ry="1.2" fill="#939393" transform="rotate(-34.3 104.6 140)" opacity="0.6"/>
<ellipse cx="97.4" cy="21.9" rx="11.2" ry="0.8" fill="#979797" transform="rotate(-22.4 97.4 21.9)" opacity="0.6"/>
<ellipse cx="91.1" cy="57.7" rx="22.4" ry="1.6" fill="#787878" transform="rotate(-35.5 91.1 57.7)" opacity="0.6"/>
<ellipse cx="69.2" cy="28.9" rx="14.6" ry="1.6" fill="#939393" transform="rotate(-36.2 69.2 28.9)" opacity="0.6"/>
<ellipse cx="69.4" cy="153" rx="16.1" ry="0.9" fill="#7c7c7c" transform="rotate(-37.9 69.4 153)" opacity="0.6"/>
<ellipse cx="144.9" cy="164.4" rx="19.4" ry="1.4" fill="#939393" transform="rotate(-28.5 144.9 164.4)" opacity="0.6"/>
<ellipse cx="21.3" cy="109.4" rx="14.5" ry="1.7" fill="#787878" transform="rotate(-62.5 21.3 109.4)" opacity="0.6"/>
<ellipse cx="179.9" cy="94.5" rx="18.4" ry="1.6" fill="#979797" transform="rotate(-68.7 179.9 94.5)" opacity="0.6"/>
<ellipse cx="129.7" cy="-3" rx="23.5" ry="1.7" fill="#979797" transform="rotate(-12.8 129.7 -3)" opacity="0.6"/>
<ellipse cx="117.7" cy="-3.6" rx="17.7" ry="1.7" fill="#979797" transform="rotate(-27.1 117.7 -3.6)" opacity="0.6"/>
<ellipse cx="125.1" cy="147.6" rx="15.6" ry="1.9" fill="#757575" transform="rotate(-27.4 125.1 147.6)" opacity="0.6"/>
<ellipse cx="29" cy="100.6" rx="12.7" ry="0.8" fill="#979797" transform="rotate(-64.8 29 100.6)" opacity="0.6"/>
<ellipse cx="120.4" cy="163.1" rx="22.9" ry="1.5" fill="#757575" transform="rotate(-37.6 120.4 163.1)" opacity="0.6"/>
<ellipse cx="117.4" cy="52" rx="16.4" ry="1.4" fill="#9b9b9b" transform="rotate(-13.6 117.4 52)" opacity="0.6"/>
<ellipse cx="64" cy="128.4" rx="14.2" ry="1.4" fill="#787878" transform="rotate(-35.6 64 128.4)" opacity="0.6"/>
<ellipse cx="182.9" cy="26.6" rx="17.1" ry="1.9" fill="#757575" transform="rotate(-73 182.9 26.6)" opacity="0.6"/>
<ellipse cx="48.6" cy="32.9" rx="15.7" ry="0.7" fill="#787878" transform="rotate(-64.1 48.6 32.9)" opacity="0.6"/>
<ellipse cx="31" cy="170.6" rx="18.7" ry="1.2" fill="#787878" transform="rotate(-65.4 31 170.6)" opacity="0.6"/>
<ellipse cx="37.1" cy="110.1" rx="15.5" ry="0.8" fill="#979797" transform="rotate(-55.8 37.1 110.1)" opacity="0.6"/>
<ellipse cx="147.2" cy="77.8" rx="16.5" ry="1.9" fill="#979797" transform="rotate(-78.6 147.2 77.8)" opacity="0.6"/>
<ellipse cx="109.7" cy="182.1" rx="23.8" ry="1.8" fill="#757575" transform="rotate(-37.2 109.7 182.1)" opacity="0.6"/>
<ellipse cx="175.1" cy="11.7" rx="21.3" ry="1.5" fill="#757575" transform="rotate(-67.9 175.1 11.7)" opacity="0.6"/>
<ellipse cx="70.1" cy="175.3" rx="14.6" ry="1.2" fill="#757575" transform="rotate(-26.5 70.1 175.3)" opacity="0.6"/>
<ellipse cx="94" cy="158.9" rx="22" ry="1.3" fill="#7c7c7c" transform="rotate(-26.2 94 158.9)" opacity="0.6"/>
<ellipse cx="185.2" cy="156.1" rx="16.3" ry="1" fill="#757575" transform="rotate(-32.1 185.2 156.1)" opacity="0.6"/>
<ellipse cx="116.5" cy="49" rx="20.2" ry="0.8" fill="#7c7c7c" transform="rotate(-22.7 116.5 49)" opacity="0.6"/>
<ellipse cx="181.7" cy="62.3" rx="10.8" ry="1.3" fill="#939393" transform="rotate(-63.4 181.7 62.3)" opacity="0.6"/>
<ellipse cx="51.8" cy="84.1" rx="11.4" ry="1.2" fill="#939393" transform="rotate(-65.3 51.8 84.1)" opacity="0.6"/>
<ellipse cx="139.6" cy="21.5" rx="9.4" ry="1.4" fill="#757575" transform="rotate(-66.6 139.6 21.5)" opacity="0.6"/>
<ellipse cx="121.4" cy="38.2" rx="16.8" ry="1.6" fill="#7c7c7c" transform="rotate(-14.3 121.4 38.2)" opacity="0.6"/>
<ellipse cx="32.9" cy="15.5" rx="10.5" ry="1.8" fill="#757575" transform="rotate(-68.2 32.9 15.5)" opacity="0.6"/>
<ellipse cx="73.2" cy="3.8" rx="20.6" ry="0.9" fill="#9b9b9b" transform="rotate(-37.1 73.2 3.8)" opacity="0.6"/>
<ellipse cx="122.4" cy="166.5" rx="8.2" ry="1.3" fill="#979797" transform="rotate(-36.8 122.4 166.5)" opacity="0.6"/>
<ellipse cx="35.7" cy="113.5" rx="15.6" ry="1.7" fill="#757575" transform="rotate(-64.5 35.7 113.5)" opacity="0.6"/>
<ellipse cx="-1.6" cy="119.4" rx="22.2" ry="1" fill="#939393" transform="rotate(-59.3 -1.6 119.4)" opacity="0.6"/>
<ellipse cx="69.2" cy="131.3" rx="23.5" ry="2" fill="#939393" transform="rotate(-34.1 69.2 131.3)" opacity="0.6"/>
<ellipse cx="38.1" cy="29.2" rx="22" ry="1" fill="#9b9b9b" transform="rotate(-55.2 38.1 29.2)" opacity="0.6"/>
<ellipse cx="92.3" cy="22" rx="11.7" ry="1" fill="#9b9b9b" transform="rotate(-30.4 92.3 22)" opacity="0.6"/>
<ellipse cx="65.3" cy="164.1" rx="15.1" ry="1.2" fill="#757575" transform="rotate(-31.8 65.3 164.1)" opacity="0.6"/>
<ellipse cx="176.4" cy="71.1" rx="14.3" ry="2" fill="#7c7c7c" transform="rotate(-71.6 176.4 71.1)" opacity="0.6"/>
<ellipse cx="163.4" cy="107" rx="9.8" ry="1" fill="#757575" transform="rotate(-68.6 163.4 107)" opacity="0.6"/>
<ellipse cx="58.9" cy="5.7" rx="17.9" ry="1.2" fill="#9b9b9b" transform="rotate(-43.2 58.9 5.7)" opacity="0.6"/>
<ellipse cx="137.4" cy="62.5" rx="20.4" ry="1.6" fill="#939393" transform="rotate(-77.5 137.4 62.5)" opacity="0.6"/>
<ellipse cx="6.9" cy="106.3" rx="19.9" ry="1.1" fill="#7c7c7c" transform="rotate(-67.9 6.9 106.3)" opacity="0.6"/>
<ellipse cx="61.1" cy="90.5" rx="21.9" ry="1.2" fill="#787878" transform="rotate(-47.3 61.1 90.5)" opacity="0.6"/>
<ellipse cx="65.6" cy="150.2" rx="11.3" ry="1.3" fill="#7c7c7c" transform="rotate(-36.8 65.6 150.2)" opacity="0.6"/>
<ellipse cx="60.4" cy="22.8" rx="13.6" ry="2" fill="#939393" transform="rotate(-46.8 60.4 22.8)" opacity="0.6"/>
<ellipse cx="98.2" cy="89.3" rx="20.1" ry="1.3" fill="#9b9b9b" transform="rotate(-29 98.2 89.3)" opacity="0.6"/>
<ellipse cx="34.9" cy="69" rx="10.5" ry="0.9" fill="#7c7c7c" transform="rotate(-64.6 34.9 69)" opacity="0.6"/>
<ellipse cx="67.8" cy="166.2" rx="15.7" ry="1.9" fill="#787878" transform="rotate(-37.8 67.8 166.2)" opacity="0.6"/>
<ellipse cx="129.6" cy="33.2" rx="19.9" ry="1.6" fill="#757575" transform="rotate(-12.4 129.6 33.2)" opacity="0.6"/>
<ellipse cx="180.9" cy="109.9" rx="19.4" ry="1.1" fill="#9b9b9b" transform="rotate(-64.5 180.9 109.9)" opacity="0.6"/>
<ellipse cx="82.5" cy="154.2" rx="10.6" ry="1.2" fill="#7c7c7c" transform="rotate(-35.9 82.5 154.2)" opacity="0.6"/>
<ellipse cx="78.7" cy="75.3" rx="15.7" ry="1" fill="#979797" transform="rotate(-33.3 78.7 75.3)" opacity="0.6"/>
<ellipse cx="66.8" cy="154.2" rx="17.3" ry="1.1" fill="#787878" transform="rotate(-26.7 66.8 154.2)" opacity="0.6"/>
<ellipse cx="186.5" cy="-2.6" rx="19.2" ry="1.2" fill="#9b9b9b" transform="rotate(-78.7 186.5 -2.6)" opacity="0.6"/>
<ellipse cx="29.3" cy="89.5" rx="22.2" ry="1.8" fill="#757575" transform="rotate(-53.2 29.3 89.5)" opacity="0.6"/>
<ellipse cx="48.6" cy="96.5" rx="16.9" ry="1.1" fill="#9b9b9b" transform="rotate(-53.6 48.6 96.5)" opacity="0.6"/>
<ellipse cx="137.2" cy="164.1" rx="9.2" ry="0.8" fill="#757575" transform="rotate(-30.9 137.2 164.1)" opacity="0.6"/>
<ellipse cx="143.6" cy="116" rx="16.3" ry="1.9" fill="#9b9b9b" transform="rotate(-62.8 143.6 116)" opacity="0.6"/>
<ellipse cx="161.6" cy="91.6" rx="19.1" ry="1.5" fill="#939393" transform="rotate(-62.6 161.6 91.6)" opacity="0.6"/>
<ellipse cx="180.9" cy="75.9" rx="10.7" ry="1.8" fill="#787878" transform="rotate(-77.5 180.9 75.9)" opacity="0.6"/>
<ellipse cx="127.2" cy="-1.6" rx="20.5" ry="0.9" fill="#757575" transform="rotate(-11.9 127.2 -1.6)" opacity="0.6"/>
<ellipse cx="183.5" cy="29.4" rx="8.5" ry="1.5" fill="#9b9b9b" transform="rotate(-65.4 183.5 29.4)" opacity="0.6"/>
<ellipse cx="79.3" cy="32.2" rx="10.1" ry="0.9" fill="#9b9b9b" transform="rotate(-30 79.3 32.2)" opacity="0.6"/>
<ellipse cx="51.4" cy="128.6" rx="15.7" ry="0.8" fill="#9b9b9b" transform="rotate(-54.5 51.4 128.6)" opacity="0.6"/>
<ellipse cx="174.6" cy="28.1" rx="12.7" ry="1.8" fill="#939393" transform="rotate(-74.1 174.6 28.1)" opacity="0.6"/>
<ellipse cx="118.1" cy="114.5" rx="17.6" ry="1.1" fill="#7c7c7c" transform="rotate(-26.9 118.1 114.5)" opacity="0.6"/>
<ellipse cx="142.7" cy="79.1" rx="23.2" ry="2" fill="#979797" transform="rotate(-76.4 142.7 79.1)" opacity="0.6"/>
<ellipse cx="42.2" cy="49.7" rx="23.6" ry="0.7" fill="#787878" transform="rotate(-64.6 42.2 49.7)" opacity="0.6"/>
<ellipse cx="10.1" cy="63" rx="21.9" ry="1.5" fill="#979797" transform="rotate(-58.1 10.1 63)" opacity="0.6"/>
<ellipse cx="79" cy="121.4" rx="16.9" ry="0.8" fill="#787878" transform="rotate(-39.6 79 121.4)" opacity="0.6"/>
<ellipse cx="90.9" cy="24.6" rx="15.3" ry="0.7" fill="#757575" transform="rotate(-27.4 90.9 24.6)" opacity="0.6"/>
<ellipse cx="160.3" cy="113.6" rx="11.4" ry="1.7" fill="#979797" transform="rotate(-64.8 160.3 113.6)" opacity="0.6"/>
<ellipse cx="-2.1" cy="139.3" rx="22" ry="1.1" fill="#757575" transform="rotate(-65 -2.1 139.3)" opacity="0.6"/>
<ellipse cx="69" cy="153.1" rx="17.2" ry="1.6" fill="#979797" transform="rotate(-32.6 69 153.1)" opacity="0.6"/>
<ellipse cx="1.7" cy="64.9" rx="23.5" ry="1.6" fill="#979797" transform="rotate(-60.4 1.7 64.9)" opacity="0.6"/>
<ellipse cx="158.3" cy="143.9" rx="8.6" ry="1.2" fill="#939393" transform="rotate(-33.9 158.3 143.9)" opacity="0.6"/>
<ellipse cx="20.6" cy="74.1" rx="16.1" ry="1.2" fill="#979797" transform="rotate(-66.6 20.6 74.1)" opacity="0.6"/>
<ellipse cx="186.1" cy="-4.1" rx="10.4" ry="1.4" fill="#939393" transform="rotate(-63 186.1 -4.1)" opacity="0.6"/>
<ellipse cx="52.2" cy="166.4" rx="11.5" ry="1.8" fill="#7c7c7c" transform="rotate(-54.4 52.2 166.4)" opacity="0.6"/>
<ellipse cx="55.6" cy="21" rx="11.4" ry="0.8" fill="#787878" transform="rotate(-57.3 55.6 21)" opacity="0.6"/>
<ellipse cx="102.9" cy="166.1" rx="23.4" ry="1.1" fill="#7c7c7c" transform="rotate(-30.1 102.9 166.1)" opacity="0.6"/>
<ellipse cx="64.4" cy="44.4" rx="9" ry="0.8" fill="#979797" transform="rotate(-52.8 64.4 44.4)" opacity="0.6"/>
<ellipse cx="161.5" cy="122" rx="17.5" ry="1.5" fill="#9b9b9b" transform="rotate(-28.9 161.5 122)" opacity="0.6"/>
<ellipse cx="82.8" cy="62.9" rx="19" ry="1.9" fill="#787878" transform="rotate(-29.6 82.8 62.9)" opacity="0.6"/>
<ellipse cx="48.7" cy="154" rx="22.8" ry="1.6" fill="#787878" transform="rotate(-64.8 48.7 154)" opacity="0.6"/>
<ellipse cx="83.2" cy="23.8" rx="11.2" ry="2" fill="#7c7c7c" transform="rotate(-39.5 83.2 23.8)" opacity="0.6"/>
<ellipse cx="91.6" cy="131.3" rx="10.2" ry="0.7" fill="#757575" transform="rotate(-29.4 91.6 131.3)" opacity="0.6"/>
<ellipse cx="119" cy="134.6" rx="12.3" ry="1.9" fill="#9b9b9b" transform="rotate(-33.1 119 134.6)" opacity="0.6"/>
<ellipse cx="142" cy="65.7" rx="10.8" ry="2" fill="#757575" transform="rotate(-62.7 142 65.7)" opacity="0.6"/>
<ellipse cx="68.6" cy="137.4" rx="18.5" ry="1.3" fill="#939393" transform="rotate(-34 68.6 137.4)" opacity="0.6"/>
<ellipse cx="123.3" cy="15.9" rx="14" ry="0.9" fill="#787878" transform="rotate(-10.5 123.3 15.9)" opacity="0.6"/>
<ellipse cx="16.4" cy="107.7" rx="8.8" ry="1.1" fill="#9b9b9b" transform="rotate(-59.5 16.4 107.7)" opacity="0.6"/>
<ellipse cx="78.6" cy="168.7" rx="21.3" ry="1.6" fill="#757575" transform="rotate(-30.3 78.6 168.7)" opacity="0.6"/>
<ellipse cx="15.2" cy="64.2" rx="11.2" ry="1.3" fill="#979797" transform="rotate(-53.7 15.2 64.2)" opacity="0.6"/>
<ellipse cx="54.8" cy="122.3" rx="13.8" ry="1.5" fill="#939393" transform="rotate(-57.3 54.8 122.3)" opacity="0.6"/>
<ellipse cx="69.8" cy="27.6" rx="18.3" ry="1.1" fill="#787878" transform="rotate(-48.3 69.8 27.6)" opacity="0.6"/>
<ellipse cx="49.9" cy="164.8" rx="14.7" ry="1.8" fill="#939393" transform="rotate(-67.1 49.9 164.8)" opacity="0.6"/>
<ellipse cx="149.1" cy="7.1" rx="20.9" ry="1" fill="#9b9b9b" transform="rotate(-63 149.1 7.1)" opacity="0.6"/>
<ellipse cx="161.1" cy="84.5" rx="13.7" ry="1.4" fill="#787878" transform="rotate(-64.9 161.1 84.5)" opacity="0.6"/>
<ellipse cx="162.5" cy="83.2" rx="11.8" ry="1.9" fill="#979797" transform="rotate(-68.4 162.5 83.2)" opacity="0.6"/>
<ellipse cx="102.3" cy="31.3" rx="16.9" ry="1.7" fill="#787878" transform="rotate(-26.3 102.3 31.3)" opacity="0.6"/>
<ellipse cx="148.2" cy="143.3" rx="20.1" ry="0.7" fill="#7c7c7c" transform="rotate(-29.4 148.2 143.3)" opacity="0.6"/>
</g>
<g filter="url(#b0)">
<ellipse cx="25.3" cy="36.7" rx="5.1" ry="4.7" fill="#a0a0a0" opacity="0.9" stroke="#6a6a6a" stroke-width="1"/>
<ellipse cx="24.3" cy="35.6" rx="2.5" ry="2.3" fill="#bdbdbd" opacity="0.8"/>
<ellipse cx="8.4" cy="52.9" rx="4.4" ry="4" fill="#a0a0a0" opacity="0.9" stroke="#6a6a6a" stroke-width="1"/>
<ellipse cx="7.6" cy="52" rx="2.2" ry="2" fill="#bdbdbd" opacity="0.8"/>
<ellipse cx="2.6" cy="70.5" rx="3.6" ry="3.3" fill="#a0a0a0" opacity="0.9" stroke="#6a6a6a" stroke-width="1"/>
<ellipse cx="1.9" cy="69.7" rx="1.8" ry="1.6" fill="#bdbdbd" opacity="0.8"/>
<ellipse cx="47.4" cy="43.2" rx="5.1" ry="2.5" fill="#a4a4a4" transform="rotate(-50 47.4 43.2)" opacity="0.9" stroke="#6b6b6b" stroke-width="1"/>
<ellipse cx="71.4" cy="39.3" rx="4.7" ry="4.3" fill="#a0a0a0" opacity="0.9" stroke="#6a6a6a" stroke-width="1"/>
<ellipse cx="70.4" cy="38.3" rx="2.3" ry="2.1" fill="#bdbdbd" opacity="0.8"/>
<ellipse cx="86.9" cy="35.4" rx="3.5" ry="3.3" fill="#b9b9b9" stroke="#636363" stroke-width="1.2"/>
<ellipse cx="86.4" cy="34.7" rx="1.7" ry="1.7" fill="#e6e6e6" opacity="0.9"/>
<ellipse cx="75.9" cy="63.3" rx="2.9" ry="2.8" fill="#b9b9b9" stroke="#636363" stroke-width="1.2"/>
<ellipse cx="75.5" cy="62.7" rx="1.5" ry="1.5" fill="#e6e6e6" opacity="0.9"/>
<ellipse cx="83.7" cy="60.1" rx="2.6" ry="2.5" fill="#b9b9b9" stroke="#636363" stroke-width="1.2"/>
<ellipse cx="83.3" cy="59.6" rx="1.3" ry="1.3" fill="#e6e6e6" opacity="0.9"/>
<ellipse cx="110.3" cy="51" rx="4.1" ry="3.7" fill="#a0a0a0" opacity="0.9" stroke="#6a6a6a" stroke-width="1"/>
<ellipse cx="109.5" cy="50.1" rx="2" ry="1.8" fill="#bdbdbd" opacity="0.8"/>
<ellipse cx="122.6" cy="48.4" rx="5.1" ry="4.7" fill="#a0a0a0" opacity="0.9" stroke="#6a6a6a" stroke-width="1"/>
<ellipse cx="121.6" cy="47.3" rx="2.5" ry="2.3" fill="#bdbdbd" opacity="0.8"/>
<ellipse cx="132.3" cy="47.7" rx="4.4" ry="4" fill="#a0a0a0" opacity="0.9" stroke="#6a6a6a" stroke-width="1"/>
<ellipse cx="131.5" cy="46.8" rx="2.2" ry="2" fill="#bdbdbd" opacity="0.8"/>
<ellipse cx="116.8" cy="41.3" rx="4.1" ry="3.7" fill="#a0a0a0" opacity="0.9" stroke="#6a6a6a" stroke-width="1"/>
<ellipse cx="116" cy="40.4" rx="2" ry="1.8" fill="#bdbdbd" opacity="0.8"/>
<ellipse cx="127.2" cy="38.7" rx="4.4" ry="4" fill="#a0a0a0" opacity="0.9" stroke="#6a6a6a" stroke-width="1"/>
<ellipse cx="126.3" cy="37.7" rx="2.2" ry="2" fill="#bdbdbd" opacity="0.8"/>
<ellipse cx="140.1" cy="42.6" rx="4.4" ry="4" fill="#a0a0a0" opacity="0.9" stroke="#6a6a6a" stroke-width="1"/>
<ellipse cx="139.3" cy="41.6" rx="2.2" ry="2" fill="#bdbdbd" opacity="0.8"/>
<ellipse cx="156.4" cy="52.3" rx="5.8" ry="5.3" fill="#a0a0a0" opacity="0.9" stroke="#6a6a6a" stroke-width="1"/>
<ellipse cx="155.2" cy="51" rx="2.9" ry="2.6" fill="#bdbdbd" opacity="0.8"/>
<ellipse cx="168" cy="47.1" rx="5.1" ry="4.7" fill="#a0a0a0" opacity="0.9" stroke="#6a6a6a" stroke-width="1"/>
<ellipse cx="167" cy="46" rx="2.5" ry="2.3" fill="#bdbdbd" opacity="0.8"/>
<ellipse cx="164.8" cy="35.4" rx="5.8" ry="5.3" fill="#a0a0a0" opacity="0.9" stroke="#6a6a6a" stroke-width="1"/>
<ellipse cx="163.6" cy="34.1" rx="2.9" ry="2.6" fill="#bdbdbd" opacity="0.8"/>
<ellipse cx="162.8" cy="63.3" rx="4.4" ry="4" fill="#a0a0a0" opacity="0.9" stroke="#6a6a6a" stroke-width="1"/>
<ellipse cx="162" cy="62.4" rx="2.2" ry="2" fill="#bdbdbd" opacity="0.8"/>
<ellipse cx="155.1" cy="67.2" rx="3.6" ry="3.3" fill="#a0a0a0" opacity="0.9" stroke="#6a6a6a" stroke-width="1"/>
<ellipse cx="154.3" cy="66.4" rx="1.8" ry="1.6" fill="#bdbdbd" opacity="0.8"/>
<ellipse cx="158.9" cy="78.2" rx="3.2" ry="2.9" fill="#a0a0a0" opacity="0.9" stroke="#6a6a6a" stroke-width="1"/>
<ellipse cx="158.3" cy="77.5" rx="1.6" ry="1.4" fill="#bdbdbd" opacity="0.8"/>
<ellipse cx="158.3" cy="92.5" rx="3.6" ry="3.3" fill="#a0a0a0" opacity="0.9" stroke="#6a6a6a" stroke-width="1"/>
<ellipse cx="157.6" cy="91.7" rx="1.8" ry="1.6" fill="#bdbdbd" opacity="0.8"/>
<ellipse cx="125.2" cy="74.3" rx="3.2" ry="3" fill="#b9b9b9" stroke="#636363" stroke-width="1.2"/>
<ellipse cx="124.7" cy="73.7" rx="1.6" ry="1.6" fill="#e6e6e6" opacity="0.9"/>
<ellipse cx="89.5" cy="82.8" rx="4.4" ry="4" fill="#a0a0a0" opacity="0.9" stroke="#6a6a6a" stroke-width="1"/>
<ellipse cx="88.7" cy="81.8" rx="2.2" ry="2" fill="#bdbdbd" opacity="0.8"/>
<ellipse cx="47.4" cy="89.3" rx="5.5" ry="5.1" fill="#a0a0a0" opacity="0.9" stroke="#6a6a6a" stroke-width="1"/>
<ellipse cx="46.3" cy="88.1" rx="2.8" ry="2.5" fill="#bdbdbd" opacity="0.8"/>
<ellipse cx="68.1" cy="91.9" rx="2.6" ry="2.5" fill="#b9b9b9" stroke="#636363" stroke-width="1.2"/>
<ellipse cx="67.7" cy="91.3" rx="1.3" ry="1.3" fill="#e6e6e6" opacity="0.9"/>
<ellipse cx="74" cy="97.7" rx="2.3" ry="2.2" fill="#b9b9b9" stroke="#636363" stroke-width="1.2"/>
<ellipse cx="73.6" cy="97.2" rx="1.2" ry="1.2" fill="#e6e6e6" opacity="0.9"/>
<ellipse cx="119.4" cy="117.8" rx="3.6" ry="3.3" fill="#a0a0a0" opacity="0.9" stroke="#6a6a6a" stroke-width="1"/>
<ellipse cx="118.6" cy="117" rx="1.8" ry="1.6" fill="#bdbdbd" opacity="0.8"/>
<ellipse cx="134.9" cy="130.8" rx="8" ry="4" fill="#a4a4a4" transform="rotate(-50 134.9 130.8)" opacity="0.9" stroke="#6b6b6b" stroke-width="1"/>
<ellipse cx="142.7" cy="137.9" rx="3.6" ry="3.3" fill="#a0a0a0" opacity="0.9" stroke="#6a6a6a" stroke-width="1"/>
<ellipse cx="142" cy="137.1" rx="1.8" ry="1.6" fill="#bdbdbd" opacity="0.8"/>
<ellipse cx="168.7" cy="137.9" rx="4.1" ry="3.7" fill="#a0a0a0" opacity="0.9" stroke="#6a6a6a" stroke-width="1"/>
<ellipse cx="167.9" cy="137" rx="2" ry="1.8" fill="#bdbdbd" opacity="0.8"/>
<ellipse cx="138.2" cy="169.1" rx="4.4" ry="4" fill="#a0a0a0" opacity="0.9" stroke="#6a6a6a" stroke-width="1"/>
<ellipse cx="137.3" cy="168.1" rx="2.2" ry="2" fill="#bdbdbd" opacity="0.8"/>
<ellipse cx="147.9" cy="173" rx="4.4" ry="4" fill="#a0a0a0" opacity="0.9" stroke="#6a6a6a" stroke-width="1"/>
<ellipse cx="147" cy="172" rx="2.2" ry="2" fill="#bdbdbd" opacity="0.8"/>
<ellipse cx="179.1" cy="98.4" rx="2.9" ry="2.7" fill="#a0a0a0" opacity="0.9" stroke="#6a6a6a" stroke-width="1"/>
<ellipse cx="178.5" cy="97.7" rx="1.5" ry="1.3" fill="#bdbdbd" opacity="0.8"/>
<ellipse cx="105.1" cy="117.8" rx="1.5" ry="1.4" fill="#b9b9b9" stroke="#636363" stroke-width="1.2"/>
<ellipse cx="104.9" cy="117.5" rx="0.7" ry="0.7" fill="#e6e6e6" opacity="0.9"/>
<ellipse cx="86.9" cy="20.5" rx="5.8" ry="2.9" fill="#a4a4a4" transform="rotate(-50 86.9 20.5)" opacity="0.9" stroke="#6b6b6b" stroke-width="1"/>
<ellipse cx="114.2" cy="102.2" rx="6.5" ry="3.3" fill="#a4a4a4" transform="rotate(-50 114.2 102.2)" opacity="0.9" stroke="#6b6b6b" stroke-width="1"/>
<ellipse cx="58.4" cy="112.6" rx="7.3" ry="3.6" fill="#a4a4a4" transform="rotate(-50 58.4 112.6)" opacity="0.9" stroke="#6b6b6b" stroke-width="1"/>
</g>
<rect x="7.8" y="166.7" width="107.7" height="4.6" fill="#fff" stroke="none"/>
<text stroke="none" transform="translate(61,156) scale(0.76,1)" font-size="30" text-anchor="middle" fill="#fff">200µm</text>
</svg>
<svg x="880.1" y="1204.3" width="181.4" height="179.2" overflow="hidden" stroke="none">
<rect width="182.4" height="180.2" fill="#041d10" stroke="none"/>
<g filter="url(#b2)">
<ellipse cx="125.3" cy="48.2" rx="5.4" ry="5.4" fill="#2bc470" opacity="0.61"/>
<ellipse cx="160.7" cy="51.2" rx="5.9" ry="5.9" fill="#3cf090" opacity="0.72"/>
<ellipse cx="140.9" cy="57.7" rx="11.7" ry="23.4" fill="#1f9a52" transform="rotate(12 140.9 57.7)" opacity="0.58"/>
<ellipse cx="131.9" cy="57.7" rx="8.1" ry="14.4" fill="#22a85a" transform="rotate(-35 131.9 57.7)" opacity="0.58"/>
<ellipse cx="153.9" cy="65.7" rx="7.2" ry="12.6" fill="#22a85a" transform="rotate(30 153.9 65.7)" opacity="0.58"/>
<ellipse cx="19.5" cy="54.5" rx="9.9" ry="8.1" fill="#1a8848" opacity="0.5"/>
<ellipse cx="9.9" cy="45.7" rx="5.4" ry="5.4" fill="#1c944e" opacity="0.5"/>
<ellipse cx="27.9" cy="35.7" rx="4.5" ry="4.5" fill="#167a40" opacity="0.43"/>
<ellipse cx="120.9" cy="97.7" rx="4.5" ry="9" fill="#1c8c4a" transform="rotate(35 120.9 97.7)" opacity="0.5"/>
<ellipse cx="126.7" cy="141.5" rx="6.3" ry="4.5" fill="#15703a" opacity="0.43"/>
<ellipse cx="169.9" cy="160.7" rx="7.2" ry="16.2" fill="#1f9a52" transform="rotate(10 169.9 160.7)" opacity="0.58"/>
<ellipse cx="149.9" cy="175.7" rx="9" ry="4.5" fill="#19864a" opacity="0.5"/>
<ellipse cx="171.9" cy="75.7" rx="4.5" ry="4.5" fill="#2cc46e" opacity="0.65"/>
<ellipse cx="165.9" cy="35.7" rx="3.6" ry="3.6" fill="#28b866" opacity="0.65"/>
<ellipse cx="147.9" cy="39.7" rx="3.6" ry="3.6" fill="#26b060" opacity="0.58"/>
<ellipse cx="141.9" cy="20.7" rx="3.6" ry="10.8" fill="#1c8c4a" transform="rotate(15 141.9 20.7)" opacity="0.43"/>
<ellipse cx="49.9" cy="93.7" rx="3.6" ry="3.6" fill="#12602f" opacity="0.43"/>
<ellipse cx="12.9" cy="176.7" rx="3.6" ry="1.8" fill="#1c944e" opacity="0.58"/>
</g>
<g filter="url(#b1)">
<ellipse cx="125.3" cy="48.2" rx="6" ry="6" fill="#2bc470" opacity="0.85"/>
<ellipse cx="160.7" cy="51.2" rx="6.5" ry="6.5" fill="#3cf090"/>
</g>
</svg>
<svg x="1073" y="1204.3" width="180.6" height="179.2" overflow="hidden" stroke="none">
<rect width="181.6" height="180.2" fill="#06190d" stroke="none"/>
<g id="rgp" fill="#e2281e">
<g filter="url(#b2)">
<ellipse cx="73.9" cy="81.2" rx="7.4" ry="3.5" transform="rotate(40.5 73.9 81.2)" opacity="0.2"/>
<ellipse cx="21.1" cy="0.4" rx="4.6" ry="4.5" transform="rotate(178.1 21.1 0.4)" opacity="0.32"/>
<ellipse cx="68.5" cy="55.6" rx="6.8" ry="4" transform="rotate(13.2 68.5 55.6)" opacity="0.35"/>
<ellipse cx="111.7" cy="10.5" rx="4.3" ry="3.3" transform="rotate(172.6 111.7 10.5)" opacity="0.22"/>
<ellipse cx="113.2" cy="172.9" rx="4.1" ry="4.2" transform="rotate(85.9 113.2 172.9)" opacity="0.36"/>
<ellipse cx="34.1" cy="31" rx="5" ry="3.1" transform="rotate(121.3 34.1 31)" opacity="0.35"/>
<ellipse cx="79" cy="2.5" rx="6.9" ry="5.2" transform="rotate(117.6 79 2.5)" opacity="0.26"/>
<ellipse cx="150.3" cy="98.8" rx="6.4" ry="4.6" transform="rotate(42 150.3 98.8)" opacity="0.28"/>
<ellipse cx="143.7" cy="109.8" rx="5.4" ry="5.5" transform="rotate(151.1 143.7 109.8)" opacity="0.21"/>
<ellipse cx="28.5" cy="25.6" rx="4.1" ry="5.3" transform="rotate(116.4 28.5 25.6)" opacity="0.3"/>
<ellipse cx="180" cy="47.1" rx="4.8" ry="3.3" transform="rotate(61.2 180 47.1)" opacity="0.35"/>
<ellipse cx="109.8" cy="4.6" rx="5.7" ry="3.1" transform="rotate(112.2 109.8 4.6)" opacity="0.22"/>
<ellipse cx="32.5" cy="101.3" rx="7.3" ry="4.9" transform="rotate(52.9 32.5 101.3)" opacity="0.31"/>
<ellipse cx="49.2" cy="0.3" rx="5.1" ry="5.1" transform="rotate(112.8 49.2 0.3)" opacity="0.23"/>
<ellipse cx="152.2" cy="141.4" rx="5.1" ry="5.9" transform="rotate(47.3 152.2 141.4)" opacity="0.21"/>
<ellipse cx="92.7" cy="149.1" rx="6.4" ry="4.6" transform="rotate(87.8 92.7 149.1)" opacity="0.25"/>
<ellipse cx="54.3" cy="55.2" rx="6.2" ry="5.8" transform="rotate(13.1 54.3 55.2)" opacity="0.24"/>
<ellipse cx="170.8" cy="104.3" rx="4.3" ry="4.3" transform="rotate(117.2 170.8 104.3)" opacity="0.36"/>
<ellipse cx="15.2" cy="157.5" rx="7.1" ry="3.8" transform="rotate(96 15.2 157.5)" opacity="0.35"/>
<ellipse cx="44" cy="113.5" rx="6.2" ry="3.2" transform="rotate(48.9 44 113.5)" opacity="0.27"/>
<ellipse cx="25.3" cy="167" rx="5" ry="3.7" transform="rotate(107.5 25.3 167)" opacity="0.29"/>
<ellipse cx="57.8" cy="41.8" rx="6" ry="5.7" transform="rotate(14.2 57.8 41.8)" opacity="0.36"/>
<ellipse cx="169.8" cy="109.7" rx="7.2" ry="4.1" transform="rotate(173.3 169.8 109.7)" opacity="0.33"/>
<ellipse cx="124.3" cy="63.6" rx="4.9" ry="5.1" transform="rotate(132.4 124.3 63.6)" opacity="0.2"/>
<ellipse cx="56.3" cy="80" rx="4.8" ry="3.4" transform="rotate(33.8 56.3 80)" opacity="0.2"/>
<ellipse cx="21.8" cy="53.2" rx="6" ry="4.9" transform="rotate(55.5 21.8 53.2)" opacity="0.22"/>
<ellipse cx="166.6" cy="99.1" rx="6.7" ry="5.1" transform="rotate(57.9 166.6 99.1)" opacity="0.3"/>
<ellipse cx="57.7" cy="103.4" rx="7.3" ry="3" transform="rotate(143.2 57.7 103.4)" opacity="0.22"/>
<ellipse cx="2.9" cy="6.2" rx="6.2" ry="5.6" transform="rotate(166.6 2.9 6.2)" opacity="0.23"/>
<ellipse cx="77.6" cy="166.5" rx="7.6" ry="5.5" transform="rotate(44.7 77.6 166.5)" opacity="0.25"/>
<ellipse cx="27" cy="31.8" rx="5.6" ry="5.4" transform="rotate(118.8 27 31.8)" opacity="0.23"/>
<ellipse cx="32.3" cy="63.9" rx="7.6" ry="4.4" transform="rotate(142 32.3 63.9)" opacity="0.32"/>
<ellipse cx="158.9" cy="72.4" rx="5.5" ry="4.4" transform="rotate(144.4 158.9 72.4)" opacity="0.25"/>
<ellipse cx="35" cy="142.8" rx="5.9" ry="4.9" transform="rotate(31.3 35 142.8)" opacity="0.21"/>
<ellipse cx="40.7" cy="60" rx="4.1" ry="3.8" transform="rotate(169.7 40.7 60)" opacity="0.28"/>
<ellipse cx="0.8" cy="135.2" rx="5.2" ry="3.5" transform="rotate(114.8 0.8 135.2)" opacity="0.32"/>
<ellipse cx="58.7" cy="115.4" rx="7.5" ry="4" transform="rotate(89.5 58.7 115.4)" opacity="0.2"/>
<ellipse cx="107" cy="36.4" rx="6.6" ry="5.3" transform="rotate(61.3 107 36.4)" opacity="0.32"/>
<ellipse cx="170.6" cy="17.8" rx="7.2" ry="4.4" transform="rotate(169.8 170.6 17.8)" opacity="0.21"/>
<ellipse cx="69.3" cy="16.9" rx="5" ry="5.7" transform="rotate(95.5 69.3 16.9)" opacity="0.26"/>
<ellipse cx="174.3" cy="3.9" rx="4.1" ry="5.3" transform="rotate(100.4 174.3 3.9)" opacity="0.35"/>
<ellipse cx="89.8" cy="167" rx="5.3" ry="3.7" transform="rotate(159.1 89.8 167)" opacity="0.29"/>
<ellipse cx="5.4" cy="0.5" rx="4.1" ry="5.2" transform="rotate(115 5.4 0.5)" opacity="0.22"/>
<ellipse cx="144.2" cy="129.5" rx="6.5" ry="4.7" transform="rotate(78.1 144.2 129.5)" opacity="0.32"/>
<ellipse cx="70.4" cy="163.1" rx="6.4" ry="5" transform="rotate(166.6 70.4 163.1)" opacity="0.37"/>
<ellipse cx="96.5" cy="10.5" rx="6.1" ry="5.8" transform="rotate(37.4 96.5 10.5)" opacity="0.24"/>
<ellipse cx="49.8" cy="27" rx="7.2" ry="4.6" transform="rotate(15.4 49.8 27)" opacity="0.29"/>
<ellipse cx="126" cy="1.6" rx="4.8" ry="3" transform="rotate(125.3 126 1.6)" opacity="0.27"/>
<ellipse cx="2.5" cy="29.2" rx="4.8" ry="4.7" transform="rotate(76.8 2.5 29.2)" opacity="0.27"/>
<ellipse cx="59.6" cy="2.7" rx="5.3" ry="4.9" transform="rotate(96.8 59.6 2.7)" opacity="0.3"/>
<ellipse cx="28.8" cy="2.9" rx="7.1" ry="5.1" transform="rotate(118.5 28.8 2.9)" opacity="0.37"/>
<ellipse cx="55.5" cy="120" rx="5.2" ry="4.8" transform="rotate(163.2 55.5 120)" opacity="0.28"/>
<ellipse cx="111.3" cy="177.1" rx="6" ry="3.7" transform="rotate(171.8 111.3 177.1)" opacity="0.32"/>
<ellipse cx="59" cy="33.6" rx="4.1" ry="3.3" transform="rotate(176.2 59 33.6)" opacity="0.3"/>
<ellipse cx="140.9" cy="28.2" rx="7.4" ry="5.1" transform="rotate(157.5 140.9 28.2)" opacity="0.29"/>
<ellipse cx="166.1" cy="86.4" rx="4.6" ry="5.7" transform="rotate(54.2 166.1 86.4)" opacity="0.36"/>
<ellipse cx="99.5" cy="54.7" rx="6.1" ry="4.1" transform="rotate(14 99.5 54.7)" opacity="0.21"/>
<ellipse cx="15.3" cy="157.6" rx="5.4" ry="3.1" transform="rotate(72.1 15.3 157.6)" opacity="0.31"/>
<ellipse cx="114.8" cy="160.1" rx="5.4" ry="5.9" transform="rotate(2.1 114.8 160.1)" opacity="0.23"/>
<ellipse cx="88.8" cy="102.1" rx="5.7" ry="5.4" transform="rotate(98.3 88.8 102.1)" opacity="0.2"/>
<ellipse cx="70.6" cy="101" rx="5" ry="3.6" transform="rotate(115.8 70.6 101)" opacity="0.28"/>
<ellipse cx="178.8" cy="168.8" rx="5.2" ry="3.1" transform="rotate(32 178.8 168.8)" opacity="0.28"/>
<ellipse cx="76.7" cy="60.5" rx="4.3" ry="3.9" transform="rotate(73.8 76.7 60.5)" opacity="0.33"/>
<ellipse cx="20.9" cy="99.5" rx="5.5" ry="5.3" transform="rotate(122.5 20.9 99.5)" opacity="0.23"/>
<ellipse cx="127.7" cy="49.3" rx="7.3" ry="3.1" transform="rotate(56.4 127.7 49.3)" opacity="0.29"/>
<ellipse cx="53.2" cy="52.8" rx="6.3" ry="3.7" transform="rotate(154.7 53.2 52.8)" opacity="0.25"/>
<ellipse cx="125" cy="170.7" rx="4.4" ry="5.6" transform="rotate(31.6 125 170.7)" opacity="0.28"/>
<ellipse cx="21.4" cy="163.3" rx="5.2" ry="4.5" transform="rotate(174.8 21.4 163.3)" opacity="0.22"/>
<ellipse cx="14.2" cy="112.1" rx="4.2" ry="3.4" transform="rotate(45.8 14.2 112.1)" opacity="0.2"/>
<ellipse cx="62.1" cy="4.3" rx="7.7" ry="4.5" transform="rotate(5.6 62.1 4.3)" opacity="0.33"/>
<ellipse cx="43.1" cy="152.7" rx="4.1" ry="3.4" transform="rotate(66.8 43.1 152.7)" opacity="0.35"/>
<ellipse cx="168.9" cy="171.8" rx="4.8" ry="4.1" transform="rotate(153.6 168.9 171.8)" opacity="0.34"/>
<ellipse cx="170.2" cy="6.9" rx="4.2" ry="4.2" transform="rotate(151.8 170.2 6.9)" opacity="0.32"/>
<ellipse cx="75.2" cy="109.6" rx="5.8" ry="5.5" transform="rotate(51.8 75.2 109.6)" opacity="0.33"/>
<ellipse cx="27.5" cy="90.5" rx="5.3" ry="4" transform="rotate(48 27.5 90.5)" opacity="0.2"/>
<ellipse cx="17.1" cy="107.2" rx="6.7" ry="5" transform="rotate(77.8 17.1 107.2)" opacity="0.3"/>
<ellipse cx="143.8" cy="176.4" rx="5.6" ry="5.2" transform="rotate(146.1 143.8 176.4)" opacity="0.35"/>
<ellipse cx="121.2" cy="26.5" rx="7.2" ry="4.7" transform="rotate(133.4 121.2 26.5)" opacity="0.33"/>
<ellipse cx="37.5" cy="5.8" rx="7.1" ry="5" transform="rotate(3 37.5 5.8)" opacity="0.21"/>
<ellipse cx="76.5" cy="103.3" rx="4.5" ry="5.1" transform="rotate(61.9 76.5 103.3)" opacity="0.31"/>
<ellipse cx="49.3" cy="27.2" rx="4.6" ry="5.1" transform="rotate(112.1 49.3 27.2)" opacity="0.21"/>
<ellipse cx="20.5" cy="142.6" rx="5" ry="5.8" transform="rotate(175.8 20.5 142.6)" opacity="0.34"/>
<ellipse cx="25" cy="9.4" rx="7.3" ry="4.2" transform="rotate(5.8 25 9.4)" opacity="0.22"/>
<ellipse cx="51.5" cy="29.4" rx="4.1" ry="5.2" transform="rotate(10.4 51.5 29.4)" opacity="0.25"/>
<ellipse cx="126.4" cy="123.8" rx="7.2" ry="3.7" transform="rotate(30.6 126.4 123.8)" opacity="0.31"/>
<ellipse cx="145.8" cy="121.4" rx="7" ry="4.2" transform="rotate(129.1 145.8 121.4)" opacity="0.36"/>
<ellipse cx="111.5" cy="14.6" rx="7.3" ry="3.1" transform="rotate(2 111.5 14.6)" opacity="0.25"/>
<ellipse cx="67.6" cy="173" rx="6.9" ry="4.3" transform="rotate(103.3 67.6 173)" opacity="0.27"/>
<ellipse cx="162.8" cy="96.2" rx="5.5" ry="5.8" transform="rotate(146.8 162.8 96.2)" opacity="0.27"/>
<ellipse cx="174" cy="4.4" rx="7.5" ry="4.4" transform="rotate(87.7 174 4.4)" opacity="0.36"/>
</g>
<g filter="url(#b09)">
<ellipse cx="76.4" cy="61.1" rx="2.5" ry="1.5" transform="rotate(129.1 76.4 61.1)" opacity="0.72"/>
<ellipse cx="28.8" cy="150.9" rx="2.4" ry="1.9" transform="rotate(37.3 28.8 150.9)" opacity="0.43"/>
<ellipse cx="25.9" cy="75.9" rx="3.9" ry="2.3" transform="rotate(174.8 25.9 75.9)" opacity="0.89"/>
<ellipse cx="112.7" cy="147.2" rx="4" ry="2.6" transform="rotate(151.4 112.7 147.2)" opacity="0.66"/>
<ellipse cx="136.8" cy="136.2" rx="3.9" ry="2.6" transform="rotate(14.4 136.8 136.2)" opacity="0.39"/>
<ellipse cx="128" cy="94.1" rx="3.2" ry="2.5" transform="rotate(147.1 128 94.1)" opacity="0.9"/>
<ellipse cx="87" cy="8" rx="2.7" ry="2.2" transform="rotate(143.1 87 8)" opacity="0.8"/>
<ellipse cx="68.7" cy="157.9" rx="3" ry="1.7" transform="rotate(53 68.7 157.9)" opacity="0.75"/>
<ellipse cx="20" cy="44.1" rx="3.1" ry="1.7" transform="rotate(148.6 20 44.1)" opacity="0.42"/>
<ellipse cx="83.3" cy="144.6" rx="4" ry="2.7" transform="rotate(29 83.3 144.6)" opacity="0.78"/>
<ellipse cx="34.8" cy="91.8" rx="2" ry="1.6" transform="rotate(4 34.8 91.8)" opacity="0.58"/>
<ellipse cx="8.4" cy="100.4" rx="3.9" ry="2.3" transform="rotate(90 8.4 100.4)" opacity="0.7"/>
<ellipse cx="156.9" cy="40.1" rx="2.7" ry="2.1" transform="rotate(122.7 156.9 40.1)" opacity="0.9"/>
<ellipse cx="60" cy="110.6" rx="2.6" ry="1.4" transform="rotate(11.1 60 110.6)" opacity="0.5"/>
<ellipse cx="74.7" cy="126.7" rx="2.4" ry="2" transform="rotate(115.6 74.7 126.7)" opacity="0.4"/>
<ellipse cx="60.6" cy="170.4" rx="2.3" ry="1.9" transform="rotate(42.9 60.6 170.4)" opacity="0.51"/>
<ellipse cx="31.6" cy="125.2" rx="2.5" ry="1.5" transform="rotate(99.1 31.6 125.2)" opacity="0.83"/>
<ellipse cx="61.4" cy="0.1" rx="3.4" ry="2.1" transform="rotate(6.2 61.4 0.1)" opacity="0.62"/>
<ellipse cx="27.3" cy="179.1" rx="3.5" ry="2" transform="rotate(113.8 27.3 179.1)" opacity="0.69"/>
<ellipse cx="154.7" cy="1.6" rx="2.7" ry="1.7" transform="rotate(59.2 154.7 1.6)" opacity="0.85"/>
<ellipse cx="53.8" cy="117.3" rx="3" ry="2" transform="rotate(155 53.8 117.3)" opacity="0.88"/>
<ellipse cx="177.5" cy="43.3" rx="2.5" ry="2" transform="rotate(140.5 177.5 43.3)" opacity="0.69"/>
<ellipse cx="87.8" cy="76.6" rx="2.2" ry="1.7" transform="rotate(82 87.8 76.6)" opacity="0.73"/>
<ellipse cx="14.4" cy="29.4" rx="2.7" ry="1.6" transform="rotate(88.3 14.4 29.4)" opacity="0.83"/>
<ellipse cx="72" cy="18.7" rx="1.9" ry="1.6" transform="rotate(88.9 72 18.7)" opacity="0.61"/>
<ellipse cx="72.6" cy="102.7" rx="2.9" ry="2.1" transform="rotate(124.1 72.6 102.7)" opacity="0.45"/>
<ellipse cx="120" cy="55.1" rx="4.2" ry="2.3" transform="rotate(87.3 120 55.1)" opacity="0.41"/>
<ellipse cx="117.5" cy="0.3" rx="1.6" ry="1.2" transform="rotate(142.9 117.5 0.3)" opacity="0.56"/>
<ellipse cx="128.1" cy="73.5" rx="2.4" ry="2.1" transform="rotate(168.4 128.1 73.5)" opacity="0.6"/>
<ellipse cx="14.4" cy="84.9" rx="3.8" ry="2.5" transform="rotate(116.1 14.4 84.9)" opacity="0.41"/>
<ellipse cx="30.6" cy="41.4" rx="1.9" ry="1.2" transform="rotate(0.9 30.6 41.4)" opacity="0.61"/>
<ellipse cx="122.8" cy="15.1" rx="4.3" ry="2.7" transform="rotate(135.2 122.8 15.1)" opacity="0.75"/>
<ellipse cx="102.3" cy="52.3" rx="3.5" ry="2.1" transform="rotate(65.6 102.3 52.3)" opacity="0.36"/>
<ellipse cx="169.2" cy="33.6" rx="4.9" ry="2.6" transform="rotate(9 169.2 33.6)" opacity="0.85"/>
<ellipse cx="62.7" cy="148.7" rx="3.2" ry="2.4" transform="rotate(143 62.7 148.7)" opacity="0.41"/>
<ellipse cx="163.3" cy="90.9" rx="4" ry="2.7" transform="rotate(126.8 163.3 90.9)" opacity="0.52"/>
<ellipse cx="49.4" cy="2.6" rx="4.2" ry="2.3" transform="rotate(75.1 49.4 2.6)" opacity="0.39"/>
<ellipse cx="14.4" cy="22.7" rx="3.2" ry="2.3" transform="rotate(83.5 14.4 22.7)" opacity="0.82"/>
<ellipse cx="122.7" cy="2.8" rx="4.3" ry="2.6" transform="rotate(28.9 122.7 2.8)" opacity="0.38"/>
<ellipse cx="160.9" cy="32.9" rx="2.7" ry="1.9" transform="rotate(133.3 160.9 32.9)" opacity="0.59"/>
<ellipse cx="122" cy="159" rx="1.8" ry="1.3" transform="rotate(131.4 122 159)" opacity="0.81"/>
<ellipse cx="155.8" cy="53.7" rx="3.5" ry="2.2" transform="rotate(153.9 155.8 53.7)" opacity="0.45"/>
<ellipse cx="13.6" cy="18.3" rx="2.7" ry="1.6" transform="rotate(110.7 13.6 18.3)" opacity="0.51"/>
<ellipse cx="8.4" cy="54.4" rx="3.3" ry="2.7" transform="rotate(163.8 8.4 54.4)" opacity="0.57"/>
<ellipse cx="110.4" cy="47.4" rx="4.6" ry="2.6" transform="rotate(120.6 110.4 47.4)" opacity="0.63"/>
<ellipse cx="105.7" cy="27.2" rx="3.8" ry="2.1" transform="rotate(13 105.7 27.2)" opacity="0.61"/>
<ellipse cx="89.5" cy="78.6" rx="4.3" ry="2.7" transform="rotate(82.4 89.5 78.6)" opacity="0.41"/>
<ellipse cx="53.4" cy="152.2" rx="3.6" ry="2.1" transform="rotate(165.7 53.4 152.2)" opacity="0.84"/>
<ellipse cx="161.2" cy="174.7" rx="4.3" ry="2.6" transform="rotate(92.8 161.2 174.7)" opacity="0.38"/>
<ellipse cx="169.8" cy="68.5" rx="2.3" ry="1.6" transform="rotate(135.7 169.8 68.5)" opacity="0.78"/>
<ellipse cx="52.9" cy="16.6" rx="2.2" ry="1.8" transform="rotate(109.2 52.9 16.6)" opacity="0.82"/>
<ellipse cx="73.1" cy="14.8" rx="3.4" ry="2.6" transform="rotate(33.4 73.1 14.8)" opacity="0.64"/>
<ellipse cx="122.9" cy="46.8" rx="1.8" ry="1.3" transform="rotate(157.8 122.9 46.8)" opacity="0.89"/>
<ellipse cx="44.3" cy="112.3" rx="4.2" ry="2.4" transform="rotate(2.2 44.3 112.3)" opacity="0.38"/>
<ellipse cx="15.3" cy="85.7" rx="2.6" ry="1.4" transform="rotate(44.5 15.3 85.7)" opacity="0.6"/>
<ellipse cx="24.5" cy="157.3" rx="2" ry="1.5" transform="rotate(54.2 24.5 157.3)" opacity="0.47"/>
<ellipse cx="15.2" cy="134.9" rx="1.7" ry="1.2" transform="rotate(4.4 15.2 134.9)" opacity="0.66"/>
<ellipse cx="91.3" cy="161" rx="2.1" ry="1.2" transform="rotate(22.8 91.3 161)" opacity="0.55"/>
<ellipse cx="166.2" cy="149.1" rx="3.3" ry="2.6" transform="rotate(27 166.2 149.1)" opacity="0.55"/>
<ellipse cx="60.3" cy="91.9" rx="1.9" ry="1.2" transform="rotate(0.6 60.3 91.9)" opacity="0.53"/>
<ellipse cx="99.5" cy="31.6" rx="3.9" ry="2.3" transform="rotate(111.9 99.5 31.6)" opacity="0.6"/>
<ellipse cx="74.5" cy="75.6" rx="4.6" ry="2.5" transform="rotate(39.3 74.5 75.6)" opacity="0.82"/>
<ellipse cx="136.3" cy="80.4" rx="3.1" ry="1.8" transform="rotate(176 136.3 80.4)" opacity="0.64"/>
<ellipse cx="4.9" cy="92.7" rx="1.8" ry="1.4" transform="rotate(104.6 4.9 92.7)" opacity="0.51"/>
<ellipse cx="140.6" cy="55.1" rx="3" ry="2.5" transform="rotate(172.3 140.6 55.1)" opacity="0.73"/>
<ellipse cx="7.6" cy="33.5" rx="4.6" ry="2.6" transform="rotate(10.8 7.6 33.5)" opacity="0.79"/>
<ellipse cx="77.4" cy="61" rx="3.1" ry="2.4" transform="rotate(113.1 77.4 61)" opacity="0.52"/>
<ellipse cx="155.1" cy="163.1" rx="3.4" ry="2.6" transform="rotate(13.1 155.1 163.1)" opacity="0.6"/>
<ellipse cx="23.3" cy="26" rx="3.4" ry="2" transform="rotate(103.1 23.3 26)" opacity="0.9"/>
<ellipse cx="135.5" cy="172.9" rx="3" ry="2.1" transform="rotate(172.6 135.5 172.9)" opacity="0.68"/>
<ellipse cx="113.4" cy="14.7" rx="1.5" ry="1.3" transform="rotate(23.5 113.4 14.7)" opacity="0.51"/>
<ellipse cx="66.6" cy="115.6" rx="2.5" ry="1.7" transform="rotate(79.4 66.6 115.6)" opacity="0.68"/>
<ellipse cx="153" cy="176.3" rx="2.1" ry="1.5" transform="rotate(75.9 153 176.3)" opacity="0.7"/>
<ellipse cx="63.9" cy="20.9" rx="3.6" ry="2.6" transform="rotate(133.4 63.9 20.9)" opacity="0.71"/>
<ellipse cx="6.4" cy="31.7" rx="3.4" ry="2" transform="rotate(175.5 6.4 31.7)" opacity="0.47"/>
<ellipse cx="11.1" cy="139.3" rx="3.2" ry="2.6" transform="rotate(71.6 11.1 139.3)" opacity="0.49"/>
<ellipse cx="51.7" cy="44.3" rx="2.6" ry="1.8" transform="rotate(44.8 51.7 44.3)" opacity="0.51"/>
<ellipse cx="105.4" cy="67.1" rx="2.5" ry="1.9" transform="rotate(85.9 105.4 67.1)" opacity="0.81"/>
<ellipse cx="40.1" cy="16" rx="2.3" ry="1.8" transform="rotate(41.9 40.1 16)" opacity="0.5"/>
<ellipse cx="171.7" cy="105.2" rx="2.9" ry="1.8" transform="rotate(80.6 171.7 105.2)" opacity="0.69"/>
<ellipse cx="117.2" cy="37.5" rx="3.1" ry="1.6" transform="rotate(139.7 117.2 37.5)" opacity="0.65"/>
<ellipse cx="121" cy="39.7" rx="2.4" ry="1.4" transform="rotate(57.7 121 39.7)" opacity="0.64"/>
<ellipse cx="156.7" cy="96.5" rx="3" ry="1.9" transform="rotate(53 156.7 96.5)" opacity="0.77"/>
<ellipse cx="54" cy="122.2" rx="3.9" ry="2.4" transform="rotate(114.8 54 122.2)" opacity="0.43"/>
<ellipse cx="169.6" cy="64" rx="3.9" ry="2.6" transform="rotate(152.2 169.6 64)" opacity="0.56"/>
<ellipse cx="72.5" cy="36.9" rx="3.7" ry="2.4" transform="rotate(53.9 72.5 36.9)" opacity="0.36"/>
<ellipse cx="156.6" cy="0.1" rx="2.3" ry="1.7" transform="rotate(127.5 156.6 0.1)" opacity="0.47"/>
<ellipse cx="145.4" cy="142.7" rx="3.1" ry="1.9" transform="rotate(97.7 145.4 142.7)" opacity="0.65"/>
<ellipse cx="79.8" cy="13.6" rx="2" ry="1.2" transform="rotate(19.1 79.8 13.6)" opacity="0.72"/>
<ellipse cx="116.8" cy="142.3" rx="2.6" ry="1.8" transform="rotate(58.2 116.8 142.3)" opacity="0.62"/>
<ellipse cx="123.4" cy="149.4" rx="2.6" ry="1.5" transform="rotate(160.1 123.4 149.4)" opacity="0.63"/>
<ellipse cx="95.8" cy="164.3" rx="2.6" ry="2" transform="rotate(153.6 95.8 164.3)" opacity="0.57"/>
<ellipse cx="32" cy="123.4" rx="3.1" ry="1.7" transform="rotate(70.9 32 123.4)" opacity="0.52"/>
<ellipse cx="34.3" cy="128.2" rx="1.9" ry="1.5" transform="rotate(68.9 34.3 128.2)" opacity="0.75"/>
<ellipse cx="180.4" cy="178.1" rx="4.2" ry="2.4" transform="rotate(98.7 180.4 178.1)" opacity="0.62"/>
<ellipse cx="56.3" cy="169.1" rx="2.9" ry="2.4" transform="rotate(27.1 56.3 169.1)" opacity="0.86"/>
<ellipse cx="163" cy="180" rx="2.4" ry="1.6" transform="rotate(146.4 163 180)" opacity="0.49"/>
<ellipse cx="98" cy="11.3" rx="2" ry="1.4" transform="rotate(132.6 98 11.3)" opacity="0.37"/>
<ellipse cx="86.8" cy="6.7" rx="2.8" ry="1.5" transform="rotate(179.4 86.8 6.7)" opacity="0.42"/>
<ellipse cx="43.1" cy="20.7" rx="2.1" ry="1.5" transform="rotate(14.8 43.1 20.7)" opacity="0.68"/>
<ellipse cx="72.2" cy="101.7" rx="4.6" ry="2.5" transform="rotate(160.6 72.2 101.7)" opacity="0.39"/>
<ellipse cx="158.1" cy="8.7" rx="3.5" ry="2.1" transform="rotate(67.9 158.1 8.7)" opacity="0.79"/>
<ellipse cx="107.4" cy="165.4" rx="2.4" ry="1.6" transform="rotate(91 107.4 165.4)" opacity="0.49"/>
<ellipse cx="128.6" cy="167" rx="3.4" ry="2.3" transform="rotate(70.5 128.6 167)" opacity="0.52"/>
<ellipse cx="177.4" cy="147.5" rx="1.6" ry="1.4" transform="rotate(76.5 177.4 147.5)" opacity="0.85"/>
<ellipse cx="39.7" cy="120.5" rx="3.5" ry="2.5" transform="rotate(113.2 39.7 120.5)" opacity="0.7"/>
<ellipse cx="17.9" cy="112.4" rx="1.8" ry="1.5" transform="rotate(45.3 17.9 112.4)" opacity="0.88"/>
<ellipse cx="13.1" cy="24.3" rx="2.7" ry="2.1" transform="rotate(114.9 13.1 24.3)" opacity="0.76"/>
<ellipse cx="91.4" cy="109.3" rx="3.7" ry="2.3" transform="rotate(176.2 91.4 109.3)" opacity="0.49"/>
<ellipse cx="8.1" cy="36" rx="3.9" ry="2.7" transform="rotate(89.6 8.1 36)" opacity="0.68"/>
<ellipse cx="120.8" cy="0.1" rx="2.4" ry="2" transform="rotate(88.3 120.8 0.1)" opacity="0.37"/>
<ellipse cx="22" cy="86.6" rx="2.5" ry="1.9" transform="rotate(146.1 22 86.6)" opacity="0.47"/>
<ellipse cx="25.2" cy="22.2" rx="2.5" ry="1.7" transform="rotate(155.8 25.2 22.2)" opacity="0.51"/>
<ellipse cx="138.1" cy="114.1" rx="2.8" ry="2.1" transform="rotate(34.6 138.1 114.1)" opacity="0.85"/>
<ellipse cx="74.9" cy="130.9" rx="2.4" ry="1.3" transform="rotate(15.2 74.9 130.9)" opacity="0.51"/>
<ellipse cx="100.9" cy="142.4" rx="3.4" ry="2.6" transform="rotate(10.6 100.9 142.4)" opacity="0.53"/>
<ellipse cx="94.9" cy="95.1" rx="4.4" ry="2.5" transform="rotate(125.6 94.9 95.1)" opacity="0.87"/>
<ellipse cx="154.9" cy="3.5" rx="2" ry="1.7" transform="rotate(44.8 154.9 3.5)" opacity="0.64"/>
<ellipse cx="89.2" cy="130.3" rx="4" ry="2.5" transform="rotate(84.9 89.2 130.3)" opacity="0.4"/>
<ellipse cx="41.7" cy="162.4" rx="4.7" ry="2.6" transform="rotate(144.3 41.7 162.4)" opacity="0.78"/>
<ellipse cx="24.6" cy="65.9" rx="1.9" ry="1.1" transform="rotate(142.6 24.6 65.9)" opacity="0.81"/>
<ellipse cx="114.9" cy="35.8" rx="2.1" ry="1.8" transform="rotate(46.9 114.9 35.8)" opacity="0.74"/>
<ellipse cx="79.6" cy="19" rx="3.7" ry="2.5" transform="rotate(83.4 79.6 19)" opacity="0.45"/>
<ellipse cx="75.5" cy="175.9" rx="2.3" ry="1.7" transform="rotate(161.6 75.5 175.9)" opacity="0.75"/>
<ellipse cx="7.9" cy="1.3" rx="2.4" ry="1.6" transform="rotate(145.5 7.9 1.3)" opacity="0.39"/>
<ellipse cx="132.5" cy="64.3" rx="1.8" ry="1.4" transform="rotate(82.6 132.5 64.3)" opacity="0.44"/>
<ellipse cx="8.7" cy="179.9" rx="3.8" ry="2.3" transform="rotate(139.5 8.7 179.9)" opacity="0.42"/>
<ellipse cx="138.9" cy="28.6" rx="3" ry="2" transform="rotate(18.4 138.9 28.6)" opacity="0.85"/>
<ellipse cx="150.5" cy="104.9" rx="2.4" ry="1.9" transform="rotate(23.3 150.5 104.9)" opacity="0.38"/>
<ellipse cx="153.9" cy="167.2" rx="3.1" ry="2.3" transform="rotate(150.8 153.9 167.2)" opacity="0.9"/>
<ellipse cx="9.2" cy="92" rx="2.1" ry="1.4" transform="rotate(20.3 9.2 92)" opacity="0.71"/>
<ellipse cx="127.6" cy="106.7" rx="2.7" ry="1.8" transform="rotate(21.8 127.6 106.7)" opacity="0.87"/>
<ellipse cx="123.3" cy="76.9" rx="4" ry="2.2" transform="rotate(35.2 123.3 76.9)" opacity="0.55"/>
<ellipse cx="43.2" cy="36.9" rx="3.9" ry="2.5" transform="rotate(33.6 43.2 36.9)" opacity="0.61"/>
<ellipse cx="80.6" cy="163.3" rx="4.5" ry="2.6" transform="rotate(28.4 80.6 163.3)" opacity="0.83"/>
<ellipse cx="164.1" cy="65.9" rx="2.1" ry="1.4" transform="rotate(120.3 164.1 65.9)" opacity="0.78"/>
<ellipse cx="12.8" cy="154.7" rx="2" ry="1.4" transform="rotate(40.4 12.8 154.7)" opacity="0.89"/>
<ellipse cx="87" cy="20.6" rx="1.6" ry="1.3" transform="rotate(22.6 87 20.6)" opacity="0.78"/>
<ellipse cx="19.9" cy="136.1" rx="3.7" ry="2.4" transform="rotate(104.9 19.9 136.1)" opacity="0.46"/>
<ellipse cx="139.3" cy="117.8" rx="3" ry="1.9" transform="rotate(52 139.3 117.8)" opacity="0.44"/>
<ellipse cx="64.2" cy="170.2" rx="3.4" ry="2" transform="rotate(18.8 64.2 170.2)" opacity="0.85"/>
<ellipse cx="102.2" cy="57.9" rx="1.6" ry="1.4" transform="rotate(79.3 102.2 57.9)" opacity="0.54"/>
<ellipse cx="140" cy="159.8" rx="3.7" ry="2" transform="rotate(12.2 140 159.8)" opacity="0.84"/>
<ellipse cx="93.1" cy="173.7" rx="3.8" ry="2.5" transform="rotate(125.4 93.1 173.7)" opacity="0.48"/>
<ellipse cx="37.4" cy="146.4" rx="2.9" ry="2" transform="rotate(174.1 37.4 146.4)" opacity="0.44"/>
<ellipse cx="6.6" cy="63.7" rx="3.3" ry="1.8" transform="rotate(114.1 6.6 63.7)" opacity="0.44"/>
<ellipse cx="132.3" cy="71.4" rx="3.6" ry="2.7" transform="rotate(26.3 132.3 71.4)" opacity="0.48"/>
<ellipse cx="31.4" cy="85.6" rx="2.7" ry="1.8" transform="rotate(83.3 31.4 85.6)" opacity="0.78"/>
<ellipse cx="78" cy="2.4" rx="1.6" ry="1.2" transform="rotate(63.3 78 2.4)" opacity="0.84"/>
<ellipse cx="86" cy="58.7" rx="1.7" ry="1.4" transform="rotate(8.3 86 58.7)" opacity="0.49"/>
<ellipse cx="56.3" cy="113.2" rx="3.5" ry="2.4" transform="rotate(150.4 56.3 113.2)" opacity="0.51"/>
<ellipse cx="143.8" cy="53.1" rx="2.6" ry="1.4" transform="rotate(175.2 143.8 53.1)" opacity="0.56"/>
<ellipse cx="124.2" cy="85.8" rx="2.2" ry="1.6" transform="rotate(14.8 124.2 85.8)" opacity="0.56"/>
<ellipse cx="104.6" cy="25.5" rx="3.2" ry="2.5" transform="rotate(106 104.6 25.5)" opacity="0.62"/>
<ellipse cx="110.9" cy="74.6" rx="1.5" ry="1.1" transform="rotate(146.4 110.9 74.6)" opacity="0.88"/>
<ellipse cx="52.8" cy="163.3" rx="2.5" ry="1.5" transform="rotate(33 52.8 163.3)" opacity="0.49"/>
<ellipse cx="121.7" cy="94.6" rx="3.4" ry="2.2" transform="rotate(62.8 121.7 94.6)" opacity="0.79"/>
<ellipse cx="106.4" cy="28.9" rx="2.5" ry="1.5" transform="rotate(32.1 106.4 28.9)" opacity="0.83"/>
<ellipse cx="67.9" cy="142" rx="2.8" ry="2" transform="rotate(40.7 67.9 142)" opacity="0.89"/>
<ellipse cx="35" cy="91" rx="3.8" ry="2" transform="rotate(75.1 35 91)" opacity="0.47"/>
<ellipse cx="82.6" cy="69" rx="2.5" ry="1.5" transform="rotate(5.4 82.6 69)" opacity="0.36"/>
<ellipse cx="89.2" cy="147" rx="3.8" ry="2.6" transform="rotate(120.7 89.2 147)" opacity="0.56"/>
<ellipse cx="23.5" cy="133.1" rx="3.4" ry="1.8" transform="rotate(83.4 23.5 133.1)" opacity="0.63"/>
<ellipse cx="122.9" cy="45.1" rx="3.7" ry="2" transform="rotate(75.1 122.9 45.1)" opacity="0.42"/>
<ellipse cx="101.4" cy="91.1" rx="3.9" ry="2.1" transform="rotate(117.8 101.4 91.1)" opacity="0.73"/>
<ellipse cx="27" cy="34.2" rx="4.1" ry="3.4"/>
<ellipse cx="44.3" cy="42.9" rx="2.6" ry="2.2"/>
<ellipse cx="8.1" cy="48.7" rx="2" ry="1.7" opacity="0.9"/>
<ellipse cx="158.8" cy="51.6" rx="2.3" ry="2"/>
<ellipse cx="161.7" cy="89.3" rx="2.3" ry="2"/>
<ellipse cx="145.8" cy="74.8" rx="2.3" ry="2"/>
<ellipse cx="127" cy="71.9" rx="2.6" ry="2.2" opacity="0.9"/>
<ellipse cx="69" cy="87.8" rx="2" ry="1.7"/>
<ellipse cx="48.7" cy="87.8" rx="2.6" ry="2.2" opacity="0.9"/>
<ellipse cx="115.4" cy="99.4" rx="2.3" ry="2"/>
<ellipse cx="145.8" cy="135.7" rx="1.7" ry="1.5"/>
<ellipse cx="141.4" cy="167.5" rx="2.6" ry="2.2" opacity="0.9"/>
<ellipse cx="71.9" cy="158.8" rx="2.6" ry="2.2" opacity="0.9"/>
<ellipse cx="51.6" cy="135.7" rx="3.2" ry="2.7" opacity="0.8"/>
<ellipse cx="84.9" cy="121.2" rx="2.6" ry="2.2" opacity="0.8"/>
<ellipse cx="55.9" cy="15.4" rx="2" ry="1.7" opacity="0.9"/>
<ellipse cx="176.2" cy="24.1" rx="1.7" ry="1.5" opacity="0.9"/>
</g>
</g>
</svg>
<svg x="1267.5" y="1204.3" width="181.5" height="179.2" overflow="hidden" stroke="none">
<rect width="182.5" height="180.2" fill="#071c0f" stroke="none"/>
<g filter="url(#b2)">
<ellipse cx="125.3" cy="48.2" rx="6" ry="6" fill="#2bc470" opacity="0.68"/>
<ellipse cx="160.7" cy="51.2" rx="6.5" ry="6.5" fill="#3cf090" opacity="0.8"/>
<ellipse cx="140.9" cy="57.7" rx="13" ry="26" fill="#1f9a52" transform="rotate(12 140.9 57.7)" opacity="0.64"/>
<ellipse cx="131.9" cy="57.7" rx="9" ry="16" fill="#22a85a" transform="rotate(-35 131.9 57.7)" opacity="0.64"/>
<ellipse cx="153.9" cy="65.7" rx="8" ry="14" fill="#22a85a" transform="rotate(30 153.9 65.7)" opacity="0.64"/>
<ellipse cx="19.5" cy="54.5" rx="11" ry="9" fill="#1a8848" opacity="0.56"/>
<ellipse cx="9.9" cy="45.7" rx="6" ry="6" fill="#1c944e" opacity="0.56"/>
<ellipse cx="27.9" cy="35.7" rx="5" ry="5" fill="#167a40" opacity="0.48"/>
<ellipse cx="120.9" cy="97.7" rx="5" ry="10" fill="#1c8c4a" transform="rotate(35 120.9 97.7)" opacity="0.56"/>
<ellipse cx="126.7" cy="141.5" rx="7" ry="5" fill="#15703a" opacity="0.48"/>
<ellipse cx="169.9" cy="160.7" rx="8" ry="18" fill="#1f9a52" transform="rotate(10 169.9 160.7)" opacity="0.64"/>
<ellipse cx="149.9" cy="175.7" rx="10" ry="5" fill="#19864a" opacity="0.56"/>
<ellipse cx="171.9" cy="75.7" rx="5" ry="5" fill="#2cc46e" opacity="0.72"/>
<ellipse cx="165.9" cy="35.7" rx="4" ry="4" fill="#28b866" opacity="0.72"/>
<ellipse cx="147.9" cy="39.7" rx="4" ry="4" fill="#26b060" opacity="0.64"/>
<ellipse cx="141.9" cy="20.7" rx="4" ry="12" fill="#1c8c4a" transform="rotate(15 141.9 20.7)" opacity="0.48"/>
<ellipse cx="49.9" cy="93.7" rx="4" ry="4" fill="#12602f" opacity="0.48"/>
<ellipse cx="12.9" cy="176.7" rx="4" ry="2" fill="#1c944e" opacity="0.64"/>
</g>
<use href="#rgp"/>
<g filter="url(#b1)">
<ellipse cx="125.3" cy="48.2" rx="6" ry="6" fill="#2bc470" opacity="0.85"/>
<ellipse cx="160.7" cy="51.2" rx="6.5" ry="6.5" fill="#3cf090"/>
</g>
</svg>
</svg>
</body></html>
